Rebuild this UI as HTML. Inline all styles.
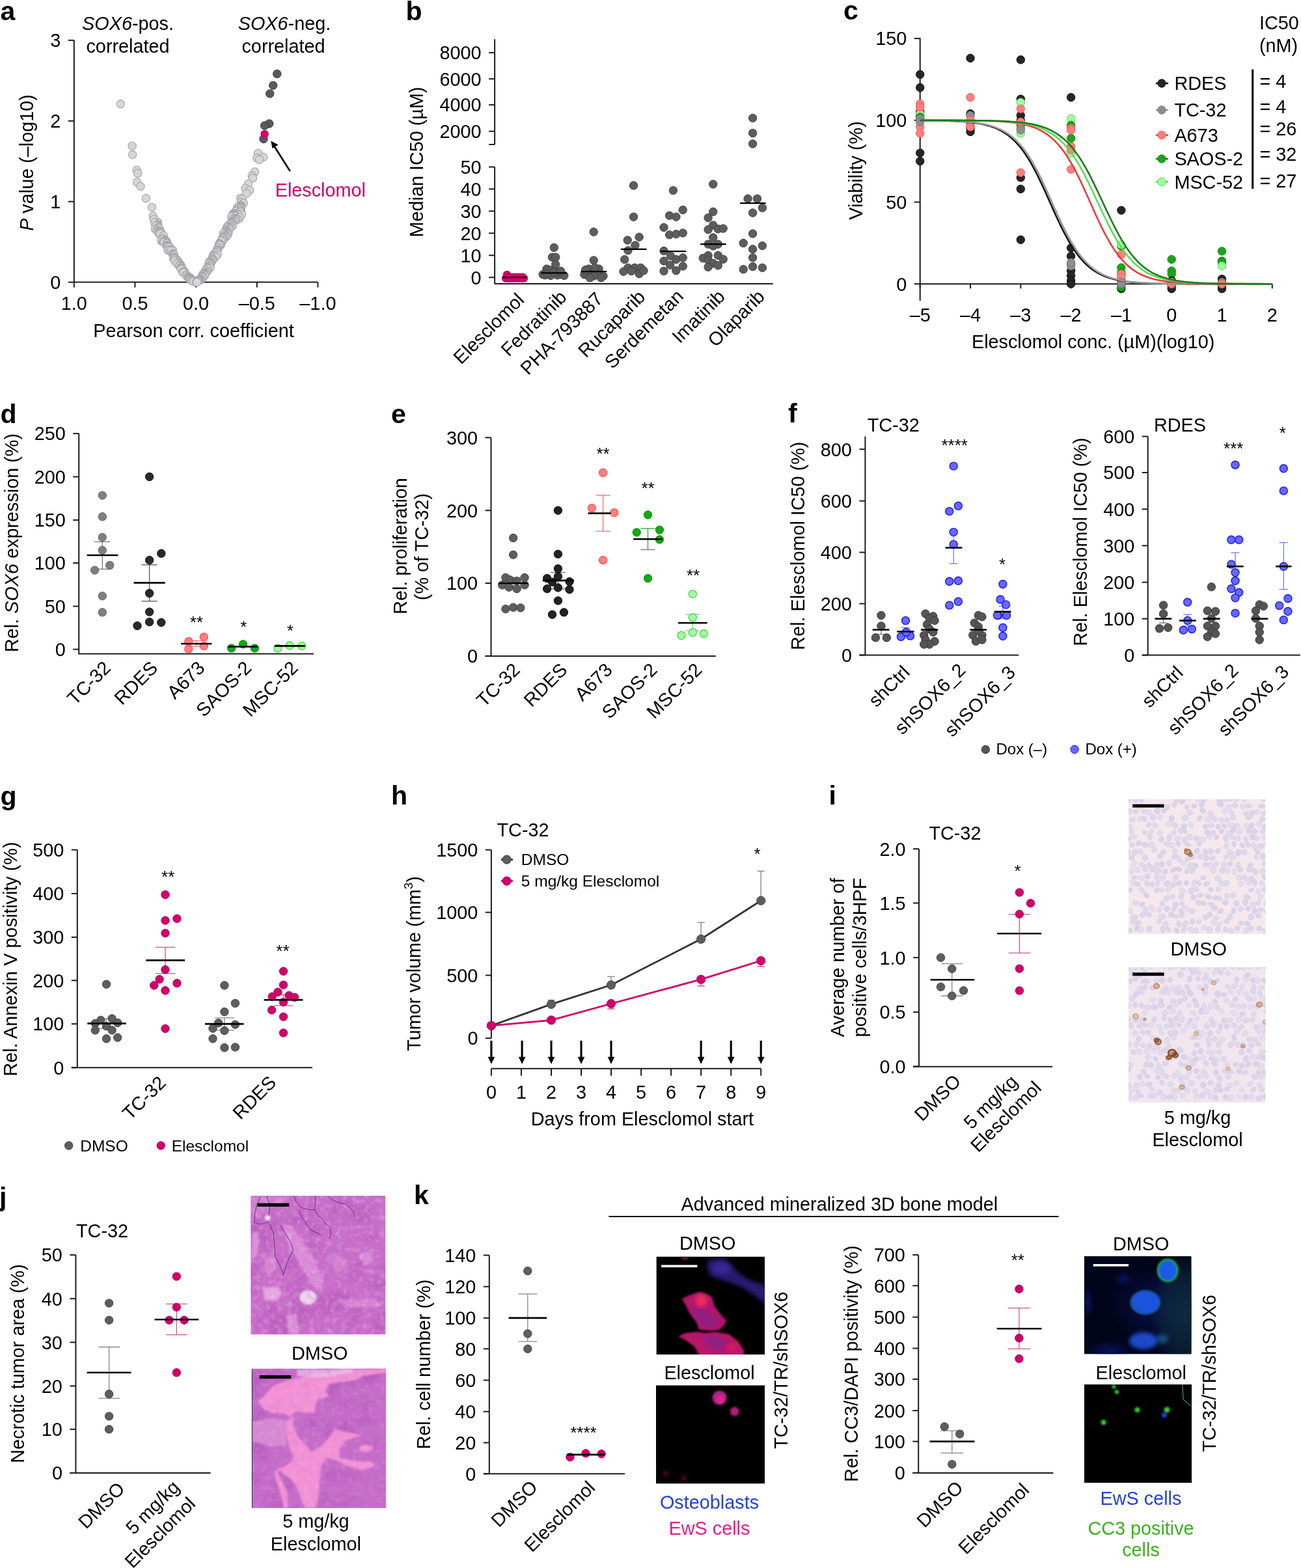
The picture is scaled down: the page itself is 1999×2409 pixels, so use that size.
<!DOCTYPE html>
<html><head><meta charset="utf-8"><title>Figure</title>
<style>
html,body{margin:0;padding:0;background:#fff;}
svg{display:block;}
text{font-family:"Liberation Sans",Arial,Helvetica,sans-serif;font-size:28.8px;}
</style></head><body>
<svg width="1999" height="2409" viewBox="0 0 1999 2409">
<defs><filter id="bl3" x="-30%" y="-30%" width="160%" height="160%"><feGaussianBlur stdDeviation="3"/></filter>
<filter id="bl2" x="-30%" y="-30%" width="160%" height="160%"><feGaussianBlur stdDeviation="1.6"/></filter>
<radialGradient id="hzG"><stop offset="0" stop-color="#0e2c40" stop-opacity="0.95"/><stop offset="0.6" stop-color="#0e2c40" stop-opacity="0.6"/><stop offset="1" stop-color="#0e2c40" stop-opacity="0"/></radialGradient>
<radialGradient id="hzB"><stop offset="0" stop-color="#0a1460" stop-opacity="0.9"/><stop offset="1" stop-color="#0a1460" stop-opacity="0"/></radialGradient>
<filter id="heD" x="0" y="0" width="100%" height="100%"><feTurbulence type="fractalNoise" baseFrequency="0.09" numOctaves="3" seed="4"/><feColorMatrix type="matrix" values="0 0 0 0 0.55 0 0 0 0 0.22 0 0 0 0 0.62 1.5 0 0 0 -0.62"/></filter>
<filter id="heL" x="0" y="0" width="100%" height="100%"><feTurbulence type="fractalNoise" baseFrequency="0.12" numOctaves="3" seed="11"/><feColorMatrix type="matrix" values="0 0 0 0 0.97 0 0 0 0 0.7 0 0 0 0 0.93 1.6 0 0 0 -0.75"/></filter>
<filter id="bl6" x="-30%" y="-30%" width="160%" height="160%"><feGaussianBlur stdDeviation="6"/></filter></defs>
<rect width="1999" height="2409" fill="#fff"/>
<text x="0.5" y="30.6" style="font-size:41px" font-weight="bold">a</text>
<line x1="113.8" y1="62" x2="113.8" y2="433.6" stroke="#1c1c1c" stroke-width="2"/>
<line x1="104.8" y1="61.9" x2="113.8" y2="61.9" stroke="#1c1c1c" stroke-width="2"/>
<text x="93.3" y="72.2" text-anchor="end">3</text>
<line x1="104.8" y1="185.8" x2="113.8" y2="185.8" stroke="#1c1c1c" stroke-width="2"/>
<text x="93.3" y="196.1" text-anchor="end">2</text>
<line x1="104.8" y1="309.7" x2="113.8" y2="309.7" stroke="#1c1c1c" stroke-width="2"/>
<text x="93.3" y="320" text-anchor="end">1</text>
<line x1="104.8" y1="433.6" x2="113.8" y2="433.6" stroke="#1c1c1c" stroke-width="2"/>
<text x="93.3" y="443.9" text-anchor="end">0</text>
<line x1="113.8" y1="433.6" x2="488.4" y2="433.6" stroke="#1c1c1c" stroke-width="2"/>
<line x1="113.8" y1="433.6" x2="113.8" y2="441.6" stroke="#1c1c1c" stroke-width="2"/>
<text x="113.8" y="476" text-anchor="middle">1.0</text>
<line x1="207.4" y1="433.6" x2="207.4" y2="441.6" stroke="#1c1c1c" stroke-width="2"/>
<text x="207.4" y="476" text-anchor="middle">0.5</text>
<line x1="301.1" y1="433.6" x2="301.1" y2="441.6" stroke="#1c1c1c" stroke-width="2"/>
<text x="301.1" y="476" text-anchor="middle">0.0</text>
<line x1="394.8" y1="433.6" x2="394.8" y2="441.6" stroke="#1c1c1c" stroke-width="2"/>
<text x="394.8" y="476" text-anchor="middle">–0.5</text>
<line x1="488.4" y1="433.6" x2="488.4" y2="441.6" stroke="#1c1c1c" stroke-width="2"/>
<text x="488.4" y="476" text-anchor="middle">–1.0</text>
<text x="297.5" y="518" text-anchor="middle">Pearson corr. coefficient</text>
<text x="51" y="250" text-anchor="middle" transform="rotate(-90 51 250)"><tspan font-style="italic">P</tspan> value (–log10)</text>
<text x="196.5" y="46" text-anchor="middle"><tspan font-style="italic">SOX6</tspan>-pos.</text>
<text x="196.5" y="80.5" text-anchor="middle">correlated</text>
<text x="437" y="46" text-anchor="middle"><tspan font-style="italic">SOX6</tspan>-neg.</text>
<text x="435.5" y="80.5" text-anchor="middle">correlated</text>
<circle cx="185.2" cy="159.8" r="6.2" fill="#d6d6d6" stroke="#a4a4ab" stroke-width="1.1"/>
<circle cx="203.1" cy="224.2" r="6.2" fill="#d6d6d6" stroke="#a4a4ab" stroke-width="1.1"/>
<circle cx="396.6" cy="235.4" r="6.2" fill="#d6d6d6" stroke="#a4a4ab" stroke-width="1.1"/>
<circle cx="203.7" cy="237.8" r="6.2" fill="#d6d6d6" stroke="#a4a4ab" stroke-width="1.1"/>
<circle cx="404.7" cy="241.6" r="6.2" fill="#d6d6d6" stroke="#a4a4ab" stroke-width="1.1"/>
<circle cx="394.8" cy="242.8" r="6.2" fill="#d6d6d6" stroke="#a4a4ab" stroke-width="1.1"/>
<circle cx="398.5" cy="245.3" r="6.2" fill="#d6d6d6" stroke="#a4a4ab" stroke-width="1.1"/>
<circle cx="210.1" cy="261.4" r="6.2" fill="#d6d6d6" stroke="#a4a4ab" stroke-width="1.1"/>
<circle cx="391.6" cy="263.9" r="6.2" fill="#d6d6d6" stroke="#a4a4ab" stroke-width="1.1"/>
<circle cx="211.8" cy="266.3" r="6.2" fill="#d6d6d6" stroke="#a4a4ab" stroke-width="1.1"/>
<circle cx="387.3" cy="270.1" r="6.2" fill="#d6d6d6" stroke="#a4a4ab" stroke-width="1.1"/>
<circle cx="388.6" cy="273.8" r="6.2" fill="#d6d6d6" stroke="#a4a4ab" stroke-width="1.1"/>
<circle cx="210.6" cy="280" r="6.2" fill="#d6d6d6" stroke="#a4a4ab" stroke-width="1.1"/>
<circle cx="381.6" cy="282.4" r="6.2" fill="#d6d6d6" stroke="#a4a4ab" stroke-width="1.1"/>
<circle cx="215.9" cy="286.2" r="6.2" fill="#d6d6d6" stroke="#a4a4ab" stroke-width="1.1"/>
<circle cx="377" cy="289.3" r="6.2" fill="#d6d6d6" stroke="#a4a4ab" stroke-width="1.1"/>
<circle cx="383.5" cy="292.4" r="6.2" fill="#d6d6d6" stroke="#a4a4ab" stroke-width="1.1"/>
<circle cx="378.8" cy="297.3" r="6.2" fill="#d6d6d6" stroke="#a4a4ab" stroke-width="1.1"/>
<circle cx="369.4" cy="304.5" r="6.2" fill="#d6d6d6" stroke="#a4a4ab" stroke-width="1.1"/>
<circle cx="224.3" cy="304.7" r="6.2" fill="#d6d6d6" stroke="#a4a4ab" stroke-width="1.1"/>
<circle cx="372.3" cy="306" r="6.2" fill="#d6d6d6" stroke="#a4a4ab" stroke-width="1.1"/>
<circle cx="370.5" cy="310.6" r="6.2" fill="#d6d6d6" stroke="#a4a4ab" stroke-width="1.1"/>
<circle cx="374.1" cy="312.2" r="6.2" fill="#d6d6d6" stroke="#a4a4ab" stroke-width="1.1"/>
<circle cx="369.4" cy="315.3" r="6.2" fill="#d6d6d6" stroke="#a4a4ab" stroke-width="1.1"/>
<circle cx="370.7" cy="316.6" r="6.2" fill="#d6d6d6" stroke="#a4a4ab" stroke-width="1.1"/>
<circle cx="369.5" cy="317.1" r="6.2" fill="#d6d6d6" stroke="#a4a4ab" stroke-width="1.1"/>
<circle cx="366.7" cy="317.9" r="6.2" fill="#d6d6d6" stroke="#a4a4ab" stroke-width="1.1"/>
<circle cx="369" cy="317.9" r="6.2" fill="#d6d6d6" stroke="#a4a4ab" stroke-width="1.1"/>
<circle cx="233.5" cy="318.4" r="6.2" fill="#d6d6d6" stroke="#a4a4ab" stroke-width="1.1"/>
<circle cx="368.9" cy="319.1" r="6.2" fill="#d6d6d6" stroke="#a4a4ab" stroke-width="1.1"/>
<circle cx="370.4" cy="319.3" r="6.2" fill="#d6d6d6" stroke="#a4a4ab" stroke-width="1.1"/>
<circle cx="369.2" cy="319.5" r="6.2" fill="#d6d6d6" stroke="#a4a4ab" stroke-width="1.1"/>
<circle cx="364.5" cy="319.6" r="6.2" fill="#d6d6d6" stroke="#a4a4ab" stroke-width="1.1"/>
<circle cx="364.8" cy="320" r="6.2" fill="#d6d6d6" stroke="#a4a4ab" stroke-width="1.1"/>
<circle cx="368.3" cy="321" r="6.2" fill="#d6d6d6" stroke="#a4a4ab" stroke-width="1.1"/>
<circle cx="367.8" cy="321.4" r="6.2" fill="#d6d6d6" stroke="#a4a4ab" stroke-width="1.1"/>
<circle cx="363.3" cy="323" r="6.2" fill="#d6d6d6" stroke="#a4a4ab" stroke-width="1.1"/>
<circle cx="364.8" cy="323.3" r="6.2" fill="#d6d6d6" stroke="#a4a4ab" stroke-width="1.1"/>
<circle cx="362.5" cy="324.4" r="6.2" fill="#d6d6d6" stroke="#a4a4ab" stroke-width="1.1"/>
<circle cx="370.4" cy="324.6" r="6.2" fill="#d6d6d6" stroke="#a4a4ab" stroke-width="1.1"/>
<circle cx="369.7" cy="325.8" r="6.2" fill="#d6d6d6" stroke="#a4a4ab" stroke-width="1.1"/>
<circle cx="363.1" cy="327.7" r="6.2" fill="#d6d6d6" stroke="#a4a4ab" stroke-width="1.1"/>
<circle cx="362.4" cy="328" r="6.2" fill="#d6d6d6" stroke="#a4a4ab" stroke-width="1.1"/>
<circle cx="358.3" cy="328.2" r="6.2" fill="#d6d6d6" stroke="#a4a4ab" stroke-width="1.1"/>
<circle cx="364.6" cy="328.2" r="6.2" fill="#d6d6d6" stroke="#a4a4ab" stroke-width="1.1"/>
<circle cx="359.6" cy="328.3" r="6.2" fill="#d6d6d6" stroke="#a4a4ab" stroke-width="1.1"/>
<circle cx="364.2" cy="328.4" r="6.2" fill="#d6d6d6" stroke="#a4a4ab" stroke-width="1.1"/>
<circle cx="360.6" cy="329.1" r="6.2" fill="#d6d6d6" stroke="#a4a4ab" stroke-width="1.1"/>
<circle cx="371.3" cy="329.5" r="6.2" fill="#d6d6d6" stroke="#a4a4ab" stroke-width="1.1"/>
<circle cx="359.1" cy="330" r="6.2" fill="#d6d6d6" stroke="#a4a4ab" stroke-width="1.1"/>
<circle cx="359.5" cy="330.2" r="6.2" fill="#d6d6d6" stroke="#a4a4ab" stroke-width="1.1"/>
<circle cx="366.1" cy="330.2" r="6.2" fill="#d6d6d6" stroke="#a4a4ab" stroke-width="1.1"/>
<circle cx="357.4" cy="331.1" r="6.2" fill="#d6d6d6" stroke="#a4a4ab" stroke-width="1.1"/>
<circle cx="361.6" cy="331.1" r="6.2" fill="#d6d6d6" stroke="#a4a4ab" stroke-width="1.1"/>
<circle cx="360.9" cy="331.3" r="6.2" fill="#d6d6d6" stroke="#a4a4ab" stroke-width="1.1"/>
<circle cx="235.2" cy="332" r="6.2" fill="#d6d6d6" stroke="#a4a4ab" stroke-width="1.1"/>
<circle cx="360.5" cy="332.5" r="6.2" fill="#d6d6d6" stroke="#a4a4ab" stroke-width="1.1"/>
<circle cx="355.6" cy="333.2" r="6.2" fill="#d6d6d6" stroke="#a4a4ab" stroke-width="1.1"/>
<circle cx="368.5" cy="334.5" r="6.2" fill="#d6d6d6" stroke="#a4a4ab" stroke-width="1.1"/>
<circle cx="360.6" cy="335.6" r="6.2" fill="#d6d6d6" stroke="#a4a4ab" stroke-width="1.1"/>
<circle cx="358" cy="336" r="6.2" fill="#d6d6d6" stroke="#a4a4ab" stroke-width="1.1"/>
<circle cx="360.4" cy="336.6" r="6.2" fill="#d6d6d6" stroke="#a4a4ab" stroke-width="1.1"/>
<circle cx="236.5" cy="337" r="6.2" fill="#d6d6d6" stroke="#a4a4ab" stroke-width="1.1"/>
<circle cx="365.7" cy="337" r="6.2" fill="#d6d6d6" stroke="#a4a4ab" stroke-width="1.1"/>
<circle cx="362.9" cy="337.3" r="6.2" fill="#d6d6d6" stroke="#a4a4ab" stroke-width="1.1"/>
<circle cx="361.6" cy="338" r="6.2" fill="#d6d6d6" stroke="#a4a4ab" stroke-width="1.1"/>
<circle cx="358.9" cy="339.3" r="6.2" fill="#d6d6d6" stroke="#a4a4ab" stroke-width="1.1"/>
<circle cx="359.1" cy="339.4" r="6.2" fill="#d6d6d6" stroke="#a4a4ab" stroke-width="1.1"/>
<circle cx="359.4" cy="340.6" r="6.2" fill="#d6d6d6" stroke="#a4a4ab" stroke-width="1.1"/>
<circle cx="356.8" cy="341.3" r="6.2" fill="#d6d6d6" stroke="#a4a4ab" stroke-width="1.1"/>
<circle cx="242.4" cy="341.5" r="6.2" fill="#d6d6d6" stroke="#a4a4ab" stroke-width="1.1"/>
<circle cx="241.5" cy="341.6" r="6.2" fill="#d6d6d6" stroke="#a4a4ab" stroke-width="1.1"/>
<circle cx="237.8" cy="341.9" r="6.2" fill="#d6d6d6" stroke="#a4a4ab" stroke-width="1.1"/>
<circle cx="357.4" cy="342" r="6.2" fill="#d6d6d6" stroke="#a4a4ab" stroke-width="1.1"/>
<circle cx="355.7" cy="342.9" r="6.2" fill="#d6d6d6" stroke="#a4a4ab" stroke-width="1.1"/>
<circle cx="356.5" cy="343.5" r="6.2" fill="#d6d6d6" stroke="#a4a4ab" stroke-width="1.1"/>
<circle cx="352.9" cy="344.4" r="6.2" fill="#d6d6d6" stroke="#a4a4ab" stroke-width="1.1"/>
<circle cx="355.7" cy="344.6" r="6.2" fill="#d6d6d6" stroke="#a4a4ab" stroke-width="1.1"/>
<circle cx="241.8" cy="345" r="6.2" fill="#d6d6d6" stroke="#a4a4ab" stroke-width="1.1"/>
<circle cx="241" cy="345.8" r="6.2" fill="#d6d6d6" stroke="#a4a4ab" stroke-width="1.1"/>
<circle cx="242.8" cy="346" r="6.2" fill="#d6d6d6" stroke="#a4a4ab" stroke-width="1.1"/>
<circle cx="242.4" cy="346.6" r="6.2" fill="#d6d6d6" stroke="#a4a4ab" stroke-width="1.1"/>
<circle cx="241.2" cy="346.7" r="6.2" fill="#d6d6d6" stroke="#a4a4ab" stroke-width="1.1"/>
<circle cx="239.3" cy="346.9" r="6.2" fill="#d6d6d6" stroke="#a4a4ab" stroke-width="1.1"/>
<circle cx="357.1" cy="347.1" r="6.2" fill="#d6d6d6" stroke="#a4a4ab" stroke-width="1.1"/>
<circle cx="353.8" cy="347.2" r="6.2" fill="#d6d6d6" stroke="#a4a4ab" stroke-width="1.1"/>
<circle cx="349.2" cy="347.9" r="6.2" fill="#d6d6d6" stroke="#a4a4ab" stroke-width="1.1"/>
<circle cx="352.6" cy="348.7" r="6.2" fill="#d6d6d6" stroke="#a4a4ab" stroke-width="1.1"/>
<circle cx="243.6" cy="348.9" r="6.2" fill="#d6d6d6" stroke="#a4a4ab" stroke-width="1.1"/>
<circle cx="353.9" cy="349.4" r="6.2" fill="#d6d6d6" stroke="#a4a4ab" stroke-width="1.1"/>
<circle cx="351.2" cy="349.6" r="6.2" fill="#d6d6d6" stroke="#a4a4ab" stroke-width="1.1"/>
<circle cx="351.3" cy="349.8" r="6.2" fill="#d6d6d6" stroke="#a4a4ab" stroke-width="1.1"/>
<circle cx="243.3" cy="349.9" r="6.2" fill="#d6d6d6" stroke="#a4a4ab" stroke-width="1.1"/>
<circle cx="349.1" cy="350" r="6.2" fill="#d6d6d6" stroke="#a4a4ab" stroke-width="1.1"/>
<circle cx="242.5" cy="350.2" r="6.2" fill="#d6d6d6" stroke="#a4a4ab" stroke-width="1.1"/>
<circle cx="244.1" cy="350.5" r="6.2" fill="#d6d6d6" stroke="#a4a4ab" stroke-width="1.1"/>
<circle cx="238.4" cy="351.8" r="6.2" fill="#d6d6d6" stroke="#a4a4ab" stroke-width="1.1"/>
<circle cx="350.1" cy="352" r="6.2" fill="#d6d6d6" stroke="#a4a4ab" stroke-width="1.1"/>
<circle cx="352.2" cy="352.4" r="6.2" fill="#d6d6d6" stroke="#a4a4ab" stroke-width="1.1"/>
<circle cx="347.3" cy="352.8" r="6.2" fill="#d6d6d6" stroke="#a4a4ab" stroke-width="1.1"/>
<circle cx="241.2" cy="353.1" r="6.2" fill="#d6d6d6" stroke="#a4a4ab" stroke-width="1.1"/>
<circle cx="347.5" cy="354.4" r="6.2" fill="#d6d6d6" stroke="#a4a4ab" stroke-width="1.1"/>
<circle cx="241.5" cy="354.9" r="6.2" fill="#d6d6d6" stroke="#a4a4ab" stroke-width="1.1"/>
<circle cx="349.8" cy="354.9" r="6.2" fill="#d6d6d6" stroke="#a4a4ab" stroke-width="1.1"/>
<circle cx="245.8" cy="354.9" r="6.2" fill="#d6d6d6" stroke="#a4a4ab" stroke-width="1.1"/>
<circle cx="244.1" cy="355" r="6.2" fill="#d6d6d6" stroke="#a4a4ab" stroke-width="1.1"/>
<circle cx="348.4" cy="355.2" r="6.2" fill="#d6d6d6" stroke="#a4a4ab" stroke-width="1.1"/>
<circle cx="244.7" cy="355.4" r="6.2" fill="#d6d6d6" stroke="#a4a4ab" stroke-width="1.1"/>
<circle cx="246.9" cy="355.5" r="6.2" fill="#d6d6d6" stroke="#a4a4ab" stroke-width="1.1"/>
<circle cx="245.8" cy="355.9" r="6.2" fill="#d6d6d6" stroke="#a4a4ab" stroke-width="1.1"/>
<circle cx="348.8" cy="355.9" r="6.2" fill="#d6d6d6" stroke="#a4a4ab" stroke-width="1.1"/>
<circle cx="350.8" cy="356.4" r="6.2" fill="#d6d6d6" stroke="#a4a4ab" stroke-width="1.1"/>
<circle cx="348.5" cy="357.1" r="6.2" fill="#d6d6d6" stroke="#a4a4ab" stroke-width="1.1"/>
<circle cx="247" cy="357.3" r="6.2" fill="#d6d6d6" stroke="#a4a4ab" stroke-width="1.1"/>
<circle cx="347.6" cy="357.5" r="6.2" fill="#d6d6d6" stroke="#a4a4ab" stroke-width="1.1"/>
<circle cx="245.6" cy="357.8" r="6.2" fill="#d6d6d6" stroke="#a4a4ab" stroke-width="1.1"/>
<circle cx="247.2" cy="357.8" r="6.2" fill="#d6d6d6" stroke="#a4a4ab" stroke-width="1.1"/>
<circle cx="348.8" cy="358.5" r="6.2" fill="#d6d6d6" stroke="#a4a4ab" stroke-width="1.1"/>
<circle cx="343.1" cy="358.7" r="6.2" fill="#d6d6d6" stroke="#a4a4ab" stroke-width="1.1"/>
<circle cx="350.5" cy="359.1" r="6.2" fill="#d6d6d6" stroke="#a4a4ab" stroke-width="1.1"/>
<circle cx="244.5" cy="359.3" r="6.2" fill="#d6d6d6" stroke="#a4a4ab" stroke-width="1.1"/>
<circle cx="246.3" cy="359.4" r="6.2" fill="#d6d6d6" stroke="#a4a4ab" stroke-width="1.1"/>
<circle cx="349.6" cy="360.3" r="6.2" fill="#d6d6d6" stroke="#a4a4ab" stroke-width="1.1"/>
<circle cx="346.6" cy="360.9" r="6.2" fill="#d6d6d6" stroke="#a4a4ab" stroke-width="1.1"/>
<circle cx="344.4" cy="362.1" r="6.2" fill="#d6d6d6" stroke="#a4a4ab" stroke-width="1.1"/>
<circle cx="251.5" cy="362.1" r="6.2" fill="#d6d6d6" stroke="#a4a4ab" stroke-width="1.1"/>
<circle cx="347.3" cy="362.4" r="6.2" fill="#d6d6d6" stroke="#a4a4ab" stroke-width="1.1"/>
<circle cx="344" cy="362.4" r="6.2" fill="#d6d6d6" stroke="#a4a4ab" stroke-width="1.1"/>
<circle cx="344.6" cy="363.9" r="6.2" fill="#d6d6d6" stroke="#a4a4ab" stroke-width="1.1"/>
<circle cx="347.2" cy="364.1" r="6.2" fill="#d6d6d6" stroke="#a4a4ab" stroke-width="1.1"/>
<circle cx="344.8" cy="364.9" r="6.2" fill="#d6d6d6" stroke="#a4a4ab" stroke-width="1.1"/>
<circle cx="343.1" cy="366" r="6.2" fill="#d6d6d6" stroke="#a4a4ab" stroke-width="1.1"/>
<circle cx="250.1" cy="366.2" r="6.2" fill="#d6d6d6" stroke="#a4a4ab" stroke-width="1.1"/>
<circle cx="341.6" cy="366.4" r="6.2" fill="#d6d6d6" stroke="#a4a4ab" stroke-width="1.1"/>
<circle cx="343.6" cy="366.9" r="6.2" fill="#d6d6d6" stroke="#a4a4ab" stroke-width="1.1"/>
<circle cx="342" cy="367" r="6.2" fill="#d6d6d6" stroke="#a4a4ab" stroke-width="1.1"/>
<circle cx="249.2" cy="367.2" r="6.2" fill="#d6d6d6" stroke="#a4a4ab" stroke-width="1.1"/>
<circle cx="254.1" cy="368.9" r="6.2" fill="#d6d6d6" stroke="#a4a4ab" stroke-width="1.1"/>
<circle cx="340.4" cy="369.1" r="6.2" fill="#d6d6d6" stroke="#a4a4ab" stroke-width="1.1"/>
<circle cx="254.3" cy="369.6" r="6.2" fill="#d6d6d6" stroke="#a4a4ab" stroke-width="1.1"/>
<circle cx="341.4" cy="369.7" r="6.2" fill="#d6d6d6" stroke="#a4a4ab" stroke-width="1.1"/>
<circle cx="341.8" cy="370" r="6.2" fill="#d6d6d6" stroke="#a4a4ab" stroke-width="1.1"/>
<circle cx="247.8" cy="370" r="6.2" fill="#d6d6d6" stroke="#a4a4ab" stroke-width="1.1"/>
<circle cx="339.6" cy="370.2" r="6.2" fill="#d6d6d6" stroke="#a4a4ab" stroke-width="1.1"/>
<circle cx="252.9" cy="370.3" r="6.2" fill="#d6d6d6" stroke="#a4a4ab" stroke-width="1.1"/>
<circle cx="252.3" cy="370.5" r="6.2" fill="#d6d6d6" stroke="#a4a4ab" stroke-width="1.1"/>
<circle cx="250.7" cy="371.2" r="6.2" fill="#d6d6d6" stroke="#a4a4ab" stroke-width="1.1"/>
<circle cx="255.9" cy="371.2" r="6.2" fill="#d6d6d6" stroke="#a4a4ab" stroke-width="1.1"/>
<circle cx="253.1" cy="371.9" r="6.2" fill="#d6d6d6" stroke="#a4a4ab" stroke-width="1.1"/>
<circle cx="254.7" cy="371.9" r="6.2" fill="#d6d6d6" stroke="#a4a4ab" stroke-width="1.1"/>
<circle cx="252" cy="372.2" r="6.2" fill="#d6d6d6" stroke="#a4a4ab" stroke-width="1.1"/>
<circle cx="252.2" cy="372.5" r="6.2" fill="#d6d6d6" stroke="#a4a4ab" stroke-width="1.1"/>
<circle cx="256.6" cy="373.1" r="6.2" fill="#d6d6d6" stroke="#a4a4ab" stroke-width="1.1"/>
<circle cx="337.3" cy="373.7" r="6.2" fill="#d6d6d6" stroke="#a4a4ab" stroke-width="1.1"/>
<circle cx="256.3" cy="373.9" r="6.2" fill="#d6d6d6" stroke="#a4a4ab" stroke-width="1.1"/>
<circle cx="337.1" cy="374.4" r="6.2" fill="#d6d6d6" stroke="#a4a4ab" stroke-width="1.1"/>
<circle cx="336.7" cy="375.4" r="6.2" fill="#d6d6d6" stroke="#a4a4ab" stroke-width="1.1"/>
<circle cx="337.9" cy="376.2" r="6.2" fill="#d6d6d6" stroke="#a4a4ab" stroke-width="1.1"/>
<circle cx="339.3" cy="376.2" r="6.2" fill="#d6d6d6" stroke="#a4a4ab" stroke-width="1.1"/>
<circle cx="255.9" cy="376.7" r="6.2" fill="#d6d6d6" stroke="#a4a4ab" stroke-width="1.1"/>
<circle cx="338.3" cy="376.7" r="6.2" fill="#d6d6d6" stroke="#a4a4ab" stroke-width="1.1"/>
<circle cx="337" cy="376.7" r="6.2" fill="#d6d6d6" stroke="#a4a4ab" stroke-width="1.1"/>
<circle cx="258.2" cy="376.8" r="6.2" fill="#d6d6d6" stroke="#a4a4ab" stroke-width="1.1"/>
<circle cx="257" cy="377.6" r="6.2" fill="#d6d6d6" stroke="#a4a4ab" stroke-width="1.1"/>
<circle cx="256.9" cy="377.8" r="6.2" fill="#d6d6d6" stroke="#a4a4ab" stroke-width="1.1"/>
<circle cx="257.5" cy="378.9" r="6.2" fill="#d6d6d6" stroke="#a4a4ab" stroke-width="1.1"/>
<circle cx="257.3" cy="379" r="6.2" fill="#d6d6d6" stroke="#a4a4ab" stroke-width="1.1"/>
<circle cx="259.3" cy="379.3" r="6.2" fill="#d6d6d6" stroke="#a4a4ab" stroke-width="1.1"/>
<circle cx="260.8" cy="379.7" r="6.2" fill="#d6d6d6" stroke="#a4a4ab" stroke-width="1.1"/>
<circle cx="259.3" cy="379.8" r="6.2" fill="#d6d6d6" stroke="#a4a4ab" stroke-width="1.1"/>
<circle cx="335.1" cy="379.9" r="6.2" fill="#d6d6d6" stroke="#a4a4ab" stroke-width="1.1"/>
<circle cx="335.2" cy="380.6" r="6.2" fill="#d6d6d6" stroke="#a4a4ab" stroke-width="1.1"/>
<circle cx="334.7" cy="383.2" r="6.2" fill="#d6d6d6" stroke="#a4a4ab" stroke-width="1.1"/>
<circle cx="261" cy="383.6" r="6.2" fill="#d6d6d6" stroke="#a4a4ab" stroke-width="1.1"/>
<circle cx="333.9" cy="384.2" r="6.2" fill="#d6d6d6" stroke="#a4a4ab" stroke-width="1.1"/>
<circle cx="258" cy="384.2" r="6.2" fill="#d6d6d6" stroke="#a4a4ab" stroke-width="1.1"/>
<circle cx="260.8" cy="384.3" r="6.2" fill="#d6d6d6" stroke="#a4a4ab" stroke-width="1.1"/>
<circle cx="265.5" cy="384.4" r="6.2" fill="#d6d6d6" stroke="#a4a4ab" stroke-width="1.1"/>
<circle cx="333.1" cy="384.7" r="6.2" fill="#d6d6d6" stroke="#a4a4ab" stroke-width="1.1"/>
<circle cx="263.1" cy="385.2" r="6.2" fill="#d6d6d6" stroke="#a4a4ab" stroke-width="1.1"/>
<circle cx="333.2" cy="385.8" r="6.2" fill="#d6d6d6" stroke="#a4a4ab" stroke-width="1.1"/>
<circle cx="333.4" cy="387.4" r="6.2" fill="#d6d6d6" stroke="#a4a4ab" stroke-width="1.1"/>
<circle cx="330.7" cy="388.7" r="6.2" fill="#d6d6d6" stroke="#a4a4ab" stroke-width="1.1"/>
<circle cx="264.6" cy="389.7" r="6.2" fill="#d6d6d6" stroke="#a4a4ab" stroke-width="1.1"/>
<circle cx="266.6" cy="390.4" r="6.2" fill="#d6d6d6" stroke="#a4a4ab" stroke-width="1.1"/>
<circle cx="266.4" cy="391.2" r="6.2" fill="#d6d6d6" stroke="#a4a4ab" stroke-width="1.1"/>
<circle cx="333.8" cy="391.4" r="6.2" fill="#d6d6d6" stroke="#a4a4ab" stroke-width="1.1"/>
<circle cx="328.1" cy="391.6" r="6.2" fill="#d6d6d6" stroke="#a4a4ab" stroke-width="1.1"/>
<circle cx="267.4" cy="391.8" r="6.2" fill="#d6d6d6" stroke="#a4a4ab" stroke-width="1.1"/>
<circle cx="328.8" cy="392" r="6.2" fill="#d6d6d6" stroke="#a4a4ab" stroke-width="1.1"/>
<circle cx="327.1" cy="393.5" r="6.2" fill="#d6d6d6" stroke="#a4a4ab" stroke-width="1.1"/>
<circle cx="328.4" cy="394.1" r="6.2" fill="#d6d6d6" stroke="#a4a4ab" stroke-width="1.1"/>
<circle cx="267.2" cy="394.8" r="6.2" fill="#d6d6d6" stroke="#a4a4ab" stroke-width="1.1"/>
<circle cx="331.5" cy="394.8" r="6.2" fill="#d6d6d6" stroke="#a4a4ab" stroke-width="1.1"/>
<circle cx="267" cy="395.3" r="6.2" fill="#d6d6d6" stroke="#a4a4ab" stroke-width="1.1"/>
<circle cx="266.5" cy="397" r="6.2" fill="#d6d6d6" stroke="#a4a4ab" stroke-width="1.1"/>
<circle cx="327.1" cy="397.4" r="6.2" fill="#d6d6d6" stroke="#a4a4ab" stroke-width="1.1"/>
<circle cx="270.3" cy="397.5" r="6.2" fill="#d6d6d6" stroke="#a4a4ab" stroke-width="1.1"/>
<circle cx="325.7" cy="397.8" r="6.2" fill="#d6d6d6" stroke="#a4a4ab" stroke-width="1.1"/>
<circle cx="270" cy="397.8" r="6.2" fill="#d6d6d6" stroke="#a4a4ab" stroke-width="1.1"/>
<circle cx="268.3" cy="397.9" r="6.2" fill="#d6d6d6" stroke="#a4a4ab" stroke-width="1.1"/>
<circle cx="269.2" cy="398" r="6.2" fill="#d6d6d6" stroke="#a4a4ab" stroke-width="1.1"/>
<circle cx="326.6" cy="399.4" r="6.2" fill="#d6d6d6" stroke="#a4a4ab" stroke-width="1.1"/>
<circle cx="326.5" cy="399.5" r="6.2" fill="#d6d6d6" stroke="#a4a4ab" stroke-width="1.1"/>
<circle cx="271.6" cy="400" r="6.2" fill="#d6d6d6" stroke="#a4a4ab" stroke-width="1.1"/>
<circle cx="325" cy="400.1" r="6.2" fill="#d6d6d6" stroke="#a4a4ab" stroke-width="1.1"/>
<circle cx="273" cy="400.6" r="6.2" fill="#d6d6d6" stroke="#a4a4ab" stroke-width="1.1"/>
<circle cx="268.7" cy="401" r="6.2" fill="#d6d6d6" stroke="#a4a4ab" stroke-width="1.1"/>
<circle cx="323.1" cy="402" r="6.2" fill="#d6d6d6" stroke="#a4a4ab" stroke-width="1.1"/>
<circle cx="321.9" cy="402.2" r="6.2" fill="#d6d6d6" stroke="#a4a4ab" stroke-width="1.1"/>
<circle cx="322.8" cy="403" r="6.2" fill="#d6d6d6" stroke="#a4a4ab" stroke-width="1.1"/>
<circle cx="274" cy="403.2" r="6.2" fill="#d6d6d6" stroke="#a4a4ab" stroke-width="1.1"/>
<circle cx="324" cy="403.6" r="6.2" fill="#d6d6d6" stroke="#a4a4ab" stroke-width="1.1"/>
<circle cx="322.5" cy="403.9" r="6.2" fill="#d6d6d6" stroke="#a4a4ab" stroke-width="1.1"/>
<circle cx="323.9" cy="404.1" r="6.2" fill="#d6d6d6" stroke="#a4a4ab" stroke-width="1.1"/>
<circle cx="323.5" cy="404.5" r="6.2" fill="#d6d6d6" stroke="#a4a4ab" stroke-width="1.1"/>
<circle cx="275" cy="404.5" r="6.2" fill="#d6d6d6" stroke="#a4a4ab" stroke-width="1.1"/>
<circle cx="322.9" cy="404.5" r="6.2" fill="#d6d6d6" stroke="#a4a4ab" stroke-width="1.1"/>
<circle cx="320.8" cy="404.8" r="6.2" fill="#d6d6d6" stroke="#a4a4ab" stroke-width="1.1"/>
<circle cx="272" cy="405.2" r="6.2" fill="#d6d6d6" stroke="#a4a4ab" stroke-width="1.1"/>
<circle cx="277.2" cy="406.6" r="6.2" fill="#d6d6d6" stroke="#a4a4ab" stroke-width="1.1"/>
<circle cx="321.3" cy="406.9" r="6.2" fill="#d6d6d6" stroke="#a4a4ab" stroke-width="1.1"/>
<circle cx="277" cy="407" r="6.2" fill="#d6d6d6" stroke="#a4a4ab" stroke-width="1.1"/>
<circle cx="275.6" cy="408" r="6.2" fill="#d6d6d6" stroke="#a4a4ab" stroke-width="1.1"/>
<circle cx="276.6" cy="408" r="6.2" fill="#d6d6d6" stroke="#a4a4ab" stroke-width="1.1"/>
<circle cx="323" cy="408" r="6.2" fill="#d6d6d6" stroke="#a4a4ab" stroke-width="1.1"/>
<circle cx="276.1" cy="408.4" r="6.2" fill="#d6d6d6" stroke="#a4a4ab" stroke-width="1.1"/>
<circle cx="322.6" cy="408.9" r="6.2" fill="#d6d6d6" stroke="#a4a4ab" stroke-width="1.1"/>
<circle cx="279.1" cy="409.8" r="6.2" fill="#d6d6d6" stroke="#a4a4ab" stroke-width="1.1"/>
<circle cx="319.4" cy="410.4" r="6.2" fill="#d6d6d6" stroke="#a4a4ab" stroke-width="1.1"/>
<circle cx="319.1" cy="410.8" r="6.2" fill="#d6d6d6" stroke="#a4a4ab" stroke-width="1.1"/>
<circle cx="278.2" cy="411.2" r="6.2" fill="#d6d6d6" stroke="#a4a4ab" stroke-width="1.1"/>
<circle cx="278.2" cy="411.4" r="6.2" fill="#d6d6d6" stroke="#a4a4ab" stroke-width="1.1"/>
<circle cx="322.6" cy="411.4" r="6.2" fill="#d6d6d6" stroke="#a4a4ab" stroke-width="1.1"/>
<circle cx="318.3" cy="412" r="6.2" fill="#d6d6d6" stroke="#a4a4ab" stroke-width="1.1"/>
<circle cx="277.7" cy="412" r="6.2" fill="#d6d6d6" stroke="#a4a4ab" stroke-width="1.1"/>
<circle cx="278.6" cy="412.1" r="6.2" fill="#d6d6d6" stroke="#a4a4ab" stroke-width="1.1"/>
<circle cx="279.1" cy="412.5" r="6.2" fill="#d6d6d6" stroke="#a4a4ab" stroke-width="1.1"/>
<circle cx="319.2" cy="412.6" r="6.2" fill="#d6d6d6" stroke="#a4a4ab" stroke-width="1.1"/>
<circle cx="280" cy="413.1" r="6.2" fill="#d6d6d6" stroke="#a4a4ab" stroke-width="1.1"/>
<circle cx="280.5" cy="413.4" r="6.2" fill="#d6d6d6" stroke="#a4a4ab" stroke-width="1.1"/>
<circle cx="278.5" cy="413.7" r="6.2" fill="#d6d6d6" stroke="#a4a4ab" stroke-width="1.1"/>
<circle cx="315.7" cy="414.9" r="6.2" fill="#d6d6d6" stroke="#a4a4ab" stroke-width="1.1"/>
<circle cx="318.6" cy="416.2" r="6.2" fill="#d6d6d6" stroke="#a4a4ab" stroke-width="1.1"/>
<circle cx="317.2" cy="417.5" r="6.2" fill="#d6d6d6" stroke="#a4a4ab" stroke-width="1.1"/>
<circle cx="281.6" cy="417.5" r="6.2" fill="#d6d6d6" stroke="#a4a4ab" stroke-width="1.1"/>
<circle cx="283.3" cy="417.7" r="6.2" fill="#d6d6d6" stroke="#a4a4ab" stroke-width="1.1"/>
<circle cx="283.6" cy="417.7" r="6.2" fill="#d6d6d6" stroke="#a4a4ab" stroke-width="1.1"/>
<circle cx="282" cy="417.9" r="6.2" fill="#d6d6d6" stroke="#a4a4ab" stroke-width="1.1"/>
<circle cx="282.3" cy="418.1" r="6.2" fill="#d6d6d6" stroke="#a4a4ab" stroke-width="1.1"/>
<circle cx="281.1" cy="418.4" r="6.2" fill="#d6d6d6" stroke="#a4a4ab" stroke-width="1.1"/>
<circle cx="283.3" cy="418.4" r="6.2" fill="#d6d6d6" stroke="#a4a4ab" stroke-width="1.1"/>
<circle cx="283.2" cy="418.5" r="6.2" fill="#d6d6d6" stroke="#a4a4ab" stroke-width="1.1"/>
<circle cx="282" cy="418.7" r="6.2" fill="#d6d6d6" stroke="#a4a4ab" stroke-width="1.1"/>
<circle cx="314.8" cy="418.9" r="6.2" fill="#d6d6d6" stroke="#a4a4ab" stroke-width="1.1"/>
<circle cx="315.6" cy="419.1" r="6.2" fill="#d6d6d6" stroke="#a4a4ab" stroke-width="1.1"/>
<circle cx="315.8" cy="419.8" r="6.2" fill="#d6d6d6" stroke="#a4a4ab" stroke-width="1.1"/>
<circle cx="313.9" cy="419.9" r="6.2" fill="#d6d6d6" stroke="#a4a4ab" stroke-width="1.1"/>
<circle cx="313.2" cy="420.8" r="6.2" fill="#d6d6d6" stroke="#a4a4ab" stroke-width="1.1"/>
<circle cx="312.4" cy="421.4" r="6.2" fill="#d6d6d6" stroke="#a4a4ab" stroke-width="1.1"/>
<circle cx="311.8" cy="421.7" r="6.2" fill="#d6d6d6" stroke="#a4a4ab" stroke-width="1.1"/>
<circle cx="313.4" cy="421.8" r="6.2" fill="#d6d6d6" stroke="#a4a4ab" stroke-width="1.1"/>
<circle cx="311.8" cy="421.8" r="6.2" fill="#d6d6d6" stroke="#a4a4ab" stroke-width="1.1"/>
<circle cx="286.3" cy="422.2" r="6.2" fill="#d6d6d6" stroke="#a4a4ab" stroke-width="1.1"/>
<circle cx="314.2" cy="423.5" r="6.2" fill="#d6d6d6" stroke="#a4a4ab" stroke-width="1.1"/>
<circle cx="310.7" cy="423.7" r="6.2" fill="#d6d6d6" stroke="#a4a4ab" stroke-width="1.1"/>
<circle cx="287.4" cy="423.9" r="6.2" fill="#d6d6d6" stroke="#a4a4ab" stroke-width="1.1"/>
<circle cx="286.9" cy="424" r="6.2" fill="#d6d6d6" stroke="#a4a4ab" stroke-width="1.1"/>
<circle cx="310.9" cy="424.4" r="6.2" fill="#d6d6d6" stroke="#a4a4ab" stroke-width="1.1"/>
<circle cx="289.2" cy="425.2" r="6.2" fill="#d6d6d6" stroke="#a4a4ab" stroke-width="1.1"/>
<circle cx="311.5" cy="425.7" r="6.2" fill="#d6d6d6" stroke="#a4a4ab" stroke-width="1.1"/>
<circle cx="311.7" cy="425.9" r="6.2" fill="#d6d6d6" stroke="#a4a4ab" stroke-width="1.1"/>
<circle cx="289.2" cy="426.1" r="6.2" fill="#d6d6d6" stroke="#a4a4ab" stroke-width="1.1"/>
<circle cx="310.7" cy="426.1" r="6.2" fill="#d6d6d6" stroke="#a4a4ab" stroke-width="1.1"/>
<circle cx="311.3" cy="426.2" r="6.2" fill="#d6d6d6" stroke="#a4a4ab" stroke-width="1.1"/>
<circle cx="289.5" cy="426.2" r="6.2" fill="#d6d6d6" stroke="#a4a4ab" stroke-width="1.1"/>
<circle cx="291.8" cy="426.3" r="6.2" fill="#d6d6d6" stroke="#a4a4ab" stroke-width="1.1"/>
<circle cx="289.7" cy="427.2" r="6.2" fill="#d6d6d6" stroke="#a4a4ab" stroke-width="1.1"/>
<circle cx="292" cy="427.4" r="6.2" fill="#d6d6d6" stroke="#a4a4ab" stroke-width="1.1"/>
<circle cx="290.7" cy="428.1" r="6.2" fill="#d6d6d6" stroke="#a4a4ab" stroke-width="1.1"/>
<circle cx="290.6" cy="428.4" r="6.2" fill="#d6d6d6" stroke="#a4a4ab" stroke-width="1.1"/>
<circle cx="308.6" cy="428.5" r="6.2" fill="#d6d6d6" stroke="#a4a4ab" stroke-width="1.1"/>
<circle cx="309.7" cy="428.7" r="6.2" fill="#d6d6d6" stroke="#a4a4ab" stroke-width="1.1"/>
<circle cx="307.2" cy="428.7" r="6.2" fill="#d6d6d6" stroke="#a4a4ab" stroke-width="1.1"/>
<circle cx="292" cy="429.1" r="6.2" fill="#d6d6d6" stroke="#a4a4ab" stroke-width="1.1"/>
<circle cx="307.3" cy="429.1" r="6.2" fill="#d6d6d6" stroke="#a4a4ab" stroke-width="1.1"/>
<circle cx="307.1" cy="429.1" r="6.2" fill="#d6d6d6" stroke="#a4a4ab" stroke-width="1.1"/>
<circle cx="307.7" cy="429.5" r="6.2" fill="#d6d6d6" stroke="#a4a4ab" stroke-width="1.1"/>
<circle cx="292.8" cy="429.6" r="6.2" fill="#d6d6d6" stroke="#a4a4ab" stroke-width="1.1"/>
<circle cx="293.6" cy="429.6" r="6.2" fill="#d6d6d6" stroke="#a4a4ab" stroke-width="1.1"/>
<circle cx="307.7" cy="429.7" r="6.2" fill="#d6d6d6" stroke="#a4a4ab" stroke-width="1.1"/>
<circle cx="306.3" cy="429.8" r="6.2" fill="#d6d6d6" stroke="#a4a4ab" stroke-width="1.1"/>
<circle cx="306.2" cy="429.8" r="6.2" fill="#d6d6d6" stroke="#a4a4ab" stroke-width="1.1"/>
<circle cx="295.8" cy="430.3" r="6.2" fill="#d6d6d6" stroke="#a4a4ab" stroke-width="1.1"/>
<circle cx="305.7" cy="430.3" r="6.2" fill="#d6d6d6" stroke="#a4a4ab" stroke-width="1.1"/>
<circle cx="295.6" cy="430.4" r="6.2" fill="#d6d6d6" stroke="#a4a4ab" stroke-width="1.1"/>
<circle cx="304.9" cy="430.5" r="6.2" fill="#d6d6d6" stroke="#a4a4ab" stroke-width="1.1"/>
<circle cx="304.1" cy="431.1" r="6.2" fill="#d6d6d6" stroke="#a4a4ab" stroke-width="1.1"/>
<circle cx="297.3" cy="431.1" r="6.2" fill="#d6d6d6" stroke="#a4a4ab" stroke-width="1.1"/>
<circle cx="304.6" cy="431.3" r="6.2" fill="#d6d6d6" stroke="#a4a4ab" stroke-width="1.1"/>
<circle cx="295.6" cy="431.7" r="6.2" fill="#d6d6d6" stroke="#a4a4ab" stroke-width="1.1"/>
<circle cx="298.2" cy="431.7" r="6.2" fill="#d6d6d6" stroke="#a4a4ab" stroke-width="1.1"/>
<circle cx="304.6" cy="431.7" r="6.2" fill="#d6d6d6" stroke="#a4a4ab" stroke-width="1.1"/>
<circle cx="303.4" cy="432" r="6.2" fill="#d6d6d6" stroke="#a4a4ab" stroke-width="1.1"/>
<circle cx="297.3" cy="432.3" r="6.2" fill="#d6d6d6" stroke="#a4a4ab" stroke-width="1.1"/>
<circle cx="301.6" cy="433.3" r="6.2" fill="#d6d6d6" stroke="#a4a4ab" stroke-width="1.1"/>
<circle cx="302.7" cy="433.6" r="6.2" fill="#d6d6d6" stroke="#a4a4ab" stroke-width="1.1"/>
<circle cx="405" cy="213.5" r="6.2" fill="#5a5a5a" stroke="#3a3a3a" stroke-width="1"/>
<circle cx="425.7" cy="113.5" r="6.2" fill="#5a5a5a" stroke="#3a3a3a" stroke-width="1"/>
<circle cx="419.7" cy="131.2" r="6.2" fill="#5a5a5a" stroke="#3a3a3a" stroke-width="1"/>
<circle cx="414.7" cy="143.9" r="6.2" fill="#5a5a5a" stroke="#3a3a3a" stroke-width="1"/>
<circle cx="413.7" cy="190" r="6.2" fill="#5a5a5a" stroke="#3a3a3a" stroke-width="1"/>
<circle cx="406.6" cy="193" r="6.2" fill="#5a5a5a" stroke="#3a3a3a" stroke-width="1"/>
<circle cx="406.6" cy="205.9" r="6.2" fill="#d1006a"/>
<line x1="445.8" y1="263.1" x2="421" y2="224" stroke="#000" stroke-width="2.6"/>
<polygon points="416.3,216.5 427.5,222.5 418.5,228" fill="#000"/>
<text x="422.7" y="302.3" fill="#d1006a">Elesclomol</text>
<text x="623.5" y="31" style="font-size:41px" font-weight="bold">b</text>
<line x1="760.1" y1="60.2" x2="760.1" y2="222" stroke="#1c1c1c" stroke-width="2"/>
<line x1="760.1" y1="256.5" x2="760.1" y2="436.1" stroke="#1c1c1c" stroke-width="2"/>
<line x1="751.1" y1="80.9" x2="760.1" y2="80.9" stroke="#1c1c1c" stroke-width="2"/>
<text x="739.6" y="91.2" text-anchor="end">8000</text>
<line x1="751.1" y1="121.2" x2="760.1" y2="121.2" stroke="#1c1c1c" stroke-width="2"/>
<text x="739.6" y="131.5" text-anchor="end">6000</text>
<line x1="751.1" y1="161.1" x2="760.1" y2="161.1" stroke="#1c1c1c" stroke-width="2"/>
<text x="739.6" y="171.4" text-anchor="end">4000</text>
<line x1="751.1" y1="201.7" x2="760.1" y2="201.7" stroke="#1c1c1c" stroke-width="2"/>
<text x="739.6" y="212" text-anchor="end">2000</text>
<line x1="751.1" y1="222" x2="760.1" y2="222" stroke="#1c1c1c" stroke-width="2"/>
<line x1="751.1" y1="426.2" x2="760.1" y2="426.2" stroke="#1c1c1c" stroke-width="2"/>
<text x="739.6" y="436.5" text-anchor="end">0</text>
<line x1="751.1" y1="392.3" x2="760.1" y2="392.3" stroke="#1c1c1c" stroke-width="2"/>
<text x="739.6" y="402.6" text-anchor="end">10</text>
<line x1="751.1" y1="358.3" x2="760.1" y2="358.3" stroke="#1c1c1c" stroke-width="2"/>
<text x="739.6" y="368.6" text-anchor="end">20</text>
<line x1="751.1" y1="324.4" x2="760.1" y2="324.4" stroke="#1c1c1c" stroke-width="2"/>
<text x="739.6" y="334.7" text-anchor="end">30</text>
<line x1="751.1" y1="290.4" x2="760.1" y2="290.4" stroke="#1c1c1c" stroke-width="2"/>
<text x="739.6" y="300.7" text-anchor="end">40</text>
<line x1="751.1" y1="256.5" x2="760.1" y2="256.5" stroke="#1c1c1c" stroke-width="2"/>
<text x="739.6" y="266.8" text-anchor="end">50</text>
<line x1="760.1" y1="436.1" x2="1187.6" y2="436.1" stroke="#1c1c1c" stroke-width="2"/>
<text x="650" y="249" text-anchor="middle" transform="rotate(-90 650 249)">Median IC50 (µM)</text>
<text x="807" y="462.5" text-anchor="end" transform="rotate(-45 807 462.5)">Elesclomol</text>
<text x="872.3" y="458.5" text-anchor="end" transform="rotate(-45 872.3 458.5)">Fedratinib</text>
<text x="928.2" y="461" text-anchor="end" transform="rotate(-45 928.2 461)">PHA-793887</text>
<text x="993" y="458" text-anchor="end" transform="rotate(-45 993 458)">Rucaparib</text>
<text x="1051.9" y="457" text-anchor="end" transform="rotate(-45 1051.9 457)">Serdemetan</text>
<text x="1115.7" y="457.5" text-anchor="end" transform="rotate(-45 1115.7 457.5)">Imatinib</text>
<text x="1176.6" y="457.5" text-anchor="end" transform="rotate(-45 1176.6 457.5)">Olaparib</text>
<circle cx="777" cy="427.7" r="6.2" fill="#d1006a"/>
<circle cx="781" cy="427.7" r="6.2" fill="#d1006a"/>
<circle cx="785" cy="427.7" r="6.2" fill="#d1006a"/>
<circle cx="789" cy="427.7" r="6.2" fill="#d1006a"/>
<circle cx="793" cy="427.7" r="6.2" fill="#d1006a"/>
<circle cx="797" cy="427.7" r="6.2" fill="#d1006a"/>
<circle cx="801" cy="427.7" r="6.2" fill="#d1006a"/>
<circle cx="805" cy="427.7" r="6.2" fill="#d1006a"/>
<circle cx="779" cy="425.7" r="6.2" fill="#d1006a"/>
<circle cx="787" cy="425.7" r="6.2" fill="#d1006a"/>
<circle cx="795" cy="425.7" r="6.2" fill="#d1006a"/>
<circle cx="803" cy="425.7" r="6.2" fill="#d1006a"/>
<circle cx="783" cy="425.7" r="6.2" fill="#d1006a"/>
<circle cx="791" cy="425.7" r="6.2" fill="#d1006a"/>
<circle cx="799" cy="425.7" r="6.2" fill="#d1006a"/>
<circle cx="779" cy="422" r="6.2" fill="#d1006a"/>
<circle cx="851.3" cy="380.4" r="6.2" fill="#5d5d5d" stroke="#444" stroke-width="1"/>
<circle cx="848.5" cy="395.2" r="6.2" fill="#5d5d5d" stroke="#444" stroke-width="1"/>
<circle cx="853.7" cy="395.2" r="6.2" fill="#5d5d5d" stroke="#444" stroke-width="1"/>
<circle cx="853.7" cy="406.2" r="6.2" fill="#5d5d5d" stroke="#444" stroke-width="1"/>
<circle cx="839.9" cy="413.1" r="6.2" fill="#5d5d5d" stroke="#444" stroke-width="1"/>
<circle cx="834.1" cy="421.7" r="6.2" fill="#5d5d5d" stroke="#444" stroke-width="1"/>
<circle cx="844.4" cy="414.8" r="6.2" fill="#5d5d5d" stroke="#444" stroke-width="1"/>
<circle cx="861.6" cy="421.7" r="6.2" fill="#5d5d5d" stroke="#444" stroke-width="1"/>
<circle cx="866.8" cy="423.4" r="6.2" fill="#5d5d5d" stroke="#444" stroke-width="1"/>
<circle cx="856.5" cy="422.7" r="6.2" fill="#5d5d5d" stroke="#444" stroke-width="1"/>
<circle cx="846.1" cy="423.4" r="6.2" fill="#5d5d5d" stroke="#444" stroke-width="1"/>
<circle cx="837.5" cy="422.7" r="6.2" fill="#5d5d5d" stroke="#444" stroke-width="1"/>
<circle cx="841" cy="420.7" r="6.2" fill="#5d5d5d" stroke="#444" stroke-width="1"/>
<circle cx="856.5" cy="418.2" r="6.2" fill="#5d5d5d" stroke="#444" stroke-width="1"/>
<circle cx="851.3" cy="418.2" r="6.2" fill="#5d5d5d" stroke="#444" stroke-width="1"/>
<circle cx="861.6" cy="416.5" r="6.2" fill="#5d5d5d" stroke="#444" stroke-width="1"/>
<circle cx="912.2" cy="356.3" r="6.2" fill="#5d5d5d" stroke="#444" stroke-width="1"/>
<circle cx="912.2" cy="400" r="6.2" fill="#5d5d5d" stroke="#444" stroke-width="1"/>
<circle cx="904.6" cy="413.1" r="6.2" fill="#5d5d5d" stroke="#444" stroke-width="1"/>
<circle cx="920.1" cy="413.1" r="6.2" fill="#5d5d5d" stroke="#444" stroke-width="1"/>
<circle cx="897.8" cy="421.7" r="6.2" fill="#5d5d5d" stroke="#444" stroke-width="1"/>
<circle cx="902.9" cy="422.7" r="6.2" fill="#5d5d5d" stroke="#444" stroke-width="1"/>
<circle cx="912.2" cy="420" r="6.2" fill="#5d5d5d" stroke="#444" stroke-width="1"/>
<circle cx="920.1" cy="422.7" r="6.2" fill="#5d5d5d" stroke="#444" stroke-width="1"/>
<circle cx="927" cy="424.1" r="6.2" fill="#5d5d5d" stroke="#444" stroke-width="1"/>
<circle cx="912.2" cy="424.1" r="6.2" fill="#5d5d5d" stroke="#444" stroke-width="1"/>
<circle cx="906.4" cy="426.9" r="6.2" fill="#5d5d5d" stroke="#444" stroke-width="1"/>
<circle cx="923.6" cy="426.9" r="6.2" fill="#5d5d5d" stroke="#444" stroke-width="1"/>
<circle cx="899.5" cy="414.8" r="6.2" fill="#5d5d5d" stroke="#444" stroke-width="1"/>
<circle cx="913.9" cy="411.4" r="6.2" fill="#5d5d5d" stroke="#444" stroke-width="1"/>
<circle cx="973.5" cy="285" r="6.2" fill="#5d5d5d" stroke="#444" stroke-width="1"/>
<circle cx="973.5" cy="333.2" r="6.2" fill="#5d5d5d" stroke="#444" stroke-width="1"/>
<circle cx="964.2" cy="369" r="6.2" fill="#5d5d5d" stroke="#444" stroke-width="1"/>
<circle cx="982.1" cy="364.2" r="6.2" fill="#5d5d5d" stroke="#444" stroke-width="1"/>
<circle cx="975.9" cy="376.9" r="6.2" fill="#5d5d5d" stroke="#444" stroke-width="1"/>
<circle cx="964.9" cy="384.9" r="6.2" fill="#5d5d5d" stroke="#444" stroke-width="1"/>
<circle cx="959.7" cy="398.6" r="6.2" fill="#5d5d5d" stroke="#444" stroke-width="1"/>
<circle cx="964.9" cy="411.4" r="6.2" fill="#5d5d5d" stroke="#444" stroke-width="1"/>
<circle cx="975.2" cy="411.4" r="6.2" fill="#5d5d5d" stroke="#444" stroke-width="1"/>
<circle cx="984.5" cy="411.4" r="6.2" fill="#5d5d5d" stroke="#444" stroke-width="1"/>
<circle cx="958" cy="417.2" r="6.2" fill="#5d5d5d" stroke="#444" stroke-width="1"/>
<circle cx="970.1" cy="416.5" r="6.2" fill="#5d5d5d" stroke="#444" stroke-width="1"/>
<circle cx="982.1" cy="420.7" r="6.2" fill="#5d5d5d" stroke="#444" stroke-width="1"/>
<circle cx="989" cy="415.8" r="6.2" fill="#5d5d5d" stroke="#444" stroke-width="1"/>
<circle cx="1034.4" cy="292.6" r="6.2" fill="#5d5d5d" stroke="#444" stroke-width="1"/>
<circle cx="1049.2" cy="322.5" r="6.2" fill="#5d5d5d" stroke="#444" stroke-width="1"/>
<circle cx="1028.6" cy="331.2" r="6.2" fill="#5d5d5d" stroke="#444" stroke-width="1"/>
<circle cx="1038.9" cy="333.2" r="6.2" fill="#5d5d5d" stroke="#444" stroke-width="1"/>
<circle cx="1020" cy="349.4" r="6.2" fill="#5d5d5d" stroke="#444" stroke-width="1"/>
<circle cx="1028.6" cy="360.8" r="6.2" fill="#5d5d5d" stroke="#444" stroke-width="1"/>
<circle cx="1038.9" cy="359.7" r="6.2" fill="#5d5d5d" stroke="#444" stroke-width="1"/>
<circle cx="1049.2" cy="358" r="6.2" fill="#5d5d5d" stroke="#444" stroke-width="1"/>
<circle cx="1020" cy="385.5" r="6.2" fill="#5d5d5d" stroke="#444" stroke-width="1"/>
<circle cx="1030.3" cy="393.1" r="6.2" fill="#5d5d5d" stroke="#444" stroke-width="1"/>
<circle cx="1038.9" cy="398.6" r="6.2" fill="#5d5d5d" stroke="#444" stroke-width="1"/>
<circle cx="1049.2" cy="395.9" r="6.2" fill="#5d5d5d" stroke="#444" stroke-width="1"/>
<circle cx="1020" cy="401" r="6.2" fill="#5d5d5d" stroke="#444" stroke-width="1"/>
<circle cx="1029.6" cy="407.2" r="6.2" fill="#5d5d5d" stroke="#444" stroke-width="1"/>
<circle cx="1049.2" cy="409" r="6.2" fill="#5d5d5d" stroke="#444" stroke-width="1"/>
<circle cx="1020" cy="416.5" r="6.2" fill="#5d5d5d" stroke="#444" stroke-width="1"/>
<circle cx="1038.9" cy="415.8" r="6.2" fill="#5d5d5d" stroke="#444" stroke-width="1"/>
<circle cx="1095.7" cy="283" r="6.2" fill="#5d5d5d" stroke="#444" stroke-width="1"/>
<circle cx="1095.7" cy="325.3" r="6.2" fill="#5d5d5d" stroke="#444" stroke-width="1"/>
<circle cx="1088.1" cy="334.6" r="6.2" fill="#5d5d5d" stroke="#444" stroke-width="1"/>
<circle cx="1095.7" cy="346" r="6.2" fill="#5d5d5d" stroke="#444" stroke-width="1"/>
<circle cx="1088.1" cy="352.8" r="6.2" fill="#5d5d5d" stroke="#444" stroke-width="1"/>
<circle cx="1103.3" cy="351.8" r="6.2" fill="#5d5d5d" stroke="#444" stroke-width="1"/>
<circle cx="1111.2" cy="351.1" r="6.2" fill="#5d5d5d" stroke="#444" stroke-width="1"/>
<circle cx="1095.7" cy="364.9" r="6.2" fill="#5d5d5d" stroke="#444" stroke-width="1"/>
<circle cx="1088.1" cy="375.2" r="6.2" fill="#5d5d5d" stroke="#444" stroke-width="1"/>
<circle cx="1103.3" cy="375.2" r="6.2" fill="#5d5d5d" stroke="#444" stroke-width="1"/>
<circle cx="1095.7" cy="378" r="6.2" fill="#5d5d5d" stroke="#444" stroke-width="1"/>
<circle cx="1088.1" cy="392.4" r="6.2" fill="#5d5d5d" stroke="#444" stroke-width="1"/>
<circle cx="1103.3" cy="392.4" r="6.2" fill="#5d5d5d" stroke="#444" stroke-width="1"/>
<circle cx="1080.2" cy="396.6" r="6.2" fill="#5d5d5d" stroke="#444" stroke-width="1"/>
<circle cx="1088.1" cy="399.3" r="6.2" fill="#5d5d5d" stroke="#444" stroke-width="1"/>
<circle cx="1095.7" cy="404.5" r="6.2" fill="#5d5d5d" stroke="#444" stroke-width="1"/>
<circle cx="1111.2" cy="398.3" r="6.2" fill="#5d5d5d" stroke="#444" stroke-width="1"/>
<circle cx="1088.1" cy="410.3" r="6.2" fill="#5d5d5d" stroke="#444" stroke-width="1"/>
<circle cx="1103.3" cy="407.9" r="6.2" fill="#5d5d5d" stroke="#444" stroke-width="1"/>
<circle cx="1156.6" cy="181.4" r="6.2" fill="#5d5d5d" stroke="#444" stroke-width="1"/>
<circle cx="1156.6" cy="204.5" r="6.2" fill="#5d5d5d" stroke="#444" stroke-width="1"/>
<circle cx="1156.6" cy="221" r="6.2" fill="#5d5d5d" stroke="#444" stroke-width="1"/>
<circle cx="1149.1" cy="305.3" r="6.2" fill="#5d5d5d" stroke="#444" stroke-width="1"/>
<circle cx="1163.5" cy="305.3" r="6.2" fill="#5d5d5d" stroke="#444" stroke-width="1"/>
<circle cx="1156.6" cy="327" r="6.2" fill="#5d5d5d" stroke="#444" stroke-width="1"/>
<circle cx="1171.4" cy="319.4" r="6.2" fill="#5d5d5d" stroke="#444" stroke-width="1"/>
<circle cx="1156.6" cy="359" r="6.2" fill="#5d5d5d" stroke="#444" stroke-width="1"/>
<circle cx="1142.2" cy="373.5" r="6.2" fill="#5d5d5d" stroke="#444" stroke-width="1"/>
<circle cx="1171.4" cy="377.6" r="6.2" fill="#5d5d5d" stroke="#444" stroke-width="1"/>
<circle cx="1156.6" cy="382.8" r="6.2" fill="#5d5d5d" stroke="#444" stroke-width="1"/>
<circle cx="1156.6" cy="395.9" r="6.2" fill="#5d5d5d" stroke="#444" stroke-width="1"/>
<circle cx="1142.2" cy="413.8" r="6.2" fill="#5d5d5d" stroke="#444" stroke-width="1"/>
<circle cx="1156.6" cy="409.6" r="6.2" fill="#5d5d5d" stroke="#444" stroke-width="1"/>
<circle cx="1171.4" cy="411.4" r="6.2" fill="#5d5d5d" stroke="#444" stroke-width="1"/>
<line x1="772.1" y1="426.2" x2="810" y2="426.2" stroke="#000" stroke-width="2.2"/>
<line x1="831.3" y1="419.3" x2="870.9" y2="419.3" stroke="#000" stroke-width="2.2"/>
<line x1="892.6" y1="417.2" x2="932.2" y2="417.2" stroke="#000" stroke-width="2.2"/>
<line x1="953.9" y1="382.8" x2="993.5" y2="382.8" stroke="#000" stroke-width="2.2"/>
<line x1="1014.8" y1="386.2" x2="1054.4" y2="386.2" stroke="#000" stroke-width="2.2"/>
<line x1="1076.1" y1="375.2" x2="1115.7" y2="375.2" stroke="#000" stroke-width="2.2"/>
<line x1="1137" y1="312.2" x2="1176.6" y2="312.2" stroke="#000" stroke-width="2.2"/>
<text x="1296" y="30" style="font-size:41px" font-weight="bold">c</text>
<line x1="1413.7" y1="58" x2="1413.7" y2="462" stroke="#1c1c1c" stroke-width="2"/>
<line x1="1404.7" y1="59.1" x2="1413.7" y2="59.1" stroke="#1c1c1c" stroke-width="2"/>
<text x="1393.2" y="69.4" text-anchor="end">150</text>
<line x1="1404.7" y1="184.8" x2="1413.7" y2="184.8" stroke="#1c1c1c" stroke-width="2"/>
<text x="1393.2" y="195.1" text-anchor="end">100</text>
<line x1="1404.7" y1="310.5" x2="1413.7" y2="310.5" stroke="#1c1c1c" stroke-width="2"/>
<text x="1393.2" y="320.8" text-anchor="end">50</text>
<line x1="1404.7" y1="436.2" x2="1413.7" y2="436.2" stroke="#1c1c1c" stroke-width="2"/>
<text x="1393.2" y="446.5" text-anchor="end">0</text>
<line x1="1413.7" y1="436.2" x2="1954.8" y2="436.2" stroke="#1c1c1c" stroke-width="2"/>
<line x1="1413.7" y1="436.2" x2="1413.7" y2="443.2" stroke="#1c1c1c" stroke-width="2"/>
<text x="1413.7" y="494.2" text-anchor="middle">–5</text>
<line x1="1491" y1="436.2" x2="1491" y2="443.2" stroke="#1c1c1c" stroke-width="2"/>
<text x="1491" y="494.2" text-anchor="middle">–4</text>
<line x1="1568.3" y1="436.2" x2="1568.3" y2="443.2" stroke="#1c1c1c" stroke-width="2"/>
<text x="1568.3" y="494.2" text-anchor="middle">–3</text>
<line x1="1645.6" y1="436.2" x2="1645.6" y2="443.2" stroke="#1c1c1c" stroke-width="2"/>
<text x="1645.6" y="494.2" text-anchor="middle">–2</text>
<line x1="1722.9" y1="436.2" x2="1722.9" y2="443.2" stroke="#1c1c1c" stroke-width="2"/>
<text x="1722.9" y="494.2" text-anchor="middle">–1</text>
<line x1="1800.2" y1="436.2" x2="1800.2" y2="443.2" stroke="#1c1c1c" stroke-width="2"/>
<text x="1800.2" y="494.2" text-anchor="middle">0</text>
<line x1="1877.5" y1="436.2" x2="1877.5" y2="443.2" stroke="#1c1c1c" stroke-width="2"/>
<text x="1877.5" y="494.2" text-anchor="middle">1</text>
<line x1="1954.8" y1="436.2" x2="1954.8" y2="443.2" stroke="#1c1c1c" stroke-width="2"/>
<text x="1954.8" y="494.2" text-anchor="middle">2</text>
<text x="1679.7" y="535" text-anchor="middle">Elesclomol conc. (µM)(log10)</text>
<text x="1324.5" y="262" text-anchor="middle" transform="rotate(-90 1324.5 262)">Viability (%)</text>
<circle cx="1413.7" cy="114.4" r="6.2" fill="#262626" stroke="#111" stroke-width="1"/>
<circle cx="1413.7" cy="134.5" r="6.2" fill="#262626" stroke="#111" stroke-width="1"/>
<circle cx="1413.7" cy="235.1" r="6.2" fill="#262626" stroke="#111" stroke-width="1"/>
<circle cx="1413.7" cy="247.6" r="6.2" fill="#262626" stroke="#111" stroke-width="1"/>
<circle cx="1413.7" cy="172.2" r="6.2" fill="#262626" stroke="#111" stroke-width="1"/>
<circle cx="1413.7" cy="177.3" r="6.2" fill="#262626" stroke="#111" stroke-width="1"/>
<circle cx="1413.7" cy="174.7" r="6.2" fill="#a2fea0" stroke="#4fd64f" stroke-width="1"/>
<circle cx="1413.7" cy="179.8" r="6.2" fill="#19a519" stroke="#128a12" stroke-width="1"/>
<circle cx="1413.7" cy="159.7" r="6.2" fill="#ff8080" stroke="#ff5555" stroke-width="1"/>
<circle cx="1413.7" cy="164.7" r="6.2" fill="#ff8080" stroke="#ff5555" stroke-width="1"/>
<circle cx="1413.7" cy="194.9" r="6.2" fill="#ff8080" stroke="#ff5555" stroke-width="1"/>
<circle cx="1413.7" cy="204.9" r="6.2" fill="#ff8080" stroke="#ff5555" stroke-width="1"/>
<circle cx="1413.7" cy="182.3" r="6.2" fill="#8d8d8d" stroke="#777" stroke-width="1"/>
<circle cx="1413.7" cy="187.3" r="6.2" fill="#8d8d8d" stroke="#777" stroke-width="1"/>
<circle cx="1491" cy="89.3" r="6.2" fill="#262626" stroke="#111" stroke-width="1"/>
<circle cx="1491" cy="174.7" r="6.2" fill="#262626" stroke="#111" stroke-width="1"/>
<circle cx="1491" cy="197.4" r="6.2" fill="#262626" stroke="#111" stroke-width="1"/>
<circle cx="1491" cy="202.4" r="6.2" fill="#262626" stroke="#111" stroke-width="1"/>
<circle cx="1491" cy="177.3" r="6.2" fill="#8d8d8d" stroke="#777" stroke-width="1"/>
<circle cx="1491" cy="192.3" r="6.2" fill="#8d8d8d" stroke="#777" stroke-width="1"/>
<circle cx="1491" cy="149.6" r="6.2" fill="#ff8080" stroke="#ff5555" stroke-width="1"/>
<circle cx="1491" cy="184.8" r="6.2" fill="#ff8080" stroke="#ff5555" stroke-width="1"/>
<circle cx="1491" cy="194.9" r="6.2" fill="#ff8080" stroke="#ff5555" stroke-width="1"/>
<circle cx="1568.3" cy="91.8" r="6.2" fill="#262626" stroke="#111" stroke-width="1"/>
<circle cx="1568.3" cy="152.1" r="6.2" fill="#262626" stroke="#111" stroke-width="1"/>
<circle cx="1568.3" cy="177.3" r="6.2" fill="#262626" stroke="#111" stroke-width="1"/>
<circle cx="1568.3" cy="184.8" r="6.2" fill="#262626" stroke="#111" stroke-width="1"/>
<circle cx="1568.3" cy="272.8" r="6.2" fill="#262626" stroke="#111" stroke-width="1"/>
<circle cx="1568.3" cy="290.4" r="6.2" fill="#262626" stroke="#111" stroke-width="1"/>
<circle cx="1568.3" cy="368.3" r="6.2" fill="#262626" stroke="#111" stroke-width="1"/>
<circle cx="1568.3" cy="157.1" r="6.2" fill="#a2fea0" stroke="#4fd64f" stroke-width="1"/>
<circle cx="1568.3" cy="204.9" r="6.2" fill="#a2fea0" stroke="#4fd64f" stroke-width="1"/>
<circle cx="1568.3" cy="192.3" r="6.2" fill="#19a519" stroke="#128a12" stroke-width="1"/>
<circle cx="1568.3" cy="197.4" r="6.2" fill="#8d8d8d" stroke="#777" stroke-width="1"/>
<circle cx="1568.3" cy="199.9" r="6.2" fill="#8d8d8d" stroke="#777" stroke-width="1"/>
<circle cx="1568.3" cy="167.2" r="6.2" fill="#ff8080" stroke="#ff5555" stroke-width="1"/>
<circle cx="1568.3" cy="187.3" r="6.2" fill="#ff8080" stroke="#ff5555" stroke-width="1"/>
<circle cx="1568.3" cy="265.2" r="6.2" fill="#ff8080" stroke="#ff5555" stroke-width="1"/>
<circle cx="1645.6" cy="149.6" r="6.2" fill="#262626" stroke="#111" stroke-width="1"/>
<circle cx="1645.6" cy="380.9" r="6.2" fill="#262626" stroke="#111" stroke-width="1"/>
<circle cx="1645.6" cy="393.5" r="6.2" fill="#262626" stroke="#111" stroke-width="1"/>
<circle cx="1645.6" cy="406" r="6.2" fill="#262626" stroke="#111" stroke-width="1"/>
<circle cx="1645.6" cy="416.1" r="6.2" fill="#262626" stroke="#111" stroke-width="1"/>
<circle cx="1645.6" cy="423.6" r="6.2" fill="#262626" stroke="#111" stroke-width="1"/>
<circle cx="1645.6" cy="431.2" r="6.2" fill="#262626" stroke="#111" stroke-width="1"/>
<circle cx="1645.6" cy="436.2" r="6.2" fill="#262626" stroke="#111" stroke-width="1"/>
<circle cx="1645.6" cy="408.5" r="6.2" fill="#8d8d8d" stroke="#777" stroke-width="1"/>
<circle cx="1645.6" cy="403.5" r="6.2" fill="#8d8d8d" stroke="#777" stroke-width="1"/>
<circle cx="1645.6" cy="182.3" r="6.2" fill="#a2fea0" stroke="#4fd64f" stroke-width="1"/>
<circle cx="1645.6" cy="235.1" r="6.2" fill="#a2fea0" stroke="#4fd64f" stroke-width="1"/>
<circle cx="1645.6" cy="192.3" r="6.2" fill="#19a519" stroke="#128a12" stroke-width="1"/>
<circle cx="1645.6" cy="212.5" r="6.2" fill="#19a519" stroke="#128a12" stroke-width="1"/>
<circle cx="1645.6" cy="197.4" r="6.2" fill="#ff8080" stroke="#ff5555" stroke-width="1"/>
<circle cx="1645.6" cy="199.9" r="6.2" fill="#ff8080" stroke="#ff5555" stroke-width="1"/>
<circle cx="1645.6" cy="225" r="6.2" fill="#ff8080" stroke="#ff5555" stroke-width="1"/>
<circle cx="1645.6" cy="230.1" r="6.2" fill="#ff8080" stroke="#ff5555" stroke-width="1"/>
<circle cx="1645.6" cy="260.2" r="6.2" fill="#ff8080" stroke="#ff5555" stroke-width="1"/>
<circle cx="1722.9" cy="323.1" r="6.2" fill="#262626" stroke="#111" stroke-width="1"/>
<circle cx="1722.9" cy="431.2" r="6.2" fill="#262626" stroke="#111" stroke-width="1"/>
<circle cx="1722.9" cy="436.2" r="6.2" fill="#262626" stroke="#111" stroke-width="1"/>
<circle cx="1722.9" cy="443.7" r="6.2" fill="#262626" stroke="#111" stroke-width="1"/>
<circle cx="1722.9" cy="378.4" r="6.2" fill="#19a519" stroke="#128a12" stroke-width="1"/>
<circle cx="1722.9" cy="411.1" r="6.2" fill="#19a519" stroke="#128a12" stroke-width="1"/>
<circle cx="1722.9" cy="418.6" r="6.2" fill="#19a519" stroke="#128a12" stroke-width="1"/>
<circle cx="1722.9" cy="441.2" r="6.2" fill="#19a519" stroke="#128a12" stroke-width="1"/>
<circle cx="1722.9" cy="375.9" r="6.2" fill="#a2fea0" stroke="#4fd64f" stroke-width="1"/>
<circle cx="1722.9" cy="423.6" r="6.2" fill="#a2fea0" stroke="#4fd64f" stroke-width="1"/>
<circle cx="1722.9" cy="390.9" r="6.2" fill="#ff8080" stroke="#ff5555" stroke-width="1"/>
<circle cx="1722.9" cy="421.1" r="6.2" fill="#ff8080" stroke="#ff5555" stroke-width="1"/>
<circle cx="1722.9" cy="426.1" r="6.2" fill="#ff8080" stroke="#ff5555" stroke-width="1"/>
<circle cx="1722.9" cy="433.7" r="6.2" fill="#8d8d8d" stroke="#777" stroke-width="1"/>
<circle cx="1722.9" cy="436.2" r="6.2" fill="#8d8d8d" stroke="#777" stroke-width="1"/>
<circle cx="1800.2" cy="398.5" r="6.2" fill="#19a519" stroke="#128a12" stroke-width="1"/>
<circle cx="1800.2" cy="416.1" r="6.2" fill="#19a519" stroke="#128a12" stroke-width="1"/>
<circle cx="1800.2" cy="421.1" r="6.2" fill="#19a519" stroke="#128a12" stroke-width="1"/>
<circle cx="1800.2" cy="431.2" r="6.2" fill="#262626" stroke="#111" stroke-width="1"/>
<circle cx="1800.2" cy="438.7" r="6.2" fill="#262626" stroke="#111" stroke-width="1"/>
<circle cx="1800.2" cy="443.7" r="6.2" fill="#262626" stroke="#111" stroke-width="1"/>
<circle cx="1800.2" cy="436.2" r="6.2" fill="#8d8d8d" stroke="#777" stroke-width="1"/>
<circle cx="1800.2" cy="433.7" r="6.2" fill="#8d8d8d" stroke="#777" stroke-width="1"/>
<circle cx="1800.2" cy="433.7" r="6.2" fill="#ff8080" stroke="#ff5555" stroke-width="1"/>
<circle cx="1800.2" cy="436.2" r="6.2" fill="#ff8080" stroke="#ff5555" stroke-width="1"/>
<circle cx="1877.5" cy="385.9" r="6.2" fill="#19a519" stroke="#128a12" stroke-width="1"/>
<circle cx="1877.5" cy="401" r="6.2" fill="#19a519" stroke="#128a12" stroke-width="1"/>
<circle cx="1877.5" cy="403.5" r="6.2" fill="#19a519" stroke="#128a12" stroke-width="1"/>
<circle cx="1877.5" cy="408.5" r="6.2" fill="#a2fea0" stroke="#4fd64f" stroke-width="1"/>
<circle cx="1877.5" cy="428.7" r="6.2" fill="#262626" stroke="#111" stroke-width="1"/>
<circle cx="1877.5" cy="433.7" r="6.2" fill="#262626" stroke="#111" stroke-width="1"/>
<circle cx="1877.5" cy="438.7" r="6.2" fill="#262626" stroke="#111" stroke-width="1"/>
<circle cx="1877.5" cy="443.7" r="6.2" fill="#262626" stroke="#111" stroke-width="1"/>
<circle cx="1877.5" cy="436.2" r="6.2" fill="#8d8d8d" stroke="#777" stroke-width="1"/>
<circle cx="1877.5" cy="433.7" r="6.2" fill="#8d8d8d" stroke="#777" stroke-width="1"/>
<circle cx="1877.5" cy="436.2" r="6.2" fill="#ff8080" stroke="#ff5555" stroke-width="1"/>
<polyline points="1413.7,185 1417.6,185 1421.4,185.1 1425.3,185.1 1429.2,185.1 1433,185.2 1436.9,185.3 1440.8,185.3 1444.6,185.4 1448.5,185.5 1452.4,185.6 1456.2,185.7 1460.1,185.9 1463.9,186 1467.8,186.2 1471.7,186.4 1475.5,186.6 1479.4,186.9 1483.3,187.2 1487.1,187.6 1491,188 1494.9,188.4 1498.7,188.9 1502.6,189.5 1506.5,190.2 1510.3,191 1514.2,191.9 1518.1,192.9 1521.9,194.1 1525.8,195.4 1529.7,196.9 1533.5,198.6 1537.4,200.5 1541.2,202.7 1545.1,205.1 1549,207.8 1552.8,210.9 1556.7,214.3 1560.6,218.1 1564.4,222.3 1568.3,226.9 1572.2,232 1576,237.5 1579.9,243.5 1583.8,250 1587.6,256.9 1591.5,264.2 1595.4,271.9 1599.2,279.9 1603.1,288.2 1607,296.7 1610.8,305.3 1614.7,314 1618.5,322.6 1622.4,331.2 1626.3,339.5 1630.1,347.6 1634,355.3 1637.9,362.7 1641.7,369.7 1645.6,376.2 1649.5,382.3 1653.3,387.9 1657.2,393.1 1661.1,397.8 1664.9,402.1 1668.8,406 1672.7,409.4 1676.5,412.6 1680.4,415.4 1684.2,417.9 1688.1,420.1 1692,422 1695.8,423.8 1699.7,425.3 1703.6,426.7 1707.4,427.8 1711.3,428.9 1715.2,429.8 1719,430.6 1722.9,431.3 1726.8,431.9 1730.6,432.5 1734.5,433 1738.4,433.4 1742.2,433.7 1746.1,434 1750,434.3 1753.8,434.6 1757.7,434.8 1761.5,435 1765.4,435.1 1769.3,435.3 1773.1,435.4 1777,435.5 1780.9,435.6 1784.7,435.7 1788.6,435.7 1792.5,435.8 1796.3,435.8 1800.2,435.9 1804.1,435.9 1807.9,436 1811.8,436 1815.7,436 1819.5,436 1823.4,436.1 1827.3,436.1 1831.1,436.1 1835,436.1 1838.8,436.1 1842.7,436.1 1846.6,436.1 1850.4,436.1 1854.3,436.2 1858.2,436.2 1862,436.2 1865.9,436.2 1869.8,436.2 1873.6,436.2 1877.5,436.2 1881.4,436.2 1885.2,436.2 1889.1,436.2 1893,436.2 1896.8,436.2 1900.7,436.2 1904.6,436.2 1908.4,436.2 1912.3,436.2 1916.2,436.2 1920,436.2 1923.9,436.2 1927.7,436.2 1931.6,436.2 1935.5,436.2 1939.3,436.2 1943.2,436.2 1947.1,436.2 1950.9,436.2 1954.8,436.2" fill="none" stroke="#111" stroke-width="2.6"/>
<polyline points="1413.7,185 1417.6,185 1421.4,185 1425.3,185.1 1429.2,185.1 1433,185.2 1436.9,185.2 1440.8,185.3 1444.6,185.3 1448.5,185.4 1452.4,185.5 1456.2,185.6 1460.1,185.7 1463.9,185.9 1467.8,186 1471.7,186.2 1475.5,186.4 1479.4,186.7 1483.3,187 1487.1,187.3 1491,187.6 1494.9,188 1498.7,188.5 1502.6,189.1 1506.5,189.7 1510.3,190.4 1514.2,191.2 1518.1,192.1 1521.9,193.2 1525.8,194.3 1529.7,195.7 1533.5,197.2 1537.4,199 1541.2,200.9 1545.1,203.1 1549,205.6 1552.8,208.4 1556.7,211.6 1560.6,215 1564.4,218.9 1568.3,223.2 1572.2,227.9 1576,233.1 1579.9,238.7 1583.8,244.8 1587.6,251.3 1591.5,258.3 1595.4,265.7 1599.2,273.4 1603.1,281.5 1607,289.8 1610.8,298.4 1614.7,307 1618.5,315.7 1622.4,324.3 1626.3,332.8 1630.1,341.1 1634,349.1 1637.9,356.8 1641.7,364.1 1645.6,371 1649.5,377.5 1653.3,383.5 1657.2,389 1661.1,394.1 1664.9,398.7 1668.8,402.9 1672.7,406.7 1676.5,410.1 1680.4,413.2 1684.2,415.9 1688.1,418.3 1692,420.5 1695.8,422.4 1699.7,424.1 1703.6,425.6 1707.4,426.9 1711.3,428.1 1715.2,429.1 1719,430 1722.9,430.8 1726.8,431.5 1730.6,432.1 1734.5,432.6 1738.4,433 1742.2,433.4 1746.1,433.8 1750,434.1 1753.8,434.4 1757.7,434.6 1761.5,434.8 1765.4,435 1769.3,435.1 1773.1,435.3 1777,435.4 1780.9,435.5 1784.7,435.6 1788.6,435.7 1792.5,435.7 1796.3,435.8 1800.2,435.9 1804.1,435.9 1807.9,435.9 1811.8,436 1815.7,436 1819.5,436 1823.4,436 1827.3,436.1 1831.1,436.1 1835,436.1 1838.8,436.1 1842.7,436.1 1846.6,436.1 1850.4,436.1 1854.3,436.1 1858.2,436.2 1862,436.2 1865.9,436.2 1869.8,436.2 1873.6,436.2 1877.5,436.2 1881.4,436.2 1885.2,436.2 1889.1,436.2 1893,436.2 1896.8,436.2 1900.7,436.2 1904.6,436.2 1908.4,436.2 1912.3,436.2 1916.2,436.2 1920,436.2 1923.9,436.2 1927.7,436.2 1931.6,436.2 1935.5,436.2 1939.3,436.2 1943.2,436.2 1947.1,436.2 1950.9,436.2 1954.8,436.2" fill="none" stroke="#9a9a9a" stroke-width="2.6"/>
<polyline points="1413.7,184.8 1417.6,184.8 1421.4,184.8 1425.3,184.8 1429.2,184.8 1433,184.8 1436.9,184.9 1440.8,184.9 1444.6,184.9 1448.5,184.9 1452.4,184.9 1456.2,184.9 1460.1,184.9 1463.9,184.9 1467.8,185 1471.7,185 1475.5,185 1479.4,185 1483.3,185.1 1487.1,185.1 1491,185.1 1494.9,185.2 1498.7,185.3 1502.6,185.3 1506.5,185.4 1510.3,185.5 1514.2,185.6 1518.1,185.7 1521.9,185.9 1525.8,186 1529.7,186.2 1533.5,186.4 1537.4,186.6 1541.2,186.9 1545.1,187.2 1549,187.6 1552.8,188 1556.7,188.4 1560.6,188.9 1564.4,189.5 1568.3,190.2 1572.2,191 1576,191.9 1579.9,192.9 1583.8,194.1 1587.6,195.4 1591.5,196.9 1595.4,198.6 1599.2,200.5 1603.1,202.7 1607,205.1 1610.8,207.8 1614.7,210.9 1618.5,214.3 1622.4,218.1 1626.3,222.3 1630.1,226.9 1634,232 1637.9,237.5 1641.7,243.5 1645.6,250 1649.5,256.9 1653.3,264.2 1657.2,271.9 1661.1,279.9 1664.9,288.2 1668.8,296.7 1672.7,305.3 1676.5,314 1680.4,322.6 1684.2,331.2 1688.1,339.5 1692,347.6 1695.8,355.3 1699.7,362.7 1703.6,369.7 1707.4,376.2 1711.3,382.3 1715.2,387.9 1719,393.1 1722.9,397.8 1726.8,402.1 1730.6,406 1734.5,409.4 1738.4,412.6 1742.2,415.4 1746.1,417.9 1750,420.1 1753.8,422 1757.7,423.8 1761.5,425.3 1765.4,426.7 1769.3,427.8 1773.1,428.9 1777,429.8 1780.9,430.6 1784.7,431.3 1788.6,431.9 1792.5,432.5 1796.3,433 1800.2,433.4 1804.1,433.7 1807.9,434 1811.8,434.3 1815.7,434.6 1819.5,434.8 1823.4,435 1827.3,435.1 1831.1,435.3 1835,435.4 1838.8,435.5 1842.7,435.6 1846.6,435.7 1850.4,435.7 1854.3,435.8 1858.2,435.8 1862,435.9 1865.9,435.9 1869.8,436 1873.6,436 1877.5,436 1881.4,436 1885.2,436.1 1889.1,436.1 1893,436.1 1896.8,436.1 1900.7,436.1 1904.6,436.1 1908.4,436.1 1912.3,436.1 1916.2,436.2 1920,436.2 1923.9,436.2 1927.7,436.2 1931.6,436.2 1935.5,436.2 1939.3,436.2 1943.2,436.2 1947.1,436.2 1950.9,436.2 1954.8,436.2" fill="none" stroke="#ee3a3a" stroke-width="2.6"/>
<polyline points="1413.7,184.8 1417.6,184.8 1421.4,184.8 1425.3,184.8 1429.2,184.8 1433,184.8 1436.9,184.8 1440.8,184.9 1444.6,184.9 1448.5,184.9 1452.4,184.9 1456.2,184.9 1460.1,184.9 1463.9,184.9 1467.8,184.9 1471.7,185 1475.5,185 1479.4,185 1483.3,185 1487.1,185.1 1491,185.1 1494.9,185.2 1498.7,185.2 1502.6,185.3 1506.5,185.3 1510.3,185.4 1514.2,185.5 1518.1,185.6 1521.9,185.7 1525.8,185.8 1529.7,186 1533.5,186.1 1537.4,186.3 1541.2,186.5 1545.1,186.8 1549,187 1552.8,187.3 1556.7,187.7 1560.6,188.1 1564.4,188.6 1568.3,189.1 1572.2,189.7 1576,190.4 1579.9,191.1 1583.8,192 1587.6,193 1591.5,194.1 1595.4,195.4 1599.2,196.8 1603.1,198.4 1607,200.2 1610.8,202.3 1614.7,204.5 1618.5,207.1 1622.4,209.9 1626.3,213.1 1630.1,216.6 1634,220.4 1637.9,224.7 1641.7,229.3 1645.6,234.4 1649.5,239.9 1653.3,245.8 1657.2,252.1 1661.1,258.8 1664.9,265.9 1668.8,273.4 1672.7,281.1 1676.5,289.1 1680.4,297.2 1684.2,305.5 1688.1,313.8 1692,322.1 1695.8,330.3 1699.7,338.3 1703.6,346.1 1707.4,353.6 1711.3,360.8 1715.2,367.6 1719,374 1722.9,380 1726.8,385.5 1730.6,390.7 1734.5,395.4 1738.4,399.7 1742.2,403.7 1746.1,407.2 1750,410.5 1753.8,413.4 1757.7,416 1761.5,418.3 1765.4,420.4 1769.3,422.2 1773.1,423.9 1777,425.3 1780.9,426.6 1784.7,427.8 1788.6,428.8 1792.5,429.7 1796.3,430.5 1800.2,431.2 1804.1,431.8 1807.9,432.3 1811.8,432.8 1815.7,433.2 1819.5,433.6 1823.4,433.9 1827.3,434.2 1831.1,434.4 1835,434.7 1838.8,434.8 1842.7,435 1846.6,435.2 1850.4,435.3 1854.3,435.4 1858.2,435.5 1862,435.6 1865.9,435.7 1869.8,435.7 1873.6,435.8 1877.5,435.8 1881.4,435.9 1885.2,435.9 1889.1,436 1893,436 1896.8,436 1900.7,436 1904.6,436.1 1908.4,436.1 1912.3,436.1 1916.2,436.1 1920,436.1 1923.9,436.1 1927.7,436.1 1931.6,436.1 1935.5,436.2 1939.3,436.2 1943.2,436.2 1947.1,436.2 1950.9,436.2 1954.8,436.2" fill="none" stroke="#55e055" stroke-width="2.6"/>
<polyline points="1413.7,184.8 1417.6,184.8 1421.4,184.8 1425.3,184.8 1429.2,184.8 1433,184.8 1436.9,184.8 1440.8,184.8 1444.6,184.8 1448.5,184.9 1452.4,184.9 1456.2,184.9 1460.1,184.9 1463.9,184.9 1467.8,184.9 1471.7,184.9 1475.5,184.9 1479.4,185 1483.3,185 1487.1,185 1491,185 1494.9,185.1 1498.7,185.1 1502.6,185.2 1506.5,185.2 1510.3,185.3 1514.2,185.3 1518.1,185.4 1521.9,185.5 1525.8,185.6 1529.7,185.7 1533.5,185.8 1537.4,186 1541.2,186.1 1545.1,186.3 1549,186.5 1552.8,186.8 1556.7,187 1560.6,187.3 1564.4,187.7 1568.3,188.1 1572.2,188.6 1576,189.1 1579.9,189.7 1583.8,190.4 1587.6,191.1 1591.5,192 1595.4,193 1599.2,194.1 1603.1,195.4 1607,196.8 1610.8,198.4 1614.7,200.2 1618.5,202.3 1622.4,204.5 1626.3,207.1 1630.1,209.9 1634,213.1 1637.9,216.6 1641.7,220.4 1645.6,224.7 1649.5,229.3 1653.3,234.4 1657.2,239.9 1661.1,245.8 1664.9,252.1 1668.8,258.8 1672.7,265.9 1676.5,273.4 1680.4,281.1 1684.2,289.1 1688.1,297.2 1692,305.5 1695.8,313.8 1699.7,322.1 1703.6,330.3 1707.4,338.3 1711.3,346.1 1715.2,353.6 1719,360.8 1722.9,367.6 1726.8,374 1730.6,380 1734.5,385.5 1738.4,390.7 1742.2,395.4 1746.1,399.7 1750,403.7 1753.8,407.2 1757.7,410.5 1761.5,413.4 1765.4,416 1769.3,418.3 1773.1,420.4 1777,422.2 1780.9,423.9 1784.7,425.3 1788.6,426.6 1792.5,427.8 1796.3,428.8 1800.2,429.7 1804.1,430.5 1807.9,431.2 1811.8,431.8 1815.7,432.3 1819.5,432.8 1823.4,433.2 1827.3,433.6 1831.1,433.9 1835,434.2 1838.8,434.4 1842.7,434.7 1846.6,434.8 1850.4,435 1854.3,435.2 1858.2,435.3 1862,435.4 1865.9,435.5 1869.8,435.6 1873.6,435.7 1877.5,435.7 1881.4,435.8 1885.2,435.8 1889.1,435.9 1893,435.9 1896.8,436 1900.7,436 1904.6,436 1908.4,436 1912.3,436.1 1916.2,436.1 1920,436.1 1923.9,436.1 1927.7,436.1 1931.6,436.1 1935.5,436.1 1939.3,436.1 1943.2,436.2 1947.1,436.2 1950.9,436.2 1954.8,436.2" fill="none" stroke="#1c7a1c" stroke-width="2.6"/>
<line x1="1776" y1="128" x2="1795" y2="128" stroke="#111" stroke-width="2.6"/>
<circle cx="1785" cy="128" r="6.2" fill="#262626" stroke="#111" stroke-width="1"/>
<text x="1804.4" y="138.3">RDES</text>
<line x1="1776" y1="169" x2="1795" y2="169" stroke="#9a9a9a" stroke-width="2.6"/>
<circle cx="1785" cy="169" r="6.2" fill="#8d8d8d" stroke="#777" stroke-width="1"/>
<text x="1804.4" y="179.3">TC-32</text>
<line x1="1776" y1="207.6" x2="1795" y2="207.6" stroke="#ee3a3a" stroke-width="2.6"/>
<circle cx="1785" cy="207.6" r="6.2" fill="#ff8080" stroke="#ff5555" stroke-width="1"/>
<text x="1804.4" y="217.9">A673</text>
<line x1="1776" y1="244" x2="1795" y2="244" stroke="#1c7a1c" stroke-width="2.6"/>
<circle cx="1785" cy="244" r="6.2" fill="#19a519" stroke="#128a12" stroke-width="1"/>
<text x="1804.4" y="254.3">SAOS-2</text>
<line x1="1776" y1="279.3" x2="1795" y2="279.3" stroke="#55e055" stroke-width="2.6"/>
<circle cx="1785" cy="279.3" r="6.2" fill="#a2fea0" stroke="#4fd64f" stroke-width="1"/>
<text x="1804.4" y="289.6">MSC-52</text>
<line x1="1924.7" y1="106.6" x2="1924.7" y2="290" stroke="#000" stroke-width="3"/>
<text x="1935.4" y="134.9">= 4</text>
<text x="1935.4" y="173.6">= 4</text>
<text x="1935.4" y="208">= 26</text>
<text x="1935.4" y="246.7">= 32</text>
<text x="1935.4" y="287.5">= 27</text>
<text x="1935" y="45">IC50</text>
<text x="1935" y="79.5">(nM)</text>
<text x="0.5" y="650" style="font-size:41px" font-weight="bold">d</text>
<line x1="121.2" y1="666.1" x2="121.2" y2="1004.5" stroke="#1c1c1c" stroke-width="2"/>
<line x1="112.2" y1="666.1" x2="121.2" y2="666.1" stroke="#1c1c1c" stroke-width="2"/>
<text x="100.7" y="676.4" text-anchor="end">250</text>
<line x1="112.2" y1="732.5" x2="121.2" y2="732.5" stroke="#1c1c1c" stroke-width="2"/>
<text x="100.7" y="742.8" text-anchor="end">200</text>
<line x1="112.2" y1="799" x2="121.2" y2="799" stroke="#1c1c1c" stroke-width="2"/>
<text x="100.7" y="809.3" text-anchor="end">150</text>
<line x1="112.2" y1="865" x2="121.2" y2="865" stroke="#1c1c1c" stroke-width="2"/>
<text x="100.7" y="875.3" text-anchor="end">100</text>
<line x1="112.2" y1="931.5" x2="121.2" y2="931.5" stroke="#1c1c1c" stroke-width="2"/>
<text x="100.7" y="941.8" text-anchor="end">50</text>
<line x1="112.2" y1="997.6" x2="121.2" y2="997.6" stroke="#1c1c1c" stroke-width="2"/>
<text x="100.7" y="1007.9" text-anchor="end">0</text>
<line x1="120.2" y1="1004.5" x2="482" y2="1004.5" stroke="#1c1c1c" stroke-width="2"/>
<text x="27.5" y="834" text-anchor="middle" transform="rotate(-90 27.5 834)">Rel. <tspan font-style="italic">SOX6</tspan> expression (%)</text>
<line x1="157.3" y1="832.4" x2="157.3" y2="874.4" stroke="#777" stroke-width="1.3"/>
<line x1="145.3" y1="832.4" x2="169.4" y2="832.4" stroke="#777" stroke-width="1.3"/>
<line x1="145.3" y1="874.4" x2="169.4" y2="874.4" stroke="#777" stroke-width="1.3"/>
<circle cx="157.3" cy="761.1" r="6.2" fill="#7f7f7f" stroke="#666" stroke-width="1"/>
<circle cx="157.3" cy="793.8" r="6.2" fill="#7f7f7f" stroke="#666" stroke-width="1"/>
<circle cx="157.3" cy="825.5" r="6.2" fill="#7f7f7f" stroke="#666" stroke-width="1"/>
<circle cx="157.3" cy="845.4" r="6.2" fill="#7f7f7f" stroke="#666" stroke-width="1"/>
<circle cx="168.7" cy="868.5" r="6.2" fill="#7f7f7f" stroke="#666" stroke-width="1"/>
<circle cx="145.6" cy="876.1" r="6.2" fill="#7f7f7f" stroke="#666" stroke-width="1"/>
<circle cx="157.3" cy="915.7" r="6.2" fill="#7f7f7f" stroke="#666" stroke-width="1"/>
<circle cx="157.3" cy="940.8" r="6.2" fill="#7f7f7f" stroke="#666" stroke-width="1"/>
<line x1="133.6" y1="853" x2="181.4" y2="853" stroke="#000" stroke-width="2.6"/>
<line x1="229.6" y1="867.8" x2="229.6" y2="923.6" stroke="#555" stroke-width="1.3"/>
<line x1="217.6" y1="867.8" x2="241.7" y2="867.8" stroke="#555" stroke-width="1.3"/>
<line x1="217.6" y1="923.6" x2="241.7" y2="923.6" stroke="#555" stroke-width="1.3"/>
<circle cx="229.6" cy="732.5" r="6.2" fill="#2a2a2a" stroke="#111" stroke-width="1"/>
<circle cx="229.6" cy="860.6" r="6.2" fill="#2a2a2a" stroke="#111" stroke-width="1"/>
<circle cx="247.8" cy="850.3" r="6.2" fill="#2a2a2a" stroke="#111" stroke-width="1"/>
<circle cx="229.6" cy="911.5" r="6.2" fill="#2a2a2a" stroke="#111" stroke-width="1"/>
<circle cx="229.6" cy="940.1" r="6.2" fill="#2a2a2a" stroke="#111" stroke-width="1"/>
<circle cx="211" cy="961.4" r="6.2" fill="#2a2a2a" stroke="#111" stroke-width="1"/>
<circle cx="229.6" cy="955.6" r="6.2" fill="#2a2a2a" stroke="#111" stroke-width="1"/>
<circle cx="247.8" cy="956.3" r="6.2" fill="#2a2a2a" stroke="#111" stroke-width="1"/>
<line x1="205.5" y1="895.4" x2="253.7" y2="895.4" stroke="#000" stroke-width="2.6"/>
<line x1="301.9" y1="984.5" x2="301.9" y2="993.1" stroke="#f07070" stroke-width="1.3"/>
<line x1="291.6" y1="984.5" x2="312.2" y2="984.5" stroke="#f07070" stroke-width="1.3"/>
<line x1="291.6" y1="993.1" x2="312.2" y2="993.1" stroke="#f07070" stroke-width="1.3"/>
<circle cx="289.8" cy="985.5" r="6" fill="#ff8080" stroke="#ff5555" stroke-width="1.4"/>
<circle cx="313.3" cy="978.7" r="6" fill="#ff8080" stroke="#ff5555" stroke-width="1.4"/>
<circle cx="289.8" cy="996.9" r="6" fill="#ff8080" stroke="#ff5555" stroke-width="1.4"/>
<circle cx="313.3" cy="992.4" r="6" fill="#ff8080" stroke="#ff5555" stroke-width="1.4"/>
<line x1="278.1" y1="989" x2="325.3" y2="989" stroke="#000" stroke-width="2.6"/>
<circle cx="355.6" cy="995.9" r="6.2" fill="#14a814" stroke="#109010" stroke-width="1"/>
<circle cx="373.5" cy="989.7" r="6.2" fill="#14a814" stroke="#109010" stroke-width="1"/>
<circle cx="391.4" cy="995.9" r="6.2" fill="#14a814" stroke="#109010" stroke-width="1"/>
<line x1="350.4" y1="993.5" x2="396.6" y2="993.5" stroke="#000" stroke-width="2.6"/>
<circle cx="426.9" cy="995.9" r="6" fill="#a2fea0" stroke="#4fd64f" stroke-width="1.4"/>
<circle cx="445.1" cy="991.7" r="6" fill="#a2fea0" stroke="#4fd64f" stroke-width="1.4"/>
<circle cx="463.7" cy="992.4" r="6" fill="#a2fea0" stroke="#4fd64f" stroke-width="1.4"/>
<line x1="421.7" y1="992.4" x2="468.8" y2="992.4" stroke="#000" stroke-width="2.6"/>
<text x="301.9" y="965.4" style="font-size:26px" text-anchor="middle">**</text>
<text x="374.2" y="971.6" style="font-size:26px" text-anchor="middle">*</text>
<text x="445.8" y="977.7" style="font-size:26px" text-anchor="middle">*</text>
<text x="171.8" y="1028" text-anchor="end" transform="rotate(-45 171.8 1028)">TC-32</text>
<text x="244.1" y="1028" text-anchor="end" transform="rotate(-45 244.1 1028)">RDES</text>
<text x="316.4" y="1028" text-anchor="end" transform="rotate(-45 316.4 1028)">A673</text>
<text x="388" y="1028" text-anchor="end" transform="rotate(-45 388 1028)">SAOS-2</text>
<text x="459.6" y="1028" text-anchor="end" transform="rotate(-45 459.6 1028)">MSC-52</text>
<text x="601" y="650" style="font-size:41px" font-weight="bold">e</text>
<line x1="754.5" y1="672.3" x2="754.5" y2="1008" stroke="#1c1c1c" stroke-width="2"/>
<line x1="745.5" y1="672.3" x2="754.5" y2="672.3" stroke="#1c1c1c" stroke-width="2"/>
<text x="734" y="682.6" text-anchor="end">300</text>
<line x1="745.5" y1="784.2" x2="754.5" y2="784.2" stroke="#1c1c1c" stroke-width="2"/>
<text x="734" y="794.5" text-anchor="end">200</text>
<line x1="745.5" y1="896" x2="754.5" y2="896" stroke="#1c1c1c" stroke-width="2"/>
<text x="734" y="906.3" text-anchor="end">100</text>
<line x1="745.5" y1="1007.9" x2="754.5" y2="1007.9" stroke="#1c1c1c" stroke-width="2"/>
<text x="734" y="1018.2" text-anchor="end">0</text>
<line x1="745.5" y1="1008" x2="1099.7" y2="1008" stroke="#1c1c1c" stroke-width="2"/>
<text x="625.4" y="839" text-anchor="middle" transform="rotate(-90 625.4 839)">Rel. proliferation</text>
<text x="658" y="840" text-anchor="middle" transform="rotate(-90 658 840)">(% of TC-32)</text>
<line x1="788.6" y1="887.4" x2="788.6" y2="904.6" stroke="#888" stroke-width="1.3"/>
<line x1="777.2" y1="887.4" x2="799.9" y2="887.4" stroke="#888" stroke-width="1.3"/>
<line x1="777.2" y1="904.6" x2="799.9" y2="904.6" stroke="#888" stroke-width="1.3"/>
<circle cx="788.6" cy="826.5" r="6.2" fill="#5e5e5e" stroke="#444" stroke-width="1"/>
<circle cx="788.6" cy="852.3" r="6.2" fill="#5e5e5e" stroke="#444" stroke-width="1"/>
<circle cx="776.9" cy="887.4" r="6.2" fill="#5e5e5e" stroke="#444" stroke-width="1"/>
<circle cx="806.1" cy="887.4" r="6.2" fill="#5e5e5e" stroke="#444" stroke-width="1"/>
<circle cx="783.8" cy="890.9" r="6.2" fill="#5e5e5e" stroke="#444" stroke-width="1"/>
<circle cx="794.1" cy="892.6" r="6.2" fill="#5e5e5e" stroke="#444" stroke-width="1"/>
<circle cx="771.7" cy="898.8" r="6.2" fill="#5e5e5e" stroke="#444" stroke-width="1"/>
<circle cx="782" cy="902.2" r="6.2" fill="#5e5e5e" stroke="#444" stroke-width="1"/>
<circle cx="794.1" cy="904.6" r="6.2" fill="#5e5e5e" stroke="#444" stroke-width="1"/>
<circle cx="806.1" cy="898.8" r="6.2" fill="#5e5e5e" stroke="#444" stroke-width="1"/>
<circle cx="776.9" cy="935.6" r="6.2" fill="#5e5e5e" stroke="#444" stroke-width="1"/>
<circle cx="788.6" cy="933.2" r="6.2" fill="#5e5e5e" stroke="#444" stroke-width="1"/>
<circle cx="799.9" cy="933.9" r="6.2" fill="#5e5e5e" stroke="#444" stroke-width="1"/>
<line x1="765.9" y1="896" x2="811.3" y2="896" stroke="#000" stroke-width="2.6"/>
<line x1="857.4" y1="879.5" x2="857.4" y2="904.6" stroke="#666" stroke-width="1.3"/>
<line x1="846.1" y1="879.5" x2="868.8" y2="879.5" stroke="#666" stroke-width="1.3"/>
<line x1="846.1" y1="904.6" x2="868.8" y2="904.6" stroke="#666" stroke-width="1.3"/>
<circle cx="857.4" cy="784.2" r="6.2" fill="#222" stroke="#111" stroke-width="1"/>
<circle cx="857.4" cy="851.3" r="6.2" fill="#222" stroke="#111" stroke-width="1"/>
<circle cx="857.4" cy="873.7" r="6.2" fill="#222" stroke="#111" stroke-width="1"/>
<circle cx="840.6" cy="888.5" r="6.2" fill="#222" stroke="#111" stroke-width="1"/>
<circle cx="857.4" cy="885.7" r="6.2" fill="#222" stroke="#111" stroke-width="1"/>
<circle cx="875" cy="893.6" r="6.2" fill="#222" stroke="#111" stroke-width="1"/>
<circle cx="840.6" cy="904.6" r="6.2" fill="#222" stroke="#111" stroke-width="1"/>
<circle cx="857.4" cy="902.9" r="6.2" fill="#222" stroke="#111" stroke-width="1"/>
<circle cx="875" cy="905.7" r="6.2" fill="#222" stroke="#111" stroke-width="1"/>
<circle cx="857.4" cy="922.9" r="6.2" fill="#222" stroke="#111" stroke-width="1"/>
<circle cx="848.5" cy="944.2" r="6.2" fill="#222" stroke="#111" stroke-width="1"/>
<circle cx="866.4" cy="940.8" r="6.2" fill="#222" stroke="#111" stroke-width="1"/>
<circle cx="848.5" cy="894.3" r="6.2" fill="#222" stroke="#111" stroke-width="1"/>
<line x1="833.7" y1="891.9" x2="881.9" y2="891.9" stroke="#000" stroke-width="2.6"/>
<line x1="926.6" y1="760.8" x2="926.6" y2="816.2" stroke="#f07070" stroke-width="1.3"/>
<line x1="915.6" y1="760.8" x2="937.6" y2="760.8" stroke="#f07070" stroke-width="1.3"/>
<line x1="915.6" y1="816.2" x2="937.6" y2="816.2" stroke="#f07070" stroke-width="1.3"/>
<circle cx="926.6" cy="726.3" r="6" fill="#ff8080" stroke="#ff5555" stroke-width="1.4"/>
<circle cx="909.4" cy="780.7" r="6" fill="#ff8080" stroke="#ff5555" stroke-width="1.4"/>
<circle cx="943.8" cy="787.6" r="6" fill="#ff8080" stroke="#ff5555" stroke-width="1.4"/>
<circle cx="926.6" cy="860.6" r="6" fill="#ff8080" stroke="#ff5555" stroke-width="1.4"/>
<line x1="903.5" y1="788.6" x2="938.7" y2="788.6" stroke="#000" stroke-width="2.6"/>
<line x1="995.5" y1="812" x2="995.5" y2="844.4" stroke="#30a030" stroke-width="1.3"/>
<line x1="984.4" y1="812" x2="1006.5" y2="812" stroke="#30a030" stroke-width="1.3"/>
<line x1="984.4" y1="844.4" x2="1006.5" y2="844.4" stroke="#30a030" stroke-width="1.3"/>
<circle cx="995.5" cy="791" r="6.2" fill="#14a814" stroke="#109010" stroke-width="1"/>
<circle cx="978.2" cy="817.9" r="6.2" fill="#14a814" stroke="#109010" stroke-width="1"/>
<circle cx="1013.4" cy="814.1" r="6.2" fill="#14a814" stroke="#109010" stroke-width="1"/>
<circle cx="1013.4" cy="828.9" r="6.2" fill="#14a814" stroke="#109010" stroke-width="1"/>
<circle cx="995.5" cy="888.5" r="6.2" fill="#14a814" stroke="#109010" stroke-width="1"/>
<line x1="973.1" y1="828.2" x2="1017.8" y2="828.2" stroke="#000" stroke-width="2.6"/>
<line x1="1064.3" y1="944.2" x2="1064.3" y2="969" stroke="#70d870" stroke-width="1.3"/>
<line x1="1053.3" y1="944.2" x2="1075.3" y2="944.2" stroke="#70d870" stroke-width="1.3"/>
<line x1="1053.3" y1="969" x2="1075.3" y2="969" stroke="#70d870" stroke-width="1.3"/>
<circle cx="1064.3" cy="912.6" r="6" fill="#a2fea0" stroke="#4fd64f" stroke-width="1.4"/>
<circle cx="1064.3" cy="948.7" r="6" fill="#a2fea0" stroke="#4fd64f" stroke-width="1.4"/>
<circle cx="1047.1" cy="976.2" r="6" fill="#a2fea0" stroke="#4fd64f" stroke-width="1.4"/>
<circle cx="1064.3" cy="971.8" r="6" fill="#a2fea0" stroke="#4fd64f" stroke-width="1.4"/>
<circle cx="1081.5" cy="973.5" r="6" fill="#a2fea0" stroke="#4fd64f" stroke-width="1.4"/>
<line x1="1041.9" y1="957" x2="1086.7" y2="957" stroke="#000" stroke-width="2.6"/>
<text x="926.6" y="705.5" style="font-size:26px" text-anchor="middle">**</text>
<text x="995.5" y="758.8" style="font-size:26px" text-anchor="middle">**</text>
<text x="1065" y="893.1" style="font-size:26px" text-anchor="middle">**</text>
<text x="800.6" y="1031" text-anchor="end" transform="rotate(-45 800.6 1031)">TC-32</text>
<text x="873.4" y="1031" text-anchor="end" transform="rotate(-45 873.4 1031)">RDES</text>
<text x="942.6" y="1031" text-anchor="end" transform="rotate(-45 942.6 1031)">A673</text>
<text x="1011.5" y="1031" text-anchor="end" transform="rotate(-45 1011.5 1031)">SAOS-2</text>
<text x="1080.3" y="1031" text-anchor="end" transform="rotate(-45 1080.3 1031)">MSC-52</text>
<text x="1211" y="649.3" style="font-size:41px" font-weight="bold">f</text>
<line x1="1329.4" y1="670.5" x2="1329.4" y2="1006.5" stroke="#1c1c1c" stroke-width="2"/>
<line x1="1320.4" y1="690.2" x2="1329.4" y2="690.2" stroke="#1c1c1c" stroke-width="2"/>
<text x="1308.9" y="700.5" text-anchor="end">800</text>
<line x1="1320.4" y1="769.6" x2="1329.4" y2="769.6" stroke="#1c1c1c" stroke-width="2"/>
<text x="1308.9" y="779.9" text-anchor="end">600</text>
<line x1="1320.4" y1="848.6" x2="1329.4" y2="848.6" stroke="#1c1c1c" stroke-width="2"/>
<text x="1308.9" y="858.9" text-anchor="end">400</text>
<line x1="1320.4" y1="927.5" x2="1329.4" y2="927.5" stroke="#1c1c1c" stroke-width="2"/>
<text x="1308.9" y="937.8" text-anchor="end">200</text>
<line x1="1320.4" y1="1006.5" x2="1329.4" y2="1006.5" stroke="#1c1c1c" stroke-width="2"/>
<text x="1308.9" y="1016.8" text-anchor="end">0</text>
<line x1="1320.4" y1="1006.5" x2="1565.3" y2="1006.5" stroke="#1c1c1c" stroke-width="2"/>
<text x="1332.7" y="663.4">TC-32</text>
<text x="1236.4" y="838.6" text-anchor="middle" transform="rotate(-90 1236.4 838.6)">Rel. Elesclomol IC50 (%)</text>
<line x1="1353.9" y1="960.4" x2="1353.9" y2="974.5" stroke="#777" stroke-width="1.3"/>
<line x1="1347.3" y1="960.4" x2="1360.5" y2="960.4" stroke="#777" stroke-width="1.3"/>
<line x1="1347.3" y1="974.5" x2="1360.5" y2="974.5" stroke="#777" stroke-width="1.3"/>
<circle cx="1353.9" cy="945.4" r="6.2" fill="#555" stroke="#3a3a3a" stroke-width="1"/>
<circle cx="1353.9" cy="961.8" r="6.2" fill="#555" stroke="#3a3a3a" stroke-width="1"/>
<circle cx="1345.4" cy="979.7" r="6.2" fill="#555" stroke="#3a3a3a" stroke-width="1"/>
<circle cx="1362.3" cy="979.7" r="6.2" fill="#555" stroke="#3a3a3a" stroke-width="1"/>
<line x1="1340.7" y1="967.5" x2="1366.6" y2="967.5" stroke="#000" stroke-width="2.6"/>
<line x1="1391.5" y1="964.2" x2="1391.5" y2="975.9" stroke="#7777f0" stroke-width="1.3"/>
<line x1="1384.9" y1="964.2" x2="1398" y2="964.2" stroke="#7777f0" stroke-width="1.3"/>
<line x1="1384.9" y1="975.9" x2="1398" y2="975.9" stroke="#7777f0" stroke-width="1.3"/>
<circle cx="1391.5" cy="953.4" r="6" fill="#6868fe" stroke="#1818f5" stroke-width="1.4"/>
<circle cx="1384.4" cy="978.3" r="6" fill="#6868fe" stroke="#1818f5" stroke-width="1.4"/>
<circle cx="1398.5" cy="976.9" r="6" fill="#6868fe" stroke="#1818f5" stroke-width="1.4"/>
<circle cx="1392.4" cy="971.2" r="6" fill="#6868fe" stroke="#1818f5" stroke-width="1.4"/>
<line x1="1378.3" y1="970.3" x2="1404.6" y2="970.3" stroke="#000" stroke-width="2.6"/>
<circle cx="1422" cy="943" r="6.2" fill="#555" stroke="#3a3a3a" stroke-width="1"/>
<circle cx="1433.8" cy="946.8" r="6.2" fill="#555" stroke="#3a3a3a" stroke-width="1"/>
<circle cx="1428.1" cy="950.1" r="6.2" fill="#555" stroke="#3a3a3a" stroke-width="1"/>
<circle cx="1436.1" cy="953.4" r="6.2" fill="#555" stroke="#3a3a3a" stroke-width="1"/>
<circle cx="1424.4" cy="959.5" r="6.2" fill="#555" stroke="#3a3a3a" stroke-width="1"/>
<circle cx="1428.1" cy="966.5" r="6.2" fill="#555" stroke="#3a3a3a" stroke-width="1"/>
<circle cx="1419.7" cy="975.9" r="6.2" fill="#555" stroke="#3a3a3a" stroke-width="1"/>
<circle cx="1433.8" cy="971.2" r="6.2" fill="#555" stroke="#3a3a3a" stroke-width="1"/>
<circle cx="1422" cy="983" r="6.2" fill="#555" stroke="#3a3a3a" stroke-width="1"/>
<circle cx="1436.1" cy="985.3" r="6.2" fill="#555" stroke="#3a3a3a" stroke-width="1"/>
<circle cx="1428.1" cy="990" r="6.2" fill="#555" stroke="#3a3a3a" stroke-width="1"/>
<circle cx="1419.7" cy="990" r="6.2" fill="#555" stroke="#3a3a3a" stroke-width="1"/>
<line x1="1415" y1="967.5" x2="1441.3" y2="967.5" stroke="#000" stroke-width="2.6"/>
<line x1="1465.2" y1="817.6" x2="1465.2" y2="866" stroke="#7777f0" stroke-width="1.3"/>
<line x1="1458.7" y1="817.6" x2="1471.8" y2="817.6" stroke="#7777f0" stroke-width="1.3"/>
<line x1="1458.7" y1="866" x2="1471.8" y2="866" stroke="#7777f0" stroke-width="1.3"/>
<circle cx="1465.2" cy="716.1" r="6" fill="#6868fe" stroke="#1818f5" stroke-width="1.4"/>
<circle cx="1458.7" cy="785.6" r="6" fill="#6868fe" stroke="#1818f5" stroke-width="1.4"/>
<circle cx="1472.3" cy="777.2" r="6" fill="#6868fe" stroke="#1818f5" stroke-width="1.4"/>
<circle cx="1465.2" cy="817.6" r="6" fill="#6868fe" stroke="#1818f5" stroke-width="1.4"/>
<circle cx="1465.2" cy="836.4" r="6" fill="#6868fe" stroke="#1818f5" stroke-width="1.4"/>
<circle cx="1458.7" cy="893.2" r="6" fill="#6868fe" stroke="#1818f5" stroke-width="1.4"/>
<circle cx="1472.3" cy="892.3" r="6" fill="#6868fe" stroke="#1818f5" stroke-width="1.4"/>
<circle cx="1458.7" cy="929.9" r="6" fill="#6868fe" stroke="#1818f5" stroke-width="1.4"/>
<circle cx="1472.3" cy="924.2" r="6" fill="#6868fe" stroke="#1818f5" stroke-width="1.4"/>
<line x1="1452.6" y1="841.5" x2="1478.4" y2="841.5" stroke="#000" stroke-width="2.6"/>
<circle cx="1503.3" cy="945.4" r="6.2" fill="#555" stroke="#3a3a3a" stroke-width="1"/>
<circle cx="1497.2" cy="957.1" r="6.2" fill="#555" stroke="#3a3a3a" stroke-width="1"/>
<circle cx="1508.9" cy="947.7" r="6.2" fill="#555" stroke="#3a3a3a" stroke-width="1"/>
<circle cx="1503.3" cy="962.8" r="6.2" fill="#555" stroke="#3a3a3a" stroke-width="1"/>
<circle cx="1494.8" cy="975.9" r="6.2" fill="#555" stroke="#3a3a3a" stroke-width="1"/>
<circle cx="1508.9" cy="975.9" r="6.2" fill="#555" stroke="#3a3a3a" stroke-width="1"/>
<circle cx="1499.5" cy="985.3" r="6.2" fill="#555" stroke="#3a3a3a" stroke-width="1"/>
<circle cx="1508.9" cy="983" r="6.2" fill="#555" stroke="#3a3a3a" stroke-width="1"/>
<circle cx="1503.3" cy="968.9" r="6.2" fill="#555" stroke="#3a3a3a" stroke-width="1"/>
<line x1="1490.2" y1="967.5" x2="1516" y2="967.5" stroke="#000" stroke-width="2.6"/>
<line x1="1540.9" y1="931.3" x2="1540.9" y2="950.1" stroke="#7777f0" stroke-width="1.3"/>
<line x1="1534.3" y1="931.3" x2="1547.5" y2="931.3" stroke="#7777f0" stroke-width="1.3"/>
<line x1="1534.3" y1="950.1" x2="1547.5" y2="950.1" stroke="#7777f0" stroke-width="1.3"/>
<circle cx="1540.9" cy="897.5" r="6" fill="#6868fe" stroke="#1818f5" stroke-width="1.4"/>
<circle cx="1537.1" cy="921" r="6" fill="#6868fe" stroke="#1818f5" stroke-width="1.4"/>
<circle cx="1545.6" cy="928.9" r="6" fill="#6868fe" stroke="#1818f5" stroke-width="1.4"/>
<circle cx="1533.4" cy="945.4" r="6" fill="#6868fe" stroke="#1818f5" stroke-width="1.4"/>
<circle cx="1546.5" cy="945.4" r="6" fill="#6868fe" stroke="#1818f5" stroke-width="1.4"/>
<circle cx="1540.9" cy="964.2" r="6" fill="#6868fe" stroke="#1818f5" stroke-width="1.4"/>
<circle cx="1540.9" cy="977.3" r="6" fill="#6868fe" stroke="#1818f5" stroke-width="1.4"/>
<circle cx="1532.4" cy="945.4" r="6" fill="#6868fe" stroke="#1818f5" stroke-width="1.4"/>
<line x1="1527.7" y1="939.8" x2="1553.6" y2="939.8" stroke="#000" stroke-width="2.6"/>
<text x="1466.7" y="693" style="font-size:26px" text-anchor="middle">****</text>
<text x="1540" y="876.3" style="font-size:26px" text-anchor="middle">*</text>
<text x="1399.6" y="1034.6" text-anchor="end" transform="rotate(-45 1399.6 1034.6)">shCtrl</text>
<text x="1485" y="1031.5" text-anchor="end" transform="rotate(-45 1485 1031.5)">shSOX6_2</text>
<text x="1561.8" y="1035" text-anchor="end" transform="rotate(-45 1561.8 1035)">shSOX6_3</text>
<line x1="1763.7" y1="670.5" x2="1763.7" y2="1006.5" stroke="#1c1c1c" stroke-width="2"/>
<line x1="1754.7" y1="670.5" x2="1763.7" y2="670.5" stroke="#1c1c1c" stroke-width="2"/>
<text x="1743.2" y="680.8" text-anchor="end">600</text>
<line x1="1754.7" y1="726" x2="1763.7" y2="726" stroke="#1c1c1c" stroke-width="2"/>
<text x="1743.2" y="736.3" text-anchor="end">500</text>
<line x1="1754.7" y1="782.3" x2="1763.7" y2="782.3" stroke="#1c1c1c" stroke-width="2"/>
<text x="1743.2" y="792.6" text-anchor="end">400</text>
<line x1="1754.7" y1="838.3" x2="1763.7" y2="838.3" stroke="#1c1c1c" stroke-width="2"/>
<text x="1743.2" y="848.6" text-anchor="end">300</text>
<line x1="1754.7" y1="894.6" x2="1763.7" y2="894.6" stroke="#1c1c1c" stroke-width="2"/>
<text x="1743.2" y="904.9" text-anchor="end">200</text>
<line x1="1754.7" y1="950.6" x2="1763.7" y2="950.6" stroke="#1c1c1c" stroke-width="2"/>
<text x="1743.2" y="960.9" text-anchor="end">100</text>
<line x1="1754.7" y1="1006.5" x2="1763.7" y2="1006.5" stroke="#1c1c1c" stroke-width="2"/>
<text x="1743.2" y="1016.8" text-anchor="end">0</text>
<line x1="1754.7" y1="1006.5" x2="1997.7" y2="1006.5" stroke="#1c1c1c" stroke-width="2"/>
<text x="1773" y="663.4">RDES</text>
<text x="1669.7" y="832.5" text-anchor="middle" transform="rotate(-90 1669.7 832.5)">Rel. Elesclomol IC50 (%)</text>
<line x1="1787.6" y1="945.4" x2="1787.6" y2="957.1" stroke="#777" stroke-width="1.3"/>
<line x1="1781" y1="945.4" x2="1794.2" y2="945.4" stroke="#777" stroke-width="1.3"/>
<line x1="1781" y1="957.1" x2="1794.2" y2="957.1" stroke="#777" stroke-width="1.3"/>
<circle cx="1787.6" cy="929.9" r="6.2" fill="#555" stroke="#3a3a3a" stroke-width="1"/>
<circle cx="1787.6" cy="943" r="6.2" fill="#555" stroke="#3a3a3a" stroke-width="1"/>
<circle cx="1781.5" cy="965.6" r="6.2" fill="#555" stroke="#3a3a3a" stroke-width="1"/>
<circle cx="1794.7" cy="964.2" r="6.2" fill="#555" stroke="#3a3a3a" stroke-width="1"/>
<line x1="1774.5" y1="950.6" x2="1800.3" y2="950.6" stroke="#000" stroke-width="2.6"/>
<line x1="1824.7" y1="944" x2="1824.7" y2="961.8" stroke="#7777f0" stroke-width="1.3"/>
<line x1="1818.2" y1="944" x2="1831.3" y2="944" stroke="#7777f0" stroke-width="1.3"/>
<line x1="1818.2" y1="961.8" x2="1831.3" y2="961.8" stroke="#7777f0" stroke-width="1.3"/>
<circle cx="1824.7" cy="925.2" r="6" fill="#6868fe" stroke="#1818f5" stroke-width="1.4"/>
<circle cx="1818.2" cy="968" r="6" fill="#6868fe" stroke="#1818f5" stroke-width="1.4"/>
<circle cx="1831.3" cy="966.5" r="6" fill="#6868fe" stroke="#1818f5" stroke-width="1.4"/>
<circle cx="1824.7" cy="953.4" r="6" fill="#6868fe" stroke="#1818f5" stroke-width="1.4"/>
<line x1="1812" y1="953.4" x2="1837.9" y2="953.4" stroke="#000" stroke-width="2.6"/>
<circle cx="1861.4" cy="901.7" r="6.2" fill="#555" stroke="#3a3a3a" stroke-width="1"/>
<circle cx="1855.3" cy="938.3" r="6.2" fill="#555" stroke="#3a3a3a" stroke-width="1"/>
<circle cx="1867.5" cy="939.3" r="6.2" fill="#555" stroke="#3a3a3a" stroke-width="1"/>
<circle cx="1861.4" cy="950.1" r="6.2" fill="#555" stroke="#3a3a3a" stroke-width="1"/>
<circle cx="1855.3" cy="961.8" r="6.2" fill="#555" stroke="#3a3a3a" stroke-width="1"/>
<circle cx="1867.5" cy="961.8" r="6.2" fill="#555" stroke="#3a3a3a" stroke-width="1"/>
<circle cx="1861.4" cy="971.2" r="6.2" fill="#555" stroke="#3a3a3a" stroke-width="1"/>
<circle cx="1855.3" cy="978.3" r="6.2" fill="#555" stroke="#3a3a3a" stroke-width="1"/>
<circle cx="1867.5" cy="973.6" r="6.2" fill="#555" stroke="#3a3a3a" stroke-width="1"/>
<line x1="1848.7" y1="950.6" x2="1874.5" y2="950.6" stroke="#000" stroke-width="2.6"/>
<line x1="1898" y1="849.1" x2="1898" y2="891.4" stroke="#7777f0" stroke-width="1.3"/>
<line x1="1891.5" y1="849.1" x2="1904.6" y2="849.1" stroke="#7777f0" stroke-width="1.3"/>
<line x1="1891.5" y1="891.4" x2="1904.6" y2="891.4" stroke="#7777f0" stroke-width="1.3"/>
<circle cx="1898" cy="714.2" r="6" fill="#6868fe" stroke="#1818f5" stroke-width="1.4"/>
<circle cx="1891.9" cy="829.3" r="6" fill="#6868fe" stroke="#1818f5" stroke-width="1.4"/>
<circle cx="1903.7" cy="829.3" r="6" fill="#6868fe" stroke="#1818f5" stroke-width="1.4"/>
<circle cx="1891.9" cy="866.9" r="6" fill="#6868fe" stroke="#1818f5" stroke-width="1.4"/>
<circle cx="1898" cy="879.6" r="6" fill="#6868fe" stroke="#1818f5" stroke-width="1.4"/>
<circle cx="1898" cy="892.3" r="6" fill="#6868fe" stroke="#1818f5" stroke-width="1.4"/>
<circle cx="1891.9" cy="904.5" r="6" fill="#6868fe" stroke="#1818f5" stroke-width="1.4"/>
<circle cx="1903.7" cy="910.2" r="6" fill="#6868fe" stroke="#1818f5" stroke-width="1.4"/>
<circle cx="1898" cy="918.6" r="6" fill="#6868fe" stroke="#1818f5" stroke-width="1.4"/>
<circle cx="1898" cy="942.1" r="6" fill="#6868fe" stroke="#1818f5" stroke-width="1.4"/>
<line x1="1884.9" y1="870.2" x2="1910.7" y2="870.2" stroke="#000" stroke-width="2.6"/>
<circle cx="1935.2" cy="928.9" r="6.2" fill="#555" stroke="#3a3a3a" stroke-width="1"/>
<circle cx="1929.5" cy="938.3" r="6.2" fill="#555" stroke="#3a3a3a" stroke-width="1"/>
<circle cx="1941.3" cy="931.3" r="6.2" fill="#555" stroke="#3a3a3a" stroke-width="1"/>
<circle cx="1929.5" cy="950.1" r="6.2" fill="#555" stroke="#3a3a3a" stroke-width="1"/>
<circle cx="1935.2" cy="961.8" r="6.2" fill="#555" stroke="#3a3a3a" stroke-width="1"/>
<circle cx="1935.2" cy="971.2" r="6.2" fill="#555" stroke="#3a3a3a" stroke-width="1"/>
<circle cx="1935.2" cy="983" r="6.2" fill="#555" stroke="#3a3a3a" stroke-width="1"/>
<line x1="1922.5" y1="950.6" x2="1948.3" y2="950.6" stroke="#000" stroke-width="2.6"/>
<line x1="1972.3" y1="833.6" x2="1972.3" y2="905.5" stroke="#7777f0" stroke-width="1.3"/>
<line x1="1965.7" y1="833.6" x2="1978.9" y2="833.6" stroke="#7777f0" stroke-width="1.3"/>
<line x1="1965.7" y1="905.5" x2="1978.9" y2="905.5" stroke="#7777f0" stroke-width="1.3"/>
<circle cx="1972.3" cy="719.8" r="6" fill="#6868fe" stroke="#1818f5" stroke-width="1.4"/>
<circle cx="1972.3" cy="754.1" r="6" fill="#6868fe" stroke="#1818f5" stroke-width="1.4"/>
<circle cx="1972.3" cy="870.2" r="6" fill="#6868fe" stroke="#1818f5" stroke-width="1.4"/>
<circle cx="1965.7" cy="930.4" r="6" fill="#6868fe" stroke="#1818f5" stroke-width="1.4"/>
<circle cx="1978.9" cy="919.5" r="6" fill="#6868fe" stroke="#1818f5" stroke-width="1.4"/>
<circle cx="1978.9" cy="939.3" r="6" fill="#6868fe" stroke="#1818f5" stroke-width="1.4"/>
<circle cx="1972.3" cy="952.4" r="6" fill="#6868fe" stroke="#1818f5" stroke-width="1.4"/>
<line x1="1960.1" y1="870.2" x2="1984.5" y2="870.2" stroke="#000" stroke-width="2.6"/>
<text x="1895.2" y="697.7" style="font-size:26px" text-anchor="middle">***</text>
<text x="1970.9" y="674.2" style="font-size:26px" text-anchor="middle">*</text>
<text x="1819.5" y="1035.5" text-anchor="end" transform="rotate(-45 1819.5 1035.5)">shCtrl</text>
<text x="1904.5" y="1032" text-anchor="end" transform="rotate(-45 1904.5 1032)">shSOX6_2</text>
<text x="1982" y="1034" text-anchor="end" transform="rotate(-45 1982 1034)">shSOX6_3</text>
<circle cx="1514.4" cy="1151.5" r="6.2" fill="#555" stroke="#3a3a3a" stroke-width="1"/>
<text x="1530.5" y="1159.1" style="font-size:24px">Dox (–)</text>
<circle cx="1651.1" cy="1151.3" r="6.2" fill="#6868fe" stroke="#1818f5" stroke-width="1"/>
<text x="1667.5" y="1159.1" style="font-size:24px">Dox (+)</text>
<text x="0.5" y="1236.8" style="font-size:41px" font-weight="bold">g</text>
<line x1="118.8" y1="1305.6" x2="118.8" y2="1640.2" stroke="#1c1c1c" stroke-width="2"/>
<line x1="109.8" y1="1305.6" x2="118.8" y2="1305.6" stroke="#1c1c1c" stroke-width="2"/>
<text x="98.3" y="1315.9" text-anchor="end">500</text>
<line x1="109.8" y1="1372.8" x2="118.8" y2="1372.8" stroke="#1c1c1c" stroke-width="2"/>
<text x="98.3" y="1383.1" text-anchor="end">400</text>
<line x1="109.8" y1="1439.9" x2="118.8" y2="1439.9" stroke="#1c1c1c" stroke-width="2"/>
<text x="98.3" y="1450.2" text-anchor="end">300</text>
<line x1="109.8" y1="1506.3" x2="118.8" y2="1506.3" stroke="#1c1c1c" stroke-width="2"/>
<text x="98.3" y="1516.6" text-anchor="end">200</text>
<line x1="109.8" y1="1573.1" x2="118.8" y2="1573.1" stroke="#1c1c1c" stroke-width="2"/>
<text x="98.3" y="1583.4" text-anchor="end">100</text>
<line x1="109.8" y1="1640.2" x2="118.8" y2="1640.2" stroke="#1c1c1c" stroke-width="2"/>
<text x="98.3" y="1650.5" text-anchor="end">0</text>
<line x1="109.8" y1="1640.2" x2="480" y2="1640.2" stroke="#1c1c1c" stroke-width="2"/>
<text x="25.8" y="1473.5" text-anchor="middle" transform="rotate(-90 25.8 1473.5)">Rel. Annexin V positivity (%)</text>
<line x1="163.5" y1="1564.9" x2="163.5" y2="1580" stroke="#888" stroke-width="1.3"/>
<line x1="151.5" y1="1564.9" x2="175.6" y2="1564.9" stroke="#888" stroke-width="1.3"/>
<line x1="151.5" y1="1580" x2="175.6" y2="1580" stroke="#888" stroke-width="1.3"/>
<circle cx="163.5" cy="1512.2" r="6.2" fill="#5e5e5e" stroke="#444" stroke-width="1"/>
<circle cx="154.9" cy="1567.3" r="6.2" fill="#5e5e5e" stroke="#444" stroke-width="1"/>
<circle cx="172.1" cy="1564.9" r="6.2" fill="#5e5e5e" stroke="#444" stroke-width="1"/>
<circle cx="146.3" cy="1572.4" r="6.2" fill="#5e5e5e" stroke="#444" stroke-width="1"/>
<circle cx="180.7" cy="1571.4" r="6.2" fill="#5e5e5e" stroke="#444" stroke-width="1"/>
<circle cx="163.5" cy="1576.6" r="6.2" fill="#5e5e5e" stroke="#444" stroke-width="1"/>
<circle cx="146.3" cy="1582.8" r="6.2" fill="#5e5e5e" stroke="#444" stroke-width="1"/>
<circle cx="172.1" cy="1582.8" r="6.2" fill="#5e5e5e" stroke="#444" stroke-width="1"/>
<circle cx="163.5" cy="1595.8" r="6.2" fill="#5e5e5e" stroke="#444" stroke-width="1"/>
<circle cx="180.7" cy="1594.1" r="6.2" fill="#5e5e5e" stroke="#444" stroke-width="1"/>
<line x1="134.3" y1="1572.4" x2="193.8" y2="1572.4" stroke="#000" stroke-width="2.6"/>
<line x1="254" y1="1455.4" x2="254" y2="1495.7" stroke="#d0508a" stroke-width="1.3"/>
<line x1="238.9" y1="1455.4" x2="269.2" y2="1455.4" stroke="#d0508a" stroke-width="1.3"/>
<line x1="238.9" y1="1495.7" x2="269.2" y2="1495.7" stroke="#d0508a" stroke-width="1.3"/>
<circle cx="254" cy="1374.5" r="6.2" fill="#d1006a" stroke="#b0005d" stroke-width="1"/>
<circle cx="254" cy="1414.1" r="6.2" fill="#d1006a" stroke="#b0005d" stroke-width="1"/>
<circle cx="271.9" cy="1411.3" r="6.2" fill="#d1006a" stroke="#b0005d" stroke-width="1"/>
<circle cx="254" cy="1433.7" r="6.2" fill="#d1006a" stroke="#b0005d" stroke-width="1"/>
<circle cx="254" cy="1489.8" r="6.2" fill="#d1006a" stroke="#b0005d" stroke-width="1"/>
<circle cx="245.1" cy="1504.6" r="6.2" fill="#d1006a" stroke="#b0005d" stroke-width="1"/>
<circle cx="236.8" cy="1513.9" r="6.2" fill="#d1006a" stroke="#b0005d" stroke-width="1"/>
<circle cx="271.9" cy="1510.5" r="6.2" fill="#d1006a" stroke="#b0005d" stroke-width="1"/>
<circle cx="254" cy="1521.8" r="6.2" fill="#d1006a" stroke="#b0005d" stroke-width="1"/>
<circle cx="254" cy="1580.3" r="6.2" fill="#d1006a" stroke="#b0005d" stroke-width="1"/>
<line x1="224.4" y1="1475.4" x2="284" y2="1475.4" stroke="#000" stroke-width="2.6"/>
<line x1="344.9" y1="1563.8" x2="344.9" y2="1582.8" stroke="#888" stroke-width="1.3"/>
<line x1="330.1" y1="1563.8" x2="359.7" y2="1563.8" stroke="#888" stroke-width="1.3"/>
<line x1="330.1" y1="1582.8" x2="359.7" y2="1582.8" stroke="#888" stroke-width="1.3"/>
<circle cx="344.9" cy="1513.9" r="6.2" fill="#5e5e5e" stroke="#444" stroke-width="1"/>
<circle cx="361.4" cy="1541.4" r="6.2" fill="#5e5e5e" stroke="#444" stroke-width="1"/>
<circle cx="344.9" cy="1554.5" r="6.2" fill="#5e5e5e" stroke="#444" stroke-width="1"/>
<circle cx="335.6" cy="1571.7" r="6.2" fill="#5e5e5e" stroke="#444" stroke-width="1"/>
<circle cx="361.4" cy="1574.1" r="6.2" fill="#5e5e5e" stroke="#444" stroke-width="1"/>
<circle cx="327" cy="1580" r="6.2" fill="#5e5e5e" stroke="#444" stroke-width="1"/>
<circle cx="344.9" cy="1583.4" r="6.2" fill="#5e5e5e" stroke="#444" stroke-width="1"/>
<circle cx="327" cy="1595.8" r="6.2" fill="#5e5e5e" stroke="#444" stroke-width="1"/>
<circle cx="344.9" cy="1609.6" r="6.2" fill="#5e5e5e" stroke="#444" stroke-width="1"/>
<circle cx="361.4" cy="1608.9" r="6.2" fill="#5e5e5e" stroke="#444" stroke-width="1"/>
<line x1="315" y1="1573.1" x2="374.5" y2="1573.1" stroke="#000" stroke-width="2.6"/>
<line x1="435.5" y1="1528.4" x2="435.5" y2="1544.9" stroke="#d0508a" stroke-width="1.3"/>
<line x1="420.7" y1="1528.4" x2="450.3" y2="1528.4" stroke="#d0508a" stroke-width="1.3"/>
<line x1="420.7" y1="1544.9" x2="450.3" y2="1544.9" stroke="#d0508a" stroke-width="1.3"/>
<circle cx="435.5" cy="1492.2" r="6.2" fill="#d1006a" stroke="#b0005d" stroke-width="1"/>
<circle cx="435.5" cy="1513.2" r="6.2" fill="#d1006a" stroke="#b0005d" stroke-width="1"/>
<circle cx="426.9" cy="1524.2" r="6.2" fill="#d1006a" stroke="#b0005d" stroke-width="1"/>
<circle cx="418.2" cy="1531.1" r="6.2" fill="#d1006a" stroke="#b0005d" stroke-width="1"/>
<circle cx="444.1" cy="1529.4" r="6.2" fill="#d1006a" stroke="#b0005d" stroke-width="1"/>
<circle cx="452.7" cy="1532.2" r="6.2" fill="#d1006a" stroke="#b0005d" stroke-width="1"/>
<circle cx="435.5" cy="1539.7" r="6.2" fill="#d1006a" stroke="#b0005d" stroke-width="1"/>
<circle cx="417.6" cy="1551.8" r="6.2" fill="#d1006a" stroke="#b0005d" stroke-width="1"/>
<circle cx="435.5" cy="1562.1" r="6.2" fill="#d1006a" stroke="#b0005d" stroke-width="1"/>
<circle cx="435.5" cy="1586.9" r="6.2" fill="#d1006a" stroke="#b0005d" stroke-width="1"/>
<line x1="405.5" y1="1536.3" x2="465.4" y2="1536.3" stroke="#000" stroke-width="2.6"/>
<text x="258.2" y="1356" style="font-size:26px" text-anchor="middle">**</text>
<text x="434.4" y="1470.3" style="font-size:26px" text-anchor="middle">**</text>
<text x="256.5" y="1665.5" text-anchor="end" transform="rotate(-45 256.5 1665.5)">TC-32</text>
<text x="426" y="1665" text-anchor="end" transform="rotate(-45 426 1665)">RDES</text>
<circle cx="105.7" cy="1760" r="6.2" fill="#5e5e5e" stroke="#444" stroke-width="1"/>
<text x="123.2" y="1769.3" style="font-size:24.5px">DMSO</text>
<circle cx="247.2" cy="1760" r="6.2" fill="#d1006a" stroke="#b0005d" stroke-width="1"/>
<text x="263.7" y="1769.3" style="font-size:24.5px">Elesclomol</text>
<text x="601" y="1236" style="font-size:41px" font-weight="bold">h</text>
<line x1="754.9" y1="1305.6" x2="754.9" y2="1595.1" stroke="#1c1c1c" stroke-width="2"/>
<line x1="745.9" y1="1305.6" x2="754.9" y2="1305.6" stroke="#1c1c1c" stroke-width="2"/>
<text x="734.4" y="1315.9" text-anchor="end">1500</text>
<line x1="745.9" y1="1401.7" x2="754.9" y2="1401.7" stroke="#1c1c1c" stroke-width="2"/>
<text x="734.4" y="1412" text-anchor="end">1000</text>
<line x1="745.9" y1="1498.4" x2="754.9" y2="1498.4" stroke="#1c1c1c" stroke-width="2"/>
<text x="734.4" y="1508.7" text-anchor="end">500</text>
<line x1="745.9" y1="1595.1" x2="754.9" y2="1595.1" stroke="#1c1c1c" stroke-width="2"/>
<text x="734.4" y="1605.4" text-anchor="end">0</text>
<text x="763.5" y="1284.7">TC-32</text>
<text x="645.9" y="1480.5" text-anchor="middle" transform="rotate(-90 645.9 1480.5)">Tumor volume (mm<tspan dy="-12" style="font-size:19px">3</tspan><tspan dy="12">)</tspan></text>
<line x1="754.9" y1="1598.8" x2="754.9" y2="1626.7" stroke="#000" stroke-width="3.1"/>
<polygon points="749.6,1623.7 760.2,1623.7 754.9,1634.7" fill="#000"/>
<line x1="802.1" y1="1598.8" x2="802.1" y2="1626.7" stroke="#000" stroke-width="3.1"/>
<polygon points="796.8,1623.7 807.4,1623.7 802.1,1634.7" fill="#000"/>
<line x1="847" y1="1598.8" x2="847" y2="1626.7" stroke="#000" stroke-width="3.1"/>
<polygon points="841.7,1623.7 852.3,1623.7 847,1634.7" fill="#000"/>
<line x1="893" y1="1598.8" x2="893" y2="1626.7" stroke="#000" stroke-width="3.1"/>
<polygon points="887.7,1623.7 898.3,1623.7 893,1634.7" fill="#000"/>
<line x1="939" y1="1598.8" x2="939" y2="1626.7" stroke="#000" stroke-width="3.1"/>
<polygon points="933.7,1623.7 944.3,1623.7 939,1634.7" fill="#000"/>
<line x1="1077.1" y1="1598.8" x2="1077.1" y2="1626.7" stroke="#000" stroke-width="3.1"/>
<polygon points="1071.8,1623.7 1082.4,1623.7 1077.1,1634.7" fill="#000"/>
<line x1="1123.2" y1="1598.8" x2="1123.2" y2="1626.7" stroke="#000" stroke-width="3.1"/>
<polygon points="1117.9,1623.7 1128.5,1623.7 1123.2,1634.7" fill="#000"/>
<line x1="1169.2" y1="1598.8" x2="1169.2" y2="1626.7" stroke="#000" stroke-width="3.1"/>
<polygon points="1163.9,1623.7 1174.5,1623.7 1169.2,1634.7" fill="#000"/>
<line x1="754.9" y1="1641.8" x2="1169.2" y2="1641.8" stroke="#1c1c1c" stroke-width="2"/>
<line x1="754.9" y1="1641.8" x2="754.9" y2="1652.7" stroke="#1c1c1c" stroke-width="2"/>
<text x="754.9" y="1687.5" text-anchor="middle">0</text>
<line x1="800.9" y1="1641.8" x2="800.9" y2="1652.7" stroke="#1c1c1c" stroke-width="2"/>
<text x="800.9" y="1687.5" text-anchor="middle">1</text>
<line x1="847" y1="1641.8" x2="847" y2="1652.7" stroke="#1c1c1c" stroke-width="2"/>
<text x="847" y="1687.5" text-anchor="middle">2</text>
<line x1="893" y1="1641.8" x2="893" y2="1652.7" stroke="#1c1c1c" stroke-width="2"/>
<text x="893" y="1687.5" text-anchor="middle">3</text>
<line x1="939" y1="1641.8" x2="939" y2="1652.7" stroke="#1c1c1c" stroke-width="2"/>
<text x="939" y="1687.5" text-anchor="middle">4</text>
<line x1="985.1" y1="1641.8" x2="985.1" y2="1652.7" stroke="#1c1c1c" stroke-width="2"/>
<text x="985.1" y="1687.5" text-anchor="middle">5</text>
<line x1="1031.1" y1="1641.8" x2="1031.1" y2="1652.7" stroke="#1c1c1c" stroke-width="2"/>
<text x="1031.1" y="1687.5" text-anchor="middle">6</text>
<line x1="1077.1" y1="1641.8" x2="1077.1" y2="1652.7" stroke="#1c1c1c" stroke-width="2"/>
<text x="1077.1" y="1687.5" text-anchor="middle">7</text>
<line x1="1123.2" y1="1641.8" x2="1123.2" y2="1652.7" stroke="#1c1c1c" stroke-width="2"/>
<text x="1123.2" y="1687.5" text-anchor="middle">8</text>
<line x1="1169.2" y1="1641.8" x2="1169.2" y2="1652.7" stroke="#1c1c1c" stroke-width="2"/>
<text x="1169.2" y="1687.5" text-anchor="middle">9</text>
<text x="986.9" y="1729.2" text-anchor="middle">Days from Elesclomol start</text>
<line x1="847" y1="1536.6" x2="847" y2="1542.9" stroke="#888" stroke-width="1.4"/>
<line x1="841.3" y1="1536.6" x2="852.7" y2="1536.6" stroke="#888" stroke-width="1.4"/>
<line x1="939" y1="1500.4" x2="939" y2="1513.3" stroke="#888" stroke-width="1.4"/>
<line x1="933.3" y1="1500.4" x2="944.7" y2="1500.4" stroke="#888" stroke-width="1.4"/>
<line x1="1077.1" y1="1417.2" x2="1077.1" y2="1442.8" stroke="#888" stroke-width="1.4"/>
<line x1="1071.4" y1="1417.2" x2="1082.8" y2="1417.2" stroke="#888" stroke-width="1.4"/>
<line x1="1169.2" y1="1338.3" x2="1169.2" y2="1383.7" stroke="#888" stroke-width="1.4"/>
<line x1="1163.5" y1="1338.3" x2="1174.9" y2="1338.3" stroke="#888" stroke-width="1.4"/>
<line x1="847" y1="1570" x2="847" y2="1567.3" stroke="#d0508a" stroke-width="1.4"/>
<line x1="841.3" y1="1570" x2="852.7" y2="1570" stroke="#d0508a" stroke-width="1.4"/>
<line x1="939" y1="1550" x2="939" y2="1542" stroke="#d0508a" stroke-width="1.4"/>
<line x1="933.3" y1="1550" x2="944.7" y2="1550" stroke="#d0508a" stroke-width="1.4"/>
<line x1="1077.1" y1="1514.8" x2="1077.1" y2="1504.7" stroke="#d0508a" stroke-width="1.4"/>
<line x1="1071.4" y1="1514.8" x2="1082.8" y2="1514.8" stroke="#d0508a" stroke-width="1.4"/>
<line x1="1169.2" y1="1485" x2="1169.2" y2="1476" stroke="#d0508a" stroke-width="1.4"/>
<line x1="1163.5" y1="1485" x2="1174.9" y2="1485" stroke="#d0508a" stroke-width="1.4"/>
<polyline points="754.9,1575.8 847,1542.9 939,1513.3 1077.1,1442.8 1169.2,1383.7" fill="none" stroke="#333" stroke-width="2.8"/>
<polyline points="754.9,1575.8 847,1567.3 939,1542 1077.1,1504.7 1169.2,1476" fill="none" stroke="#d1006a" stroke-width="2.8"/>
<circle cx="754.9" cy="1575.8" r="6.6" fill="#5d5d5d" stroke="#444" stroke-width="1"/>
<circle cx="847" cy="1542.9" r="6.6" fill="#5d5d5d" stroke="#444" stroke-width="1"/>
<circle cx="939" cy="1513.3" r="6.6" fill="#5d5d5d" stroke="#444" stroke-width="1"/>
<circle cx="1077.1" cy="1442.8" r="6.6" fill="#5d5d5d" stroke="#444" stroke-width="1"/>
<circle cx="1169.2" cy="1383.7" r="6.6" fill="#5d5d5d" stroke="#444" stroke-width="1"/>
<circle cx="754.9" cy="1575.8" r="6.6" fill="#d1006a" stroke="#b0005d" stroke-width="1"/>
<circle cx="847" cy="1567.3" r="6.6" fill="#d1006a" stroke="#b0005d" stroke-width="1"/>
<circle cx="939" cy="1542" r="6.6" fill="#d1006a" stroke="#b0005d" stroke-width="1"/>
<circle cx="1077.1" cy="1504.7" r="6.6" fill="#d1006a" stroke="#b0005d" stroke-width="1"/>
<circle cx="1169.2" cy="1476" r="6.6" fill="#d1006a" stroke="#b0005d" stroke-width="1"/>
<text x="1163.5" y="1321.3" style="font-size:26px" text-anchor="middle">*</text>
<line x1="770" y1="1320.6" x2="788" y2="1320.6" stroke="#333" stroke-width="2.8"/>
<circle cx="778.7" cy="1320.6" r="6.6" fill="#5d5d5d" stroke="#444" stroke-width="1"/>
<text x="800.8" y="1328.6" style="font-size:24.5px">DMSO</text>
<line x1="770" y1="1353.5" x2="788" y2="1353.5" stroke="#d1006a" stroke-width="2.8"/>
<circle cx="778.7" cy="1353.5" r="6.6" fill="#d1006a" stroke="#b0005d" stroke-width="1"/>
<text x="800.8" y="1361.6" style="font-size:24.5px">5 mg/kg Elesclomol</text>
<text x="1273.5" y="1236" style="font-size:41px" font-weight="bold">i</text>
<line x1="1412" y1="1304.2" x2="1412" y2="1638.8" stroke="#1c1c1c" stroke-width="2"/>
<line x1="1403" y1="1304.2" x2="1412" y2="1304.2" stroke="#1c1c1c" stroke-width="2"/>
<text x="1391.5" y="1314.5" text-anchor="end">2.0</text>
<line x1="1403" y1="1387.4" x2="1412" y2="1387.4" stroke="#1c1c1c" stroke-width="2"/>
<text x="1391.5" y="1397.7" text-anchor="end">1.5</text>
<line x1="1403" y1="1471.2" x2="1412" y2="1471.2" stroke="#1c1c1c" stroke-width="2"/>
<text x="1391.5" y="1481.5" text-anchor="end">1.0</text>
<line x1="1403" y1="1554.9" x2="1412" y2="1554.9" stroke="#1c1c1c" stroke-width="2"/>
<text x="1391.5" y="1565.2" text-anchor="end">0.5</text>
<line x1="1403" y1="1638.4" x2="1412" y2="1638.4" stroke="#1c1c1c" stroke-width="2"/>
<text x="1391.5" y="1648.7" text-anchor="end">0.0</text>
<line x1="1403" y1="1638.8" x2="1617.2" y2="1638.8" stroke="#1c1c1c" stroke-width="2"/>
<text x="1427.4" y="1290.4">TC-32</text>
<text x="1296.9" y="1471" text-anchor="middle" transform="rotate(-90 1296.9 1471)">Average number of</text>
<text x="1330.5" y="1471" text-anchor="middle" transform="rotate(-90 1330.5 1471)">positive cells/3HPF</text>
<line x1="1462.7" y1="1480.6" x2="1462.7" y2="1530" stroke="#888" stroke-width="1.3"/>
<line x1="1446.1" y1="1480.6" x2="1479.3" y2="1480.6" stroke="#888" stroke-width="1.3"/>
<line x1="1446.1" y1="1530" x2="1479.3" y2="1530" stroke="#888" stroke-width="1.3"/>
<circle cx="1445.5" cy="1471.2" r="6.2" fill="#5e5e5e" stroke="#444" stroke-width="1"/>
<circle cx="1462.7" cy="1488.4" r="6.2" fill="#5e5e5e" stroke="#444" stroke-width="1"/>
<circle cx="1445.5" cy="1516.2" r="6.2" fill="#5e5e5e" stroke="#444" stroke-width="1"/>
<circle cx="1480.5" cy="1521.9" r="6.2" fill="#5e5e5e" stroke="#444" stroke-width="1"/>
<circle cx="1462.7" cy="1530" r="6.2" fill="#5e5e5e" stroke="#444" stroke-width="1"/>
<line x1="1429.7" y1="1505.3" x2="1497.2" y2="1505.3" stroke="#000" stroke-width="2.6"/>
<line x1="1566.4" y1="1404.8" x2="1566.4" y2="1464.1" stroke="#d0508a" stroke-width="1.3"/>
<line x1="1549.7" y1="1404.8" x2="1583.1" y2="1404.8" stroke="#d0508a" stroke-width="1.3"/>
<line x1="1549.7" y1="1464.1" x2="1583.1" y2="1464.1" stroke="#d0508a" stroke-width="1.3"/>
<circle cx="1566.4" cy="1371.1" r="6.2" fill="#d1006a" stroke="#b0005d" stroke-width="1"/>
<circle cx="1583.5" cy="1387.7" r="6.2" fill="#d1006a" stroke="#b0005d" stroke-width="1"/>
<circle cx="1566.4" cy="1404.4" r="6.2" fill="#d1006a" stroke="#b0005d" stroke-width="1"/>
<circle cx="1566.4" cy="1488.2" r="6.2" fill="#d1006a" stroke="#b0005d" stroke-width="1"/>
<circle cx="1566.4" cy="1522" r="6.2" fill="#d1006a" stroke="#b0005d" stroke-width="1"/>
<line x1="1532" y1="1434.3" x2="1600.2" y2="1434.3" stroke="#000" stroke-width="2.6"/>
<text x="1563.6" y="1347" style="font-size:26px" text-anchor="middle">*</text>
<text x="1478" y="1663" text-anchor="end" transform="rotate(-45 1478 1663)">DMSO</text>
<text x="1529" y="1700" text-anchor="middle" transform="rotate(-45 1529 1700)">5 mg/kg</text>
<text x="1552.5" y="1722.5" text-anchor="middle" transform="rotate(-45 1552.5 1722.5)">Elesclomol</text>
<clipPath id="ihc11"><rect x="1734" y="1228" width="210.6" height="207"/></clipPath>
<g clip-path="url(#ihc11)">
<rect x="1734" y="1228" width="210.6" height="207" fill="#f4e8ed"/>
<ellipse cx="1734.3" cy="1230.1" rx="4.5" ry="3.8" fill="#e0d9ec" stroke="#d4cce4" stroke-width="0.6" transform="rotate(105 1734.3 1230.1)"/>
<ellipse cx="1744.4" cy="1228.6" rx="4.1" ry="3.7" fill="#ddd6ea" stroke="#d4cce4" stroke-width="0.6" transform="rotate(25 1744.4 1228.6)"/>
<ellipse cx="1754.5" cy="1227.8" rx="5" ry="3.9" fill="#ddd6ea" stroke="#d4cce4" stroke-width="0.6" transform="rotate(112 1754.5 1227.8)"/>
<ellipse cx="1807.2" cy="1229.7" rx="4.6" ry="3.9" fill="#ddd6ea" stroke="#d4cce4" stroke-width="0.6" transform="rotate(89 1807.2 1229.7)"/>
<ellipse cx="1816.9" cy="1230.5" rx="5.4" ry="4.2" fill="#dad3e8" stroke="#d4cce4" stroke-width="0.6" transform="rotate(127 1816.9 1230.5)"/>
<ellipse cx="1828.6" cy="1225.6" rx="4.7" ry="3.2" fill="#dad3e8" stroke="#d4cce4" stroke-width="0.6" transform="rotate(19 1828.6 1225.6)"/>
<ellipse cx="1841.3" cy="1229.7" rx="3.8" ry="3.4" fill="#e3dcee" stroke="#d4cce4" stroke-width="0.6" transform="rotate(163 1841.3 1229.7)"/>
<ellipse cx="1850.5" cy="1227.6" rx="4.7" ry="3.4" fill="#dad3e8" stroke="#d4cce4" stroke-width="0.6" transform="rotate(121 1850.5 1227.6)"/>
<ellipse cx="1872.8" cy="1229.3" rx="4" ry="3.4" fill="#ddd6ea" stroke="#d4cce4" stroke-width="0.6" transform="rotate(18 1872.8 1229.3)"/>
<ellipse cx="1880.9" cy="1228.9" rx="4.1" ry="3.8" fill="#e0d9ec" stroke="#d4cce4" stroke-width="0.6" transform="rotate(177 1880.9 1228.9)"/>
<ellipse cx="1890.9" cy="1227.5" rx="5.4" ry="3.1" fill="#dad3e8" stroke="#d4cce4" stroke-width="0.6" transform="rotate(155 1890.9 1227.5)"/>
<ellipse cx="1899.6" cy="1226.4" rx="5.4" ry="3.9" fill="#ddd6ea" stroke="#d4cce4" stroke-width="0.6" transform="rotate(103 1899.6 1226.4)"/>
<ellipse cx="1911.1" cy="1226.8" rx="5" ry="3.5" fill="#ddd6ea" stroke="#d4cce4" stroke-width="0.6" transform="rotate(53 1911.1 1226.8)"/>
<ellipse cx="1941.6" cy="1227.3" rx="4.8" ry="3.3" fill="#e0d9ec" stroke="#d4cce4" stroke-width="0.6" transform="rotate(105 1941.6 1227.3)"/>
<ellipse cx="1952.9" cy="1226.3" rx="5.3" ry="4.2" fill="#e0d9ec" stroke="#d4cce4" stroke-width="0.6" transform="rotate(44 1952.9 1226.3)"/>
<ellipse cx="1750" cy="1238.9" rx="4.4" ry="3.7" fill="#ddd6ea" stroke="#d4cce4" stroke-width="0.6" transform="rotate(14 1750 1238.9)"/>
<ellipse cx="1779.9" cy="1239" rx="4.2" ry="4.2" fill="#dad3e8" stroke="#d4cce4" stroke-width="0.6" transform="rotate(107 1779.9 1239)"/>
<ellipse cx="1793.9" cy="1240.4" rx="4" ry="3.7" fill="#ddd6ea" stroke="#d4cce4" stroke-width="0.6" transform="rotate(117 1793.9 1240.4)"/>
<ellipse cx="1804.3" cy="1236.5" rx="3.8" ry="3.4" fill="#ddd6ea" stroke="#d4cce4" stroke-width="0.6" transform="rotate(80 1804.3 1236.5)"/>
<ellipse cx="1823.4" cy="1240.3" rx="3.9" ry="3.3" fill="#dad3e8" stroke="#d4cce4" stroke-width="0.6" transform="rotate(81 1823.4 1240.3)"/>
<ellipse cx="1834.7" cy="1238.4" rx="4" ry="3.1" fill="#dad3e8" stroke="#d4cce4" stroke-width="0.6" transform="rotate(3 1834.7 1238.4)"/>
<ellipse cx="1846.6" cy="1235.6" rx="4.8" ry="3.7" fill="#dad3e8" stroke="#d4cce4" stroke-width="0.6" transform="rotate(131 1846.6 1235.6)"/>
<ellipse cx="1875.1" cy="1235.7" rx="5.3" ry="4.1" fill="#dad3e8" stroke="#d4cce4" stroke-width="0.6" transform="rotate(23 1875.1 1235.7)"/>
<ellipse cx="1887.2" cy="1240" rx="5.2" ry="3.6" fill="#e3dcee" stroke="#d4cce4" stroke-width="0.6" transform="rotate(142 1887.2 1240)"/>
<ellipse cx="1897.4" cy="1237.4" rx="4.7" ry="3.9" fill="#ddd6ea" stroke="#d4cce4" stroke-width="0.6" transform="rotate(14 1897.4 1237.4)"/>
<ellipse cx="1909.1" cy="1239.1" rx="4.4" ry="4.1" fill="#e3dcee" stroke="#d4cce4" stroke-width="0.6" transform="rotate(104 1909.1 1239.1)"/>
<ellipse cx="1918" cy="1238.1" rx="4.6" ry="3.5" fill="#ddd6ea" stroke="#d4cce4" stroke-width="0.6" transform="rotate(15 1918 1238.1)"/>
<ellipse cx="1938.7" cy="1238.5" rx="5.3" ry="3.4" fill="#dad3e8" stroke="#d4cce4" stroke-width="0.6" transform="rotate(2 1938.7 1238.5)"/>
<ellipse cx="1959.8" cy="1239.2" rx="4.3" ry="4.3" fill="#e0d9ec" stroke="#d4cce4" stroke-width="0.6" transform="rotate(89 1959.8 1239.2)"/>
<ellipse cx="1734.8" cy="1246.4" rx="4.5" ry="4.1" fill="#e0d9ec" stroke="#d4cce4" stroke-width="0.6" transform="rotate(164 1734.8 1246.4)"/>
<ellipse cx="1744.9" cy="1247" rx="4" ry="3.7" fill="#ddd6ea" stroke="#d4cce4" stroke-width="0.6" transform="rotate(150 1744.9 1247)"/>
<ellipse cx="1757.3" cy="1246.8" rx="4.1" ry="3.7" fill="#e0d9ec" stroke="#d4cce4" stroke-width="0.6" transform="rotate(49 1757.3 1246.8)"/>
<ellipse cx="1764.9" cy="1248" rx="4.9" ry="4" fill="#e3dcee" stroke="#d4cce4" stroke-width="0.6" transform="rotate(151 1764.9 1248)"/>
<ellipse cx="1777.6" cy="1246.8" rx="4.8" ry="4" fill="#dad3e8" stroke="#d4cce4" stroke-width="0.6" transform="rotate(50 1777.6 1246.8)"/>
<ellipse cx="1788" cy="1245.5" rx="4" ry="3.7" fill="#dad3e8" stroke="#d4cce4" stroke-width="0.6" transform="rotate(4 1788 1245.5)"/>
<ellipse cx="1828.2" cy="1248.6" rx="4.8" ry="4.1" fill="#e0d9ec" stroke="#d4cce4" stroke-width="0.6" transform="rotate(172 1828.2 1248.6)"/>
<ellipse cx="1847.9" cy="1245.5" rx="4.6" ry="4" fill="#dad3e8" stroke="#d4cce4" stroke-width="0.6" transform="rotate(32 1847.9 1245.5)"/>
<ellipse cx="1860.2" cy="1250.2" rx="4.6" ry="4.4" fill="#e0d9ec" stroke="#d4cce4" stroke-width="0.6" transform="rotate(28 1860.2 1250.2)"/>
<ellipse cx="1882.1" cy="1246.1" rx="4.5" ry="3.9" fill="#e3dcee" stroke="#d4cce4" stroke-width="0.6" transform="rotate(163 1882.1 1246.1)"/>
<ellipse cx="1892.3" cy="1248" rx="5.1" ry="3.5" fill="#e0d9ec" stroke="#d4cce4" stroke-width="0.6" transform="rotate(58 1892.3 1248)"/>
<ellipse cx="1914" cy="1250.1" rx="4" ry="3.4" fill="#ddd6ea" stroke="#d4cce4" stroke-width="0.6" transform="rotate(70 1914 1250.1)"/>
<ellipse cx="1923.2" cy="1249.4" rx="4.3" ry="4.3" fill="#dad3e8" stroke="#d4cce4" stroke-width="0.6" transform="rotate(154 1923.2 1249.4)"/>
<ellipse cx="1931.2" cy="1247.2" rx="4.5" ry="3.5" fill="#e0d9ec" stroke="#d4cce4" stroke-width="0.6" transform="rotate(165 1931.2 1247.2)"/>
<ellipse cx="1941.8" cy="1249.4" rx="4.1" ry="3.5" fill="#e0d9ec" stroke="#d4cce4" stroke-width="0.6" transform="rotate(141 1941.8 1249.4)"/>
<ellipse cx="1957" cy="1250" rx="4.6" ry="4" fill="#e3dcee" stroke="#d4cce4" stroke-width="0.6" transform="rotate(79 1957 1250)"/>
<ellipse cx="1740.2" cy="1259.2" rx="4.5" ry="3.8" fill="#e0d9ec" stroke="#d4cce4" stroke-width="0.6" transform="rotate(149 1740.2 1259.2)"/>
<ellipse cx="1751.5" cy="1258.2" rx="4.3" ry="3.6" fill="#e0d9ec" stroke="#d4cce4" stroke-width="0.6" transform="rotate(152 1751.5 1258.2)"/>
<ellipse cx="1758.5" cy="1258.1" rx="4.2" ry="3.7" fill="#ddd6ea" stroke="#d4cce4" stroke-width="0.6" transform="rotate(73 1758.5 1258.1)"/>
<ellipse cx="1771.3" cy="1255.6" rx="5.4" ry="3.8" fill="#ddd6ea" stroke="#d4cce4" stroke-width="0.6" transform="rotate(72 1771.3 1255.6)"/>
<ellipse cx="1782.2" cy="1255.8" rx="4.7" ry="3.6" fill="#e3dcee" stroke="#d4cce4" stroke-width="0.6" transform="rotate(172 1782.2 1255.8)"/>
<ellipse cx="1800.4" cy="1257.6" rx="5.1" ry="4.3" fill="#dad3e8" stroke="#d4cce4" stroke-width="0.6" transform="rotate(85 1800.4 1257.6)"/>
<ellipse cx="1820.9" cy="1256.7" rx="4.9" ry="4.4" fill="#e0d9ec" stroke="#d4cce4" stroke-width="0.6" transform="rotate(6 1820.9 1256.7)"/>
<ellipse cx="1843.4" cy="1257.2" rx="4.8" ry="3.2" fill="#ddd6ea" stroke="#d4cce4" stroke-width="0.6" transform="rotate(131 1843.4 1257.2)"/>
<ellipse cx="1855.4" cy="1259" rx="4.9" ry="4.2" fill="#e3dcee" stroke="#d4cce4" stroke-width="0.6" transform="rotate(4 1855.4 1259)"/>
<ellipse cx="1865.8" cy="1258.1" rx="5.2" ry="3.8" fill="#e0d9ec" stroke="#d4cce4" stroke-width="0.6" transform="rotate(39 1865.8 1258.1)"/>
<ellipse cx="1876.3" cy="1259.7" rx="4.2" ry="4.1" fill="#e0d9ec" stroke="#d4cce4" stroke-width="0.6" transform="rotate(145 1876.3 1259.7)"/>
<ellipse cx="1885.3" cy="1260" rx="4.1" ry="4.4" fill="#e0d9ec" stroke="#d4cce4" stroke-width="0.6" transform="rotate(159 1885.3 1260)"/>
<ellipse cx="1894.9" cy="1255.9" rx="4.4" ry="3.7" fill="#e0d9ec" stroke="#d4cce4" stroke-width="0.6" transform="rotate(169 1894.9 1255.9)"/>
<ellipse cx="1919.2" cy="1255.9" rx="4.7" ry="3.6" fill="#dad3e8" stroke="#d4cce4" stroke-width="0.6" transform="rotate(147 1919.2 1255.9)"/>
<ellipse cx="1940" cy="1257.9" rx="4.9" ry="3.3" fill="#ddd6ea" stroke="#d4cce4" stroke-width="0.6" transform="rotate(12 1940 1257.9)"/>
<ellipse cx="1960.3" cy="1260" rx="4.6" ry="3.3" fill="#e0d9ec" stroke="#d4cce4" stroke-width="0.6" transform="rotate(20 1960.3 1260)"/>
<ellipse cx="1736.5" cy="1270" rx="4" ry="3.2" fill="#e3dcee" stroke="#d4cce4" stroke-width="0.6" transform="rotate(171 1736.5 1270)"/>
<ellipse cx="1765.1" cy="1267.2" rx="4.1" ry="3.6" fill="#ddd6ea" stroke="#d4cce4" stroke-width="0.6" transform="rotate(114 1765.1 1267.2)"/>
<ellipse cx="1774.4" cy="1267.7" rx="5" ry="3.6" fill="#e0d9ec" stroke="#d4cce4" stroke-width="0.6" transform="rotate(35 1774.4 1267.7)"/>
<ellipse cx="1796.1" cy="1265.8" rx="5.1" ry="4.2" fill="#e3dcee" stroke="#d4cce4" stroke-width="0.6" transform="rotate(163 1796.1 1265.8)"/>
<ellipse cx="1806" cy="1268.3" rx="4.3" ry="4.1" fill="#ddd6ea" stroke="#d4cce4" stroke-width="0.6" transform="rotate(50 1806 1268.3)"/>
<ellipse cx="1819.4" cy="1269.5" rx="4.4" ry="4.3" fill="#dad3e8" stroke="#d4cce4" stroke-width="0.6" transform="rotate(158 1819.4 1269.5)"/>
<ellipse cx="1829.8" cy="1267.4" rx="5" ry="3.2" fill="#e3dcee" stroke="#d4cce4" stroke-width="0.6" transform="rotate(61 1829.8 1267.4)"/>
<ellipse cx="1852" cy="1269.9" rx="3.9" ry="3.5" fill="#dad3e8" stroke="#d4cce4" stroke-width="0.6" transform="rotate(173 1852 1269.9)"/>
<ellipse cx="1860.8" cy="1268.2" rx="4.7" ry="3.6" fill="#e0d9ec" stroke="#d4cce4" stroke-width="0.6" transform="rotate(179 1860.8 1268.2)"/>
<ellipse cx="1871.8" cy="1270.3" rx="3.8" ry="3.9" fill="#dad3e8" stroke="#d4cce4" stroke-width="0.6" transform="rotate(132 1871.8 1270.3)"/>
<ellipse cx="1881" cy="1269.2" rx="4.8" ry="3.1" fill="#dad3e8" stroke="#d4cce4" stroke-width="0.6" transform="rotate(46 1881 1269.2)"/>
<ellipse cx="1891.8" cy="1267.9" rx="5.3" ry="3.8" fill="#e3dcee" stroke="#d4cce4" stroke-width="0.6" transform="rotate(179 1891.8 1267.9)"/>
<ellipse cx="1899.9" cy="1268.4" rx="5" ry="3.2" fill="#e0d9ec" stroke="#d4cce4" stroke-width="0.6" transform="rotate(167 1899.9 1268.4)"/>
<ellipse cx="1914.9" cy="1269.7" rx="4.7" ry="3.9" fill="#e3dcee" stroke="#d4cce4" stroke-width="0.6" transform="rotate(77 1914.9 1269.7)"/>
<ellipse cx="1923.1" cy="1268.4" rx="4.4" ry="3.5" fill="#dad3e8" stroke="#d4cce4" stroke-width="0.6" transform="rotate(117 1923.1 1268.4)"/>
<ellipse cx="1934.7" cy="1265.5" rx="5" ry="3.9" fill="#e3dcee" stroke="#d4cce4" stroke-width="0.6" transform="rotate(113 1934.7 1265.5)"/>
<ellipse cx="1943.4" cy="1269.9" rx="5" ry="3.2" fill="#dad3e8" stroke="#d4cce4" stroke-width="0.6" transform="rotate(177 1943.4 1269.9)"/>
<ellipse cx="1738.9" cy="1277.8" rx="5.4" ry="3.4" fill="#e3dcee" stroke="#d4cce4" stroke-width="0.6" transform="rotate(94 1738.9 1277.8)"/>
<ellipse cx="1759" cy="1278.9" rx="3.9" ry="3.6" fill="#ddd6ea" stroke="#d4cce4" stroke-width="0.6" transform="rotate(21 1759 1278.9)"/>
<ellipse cx="1769" cy="1277.2" rx="4" ry="3.6" fill="#e3dcee" stroke="#d4cce4" stroke-width="0.6" transform="rotate(108 1769 1277.2)"/>
<ellipse cx="1782.5" cy="1279.5" rx="4" ry="3.5" fill="#e3dcee" stroke="#d4cce4" stroke-width="0.6" transform="rotate(23 1782.5 1279.5)"/>
<ellipse cx="1803.7" cy="1278.5" rx="4.4" ry="3.5" fill="#e0d9ec" stroke="#d4cce4" stroke-width="0.6" transform="rotate(123 1803.7 1278.5)"/>
<ellipse cx="1814" cy="1276.3" rx="4.2" ry="4.4" fill="#ddd6ea" stroke="#d4cce4" stroke-width="0.6" transform="rotate(164 1814 1276.3)"/>
<ellipse cx="1820.8" cy="1276.7" rx="3.8" ry="3.1" fill="#dad3e8" stroke="#d4cce4" stroke-width="0.6" transform="rotate(40 1820.8 1276.7)"/>
<ellipse cx="1855" cy="1278.5" rx="4.4" ry="3.7" fill="#dad3e8" stroke="#d4cce4" stroke-width="0.6" transform="rotate(37 1855 1278.5)"/>
<ellipse cx="1863.4" cy="1279.7" rx="5.1" ry="3.7" fill="#e0d9ec" stroke="#d4cce4" stroke-width="0.6" transform="rotate(147 1863.4 1279.7)"/>
<ellipse cx="1877" cy="1277.3" rx="4" ry="3.3" fill="#dad3e8" stroke="#d4cce4" stroke-width="0.6" transform="rotate(150 1877 1277.3)"/>
<ellipse cx="1887.5" cy="1279.5" rx="4.1" ry="3.9" fill="#e3dcee" stroke="#d4cce4" stroke-width="0.6" transform="rotate(104 1887.5 1279.5)"/>
<ellipse cx="1894.6" cy="1275.8" rx="4.7" ry="3.7" fill="#dad3e8" stroke="#d4cce4" stroke-width="0.6" transform="rotate(123 1894.6 1275.8)"/>
<ellipse cx="1904.8" cy="1276.9" rx="5.3" ry="3.9" fill="#e3dcee" stroke="#d4cce4" stroke-width="0.6" transform="rotate(125 1904.8 1276.9)"/>
<ellipse cx="1918.7" cy="1276.8" rx="4" ry="3.6" fill="#dad3e8" stroke="#d4cce4" stroke-width="0.6" transform="rotate(130 1918.7 1276.8)"/>
<ellipse cx="1927.4" cy="1277.6" rx="4.8" ry="4.3" fill="#dad3e8" stroke="#d4cce4" stroke-width="0.6" transform="rotate(123 1927.4 1277.6)"/>
<ellipse cx="1940.3" cy="1276.9" rx="4.3" ry="3.6" fill="#e0d9ec" stroke="#d4cce4" stroke-width="0.6" transform="rotate(168 1940.3 1276.9)"/>
<ellipse cx="1957.4" cy="1278.8" rx="4.7" ry="4.1" fill="#dad3e8" stroke="#d4cce4" stroke-width="0.6" transform="rotate(132 1957.4 1278.8)"/>
<ellipse cx="1734.2" cy="1289.5" rx="4.7" ry="3.3" fill="#dad3e8" stroke="#d4cce4" stroke-width="0.6" transform="rotate(136 1734.2 1289.5)"/>
<ellipse cx="1743.1" cy="1285.6" rx="4.1" ry="3.5" fill="#e3dcee" stroke="#d4cce4" stroke-width="0.6" transform="rotate(4 1743.1 1285.6)"/>
<ellipse cx="1766.9" cy="1285.8" rx="3.9" ry="4.1" fill="#ddd6ea" stroke="#d4cce4" stroke-width="0.6" transform="rotate(161 1766.9 1285.8)"/>
<ellipse cx="1784.5" cy="1289.4" rx="4.5" ry="4" fill="#dad3e8" stroke="#d4cce4" stroke-width="0.6" transform="rotate(88 1784.5 1289.4)"/>
<ellipse cx="1796.5" cy="1287" rx="5.3" ry="4" fill="#ddd6ea" stroke="#d4cce4" stroke-width="0.6" transform="rotate(88 1796.5 1287)"/>
<ellipse cx="1809.6" cy="1287.4" rx="5.1" ry="4" fill="#e3dcee" stroke="#d4cce4" stroke-width="0.6" transform="rotate(153 1809.6 1287.4)"/>
<ellipse cx="1819.9" cy="1290.1" rx="4.8" ry="3.8" fill="#ddd6ea" stroke="#d4cce4" stroke-width="0.6" transform="rotate(127 1819.9 1290.1)"/>
<ellipse cx="1828.1" cy="1286.1" rx="5" ry="4.4" fill="#e0d9ec" stroke="#d4cce4" stroke-width="0.6" transform="rotate(67 1828.1 1286.1)"/>
<ellipse cx="1838.4" cy="1288" rx="4.2" ry="4.3" fill="#ddd6ea" stroke="#d4cce4" stroke-width="0.6" transform="rotate(84 1838.4 1288)"/>
<ellipse cx="1847.8" cy="1289.9" rx="5.3" ry="4.1" fill="#e3dcee" stroke="#d4cce4" stroke-width="0.6" transform="rotate(3 1847.8 1289.9)"/>
<ellipse cx="1857.7" cy="1285.9" rx="4.1" ry="3.4" fill="#e3dcee" stroke="#d4cce4" stroke-width="0.6" transform="rotate(42 1857.7 1285.9)"/>
<ellipse cx="1869.1" cy="1286.3" rx="4.2" ry="3.3" fill="#dad3e8" stroke="#d4cce4" stroke-width="0.6" transform="rotate(136 1869.1 1286.3)"/>
<ellipse cx="1883.2" cy="1288.1" rx="5.2" ry="3.7" fill="#dad3e8" stroke="#d4cce4" stroke-width="0.6" transform="rotate(72 1883.2 1288.1)"/>
<ellipse cx="1892.9" cy="1285.8" rx="5.2" ry="3.6" fill="#e0d9ec" stroke="#d4cce4" stroke-width="0.6" transform="rotate(39 1892.9 1285.8)"/>
<ellipse cx="1901.4" cy="1288" rx="4.6" ry="3.5" fill="#e0d9ec" stroke="#d4cce4" stroke-width="0.6" transform="rotate(178 1901.4 1288)"/>
<ellipse cx="1914.4" cy="1289.9" rx="4.5" ry="3.4" fill="#e0d9ec" stroke="#d4cce4" stroke-width="0.6" transform="rotate(75 1914.4 1289.9)"/>
<ellipse cx="1924.4" cy="1286.1" rx="5.3" ry="4.2" fill="#dad3e8" stroke="#d4cce4" stroke-width="0.6" transform="rotate(23 1924.4 1286.1)"/>
<ellipse cx="1931.3" cy="1288.2" rx="4.1" ry="3.4" fill="#e0d9ec" stroke="#d4cce4" stroke-width="0.6" transform="rotate(164 1931.3 1288.2)"/>
<ellipse cx="1941.9" cy="1286.7" rx="4.9" ry="3.2" fill="#e3dcee" stroke="#d4cce4" stroke-width="0.6" transform="rotate(86 1941.9 1286.7)"/>
<ellipse cx="1739.5" cy="1297.9" rx="3.8" ry="3.3" fill="#ddd6ea" stroke="#d4cce4" stroke-width="0.6" transform="rotate(34 1739.5 1297.9)"/>
<ellipse cx="1749.5" cy="1295.5" rx="4.5" ry="3.7" fill="#dad3e8" stroke="#d4cce4" stroke-width="0.6" transform="rotate(170 1749.5 1295.5)"/>
<ellipse cx="1759.8" cy="1298.1" rx="5.4" ry="4" fill="#ddd6ea" stroke="#d4cce4" stroke-width="0.6" transform="rotate(12 1759.8 1298.1)"/>
<ellipse cx="1768.8" cy="1297.3" rx="4.5" ry="4.4" fill="#e3dcee" stroke="#d4cce4" stroke-width="0.6" transform="rotate(149 1768.8 1297.3)"/>
<ellipse cx="1792.8" cy="1296.5" rx="4.7" ry="3.7" fill="#e0d9ec" stroke="#d4cce4" stroke-width="0.6" transform="rotate(1 1792.8 1296.5)"/>
<ellipse cx="1800.5" cy="1298.5" rx="5.3" ry="4.1" fill="#e3dcee" stroke="#d4cce4" stroke-width="0.6" transform="rotate(171 1800.5 1298.5)"/>
<ellipse cx="1810.7" cy="1296.3" rx="4.4" ry="3.2" fill="#dad3e8" stroke="#d4cce4" stroke-width="0.6" transform="rotate(55 1810.7 1296.3)"/>
<ellipse cx="1824.4" cy="1297" rx="5.1" ry="3.2" fill="#ddd6ea" stroke="#d4cce4" stroke-width="0.6" transform="rotate(25 1824.4 1297)"/>
<ellipse cx="1842.6" cy="1296.3" rx="3.9" ry="3.7" fill="#ddd6ea" stroke="#d4cce4" stroke-width="0.6" transform="rotate(126 1842.6 1296.3)"/>
<ellipse cx="1884.1" cy="1299.9" rx="4.5" ry="3.8" fill="#e0d9ec" stroke="#d4cce4" stroke-width="0.6" transform="rotate(116 1884.1 1299.9)"/>
<ellipse cx="1896.2" cy="1297" rx="4.5" ry="3.1" fill="#dad3e8" stroke="#d4cce4" stroke-width="0.6" transform="rotate(72 1896.2 1297)"/>
<ellipse cx="1908.7" cy="1298.6" rx="4.8" ry="3.1" fill="#dad3e8" stroke="#d4cce4" stroke-width="0.6" transform="rotate(59 1908.7 1298.6)"/>
<ellipse cx="1917.5" cy="1298.1" rx="4.1" ry="3.5" fill="#ddd6ea" stroke="#d4cce4" stroke-width="0.6" transform="rotate(52 1917.5 1298.1)"/>
<ellipse cx="1926.5" cy="1299.2" rx="5.2" ry="3.8" fill="#e0d9ec" stroke="#d4cce4" stroke-width="0.6" transform="rotate(63 1926.5 1299.2)"/>
<ellipse cx="1937.2" cy="1300" rx="5.4" ry="4" fill="#ddd6ea" stroke="#d4cce4" stroke-width="0.6" transform="rotate(168 1937.2 1300)"/>
<ellipse cx="1947.7" cy="1295.7" rx="4.2" ry="3.8" fill="#dad3e8" stroke="#d4cce4" stroke-width="0.6" transform="rotate(125 1947.7 1295.7)"/>
<ellipse cx="1732.8" cy="1309.7" rx="4.5" ry="4" fill="#ddd6ea" stroke="#d4cce4" stroke-width="0.6" transform="rotate(42 1732.8 1309.7)"/>
<ellipse cx="1743.3" cy="1309.8" rx="5.4" ry="4.2" fill="#ddd6ea" stroke="#d4cce4" stroke-width="0.6" transform="rotate(108 1743.3 1309.8)"/>
<ellipse cx="1752.5" cy="1308.7" rx="4.4" ry="4.1" fill="#e0d9ec" stroke="#d4cce4" stroke-width="0.6" transform="rotate(65 1752.5 1308.7)"/>
<ellipse cx="1773.9" cy="1305.5" rx="4.1" ry="4.4" fill="#e0d9ec" stroke="#d4cce4" stroke-width="0.6" transform="rotate(169 1773.9 1305.5)"/>
<ellipse cx="1787.4" cy="1309" rx="4.4" ry="3.9" fill="#ddd6ea" stroke="#d4cce4" stroke-width="0.6" transform="rotate(144 1787.4 1309)"/>
<ellipse cx="1805.2" cy="1307.9" rx="4" ry="3.6" fill="#e0d9ec" stroke="#d4cce4" stroke-width="0.6" transform="rotate(60 1805.2 1307.9)"/>
<ellipse cx="1827.7" cy="1308.5" rx="3.9" ry="4" fill="#e3dcee" stroke="#d4cce4" stroke-width="0.6" transform="rotate(26 1827.7 1308.5)"/>
<ellipse cx="1838.8" cy="1307.4" rx="4.8" ry="4" fill="#dad3e8" stroke="#d4cce4" stroke-width="0.6" transform="rotate(136 1838.8 1307.4)"/>
<ellipse cx="1852" cy="1309.5" rx="5.2" ry="3.6" fill="#ddd6ea" stroke="#d4cce4" stroke-width="0.6" transform="rotate(78 1852 1309.5)"/>
<ellipse cx="1860.1" cy="1307.9" rx="4.5" ry="4.3" fill="#ddd6ea" stroke="#d4cce4" stroke-width="0.6" transform="rotate(57 1860.1 1307.9)"/>
<ellipse cx="1871.1" cy="1307.5" rx="4.4" ry="3.5" fill="#ddd6ea" stroke="#d4cce4" stroke-width="0.6" transform="rotate(142 1871.1 1307.5)"/>
<ellipse cx="1890.2" cy="1309.7" rx="5.4" ry="3.7" fill="#e0d9ec" stroke="#d4cce4" stroke-width="0.6" transform="rotate(18 1890.2 1309.7)"/>
<ellipse cx="1902.8" cy="1310" rx="5.2" ry="4.4" fill="#dad3e8" stroke="#d4cce4" stroke-width="0.6" transform="rotate(131 1902.8 1310)"/>
<ellipse cx="1912.1" cy="1309.3" rx="4.2" ry="4.1" fill="#ddd6ea" stroke="#d4cce4" stroke-width="0.6" transform="rotate(102 1912.1 1309.3)"/>
<ellipse cx="1931.6" cy="1308" rx="5.3" ry="3.1" fill="#dad3e8" stroke="#d4cce4" stroke-width="0.6" transform="rotate(43 1931.6 1308)"/>
<ellipse cx="1739" cy="1317.9" rx="4" ry="4" fill="#dad3e8" stroke="#d4cce4" stroke-width="0.6" transform="rotate(41 1739 1317.9)"/>
<ellipse cx="1759.3" cy="1317.8" rx="5.3" ry="4.4" fill="#e0d9ec" stroke="#d4cce4" stroke-width="0.6" transform="rotate(85 1759.3 1317.8)"/>
<ellipse cx="1782.2" cy="1315.6" rx="4.3" ry="4.2" fill="#ddd6ea" stroke="#d4cce4" stroke-width="0.6" transform="rotate(161 1782.2 1315.6)"/>
<ellipse cx="1804.7" cy="1316.3" rx="4.8" ry="3.3" fill="#ddd6ea" stroke="#d4cce4" stroke-width="0.6" transform="rotate(158 1804.7 1316.3)"/>
<ellipse cx="1811.8" cy="1319.4" rx="5.3" ry="3.5" fill="#e0d9ec" stroke="#d4cce4" stroke-width="0.6" transform="rotate(75 1811.8 1319.4)"/>
<ellipse cx="1825.5" cy="1319.2" rx="4.5" ry="3.3" fill="#ddd6ea" stroke="#d4cce4" stroke-width="0.6" transform="rotate(155 1825.5 1319.2)"/>
<ellipse cx="1832.2" cy="1316.2" rx="4.2" ry="4" fill="#dad3e8" stroke="#d4cce4" stroke-width="0.6" transform="rotate(142 1832.2 1316.2)"/>
<ellipse cx="1844.4" cy="1315.9" rx="4.6" ry="4.4" fill="#e0d9ec" stroke="#d4cce4" stroke-width="0.6" transform="rotate(161 1844.4 1315.9)"/>
<ellipse cx="1853.6" cy="1318.5" rx="3.9" ry="4.4" fill="#ddd6ea" stroke="#d4cce4" stroke-width="0.6" transform="rotate(79 1853.6 1318.5)"/>
<ellipse cx="1863" cy="1318.3" rx="4.3" ry="3.4" fill="#ddd6ea" stroke="#d4cce4" stroke-width="0.6" transform="rotate(144 1863 1318.3)"/>
<ellipse cx="1884.7" cy="1316.2" rx="5" ry="3.1" fill="#e0d9ec" stroke="#d4cce4" stroke-width="0.6" transform="rotate(142 1884.7 1316.2)"/>
<ellipse cx="1894.4" cy="1317.6" rx="5" ry="3.6" fill="#e3dcee" stroke="#d4cce4" stroke-width="0.6" transform="rotate(167 1894.4 1317.6)"/>
<ellipse cx="1930.3" cy="1316.9" rx="4.6" ry="3.1" fill="#e0d9ec" stroke="#d4cce4" stroke-width="0.6" transform="rotate(52 1930.3 1316.9)"/>
<ellipse cx="1940.1" cy="1315.8" rx="4.5" ry="4" fill="#dad3e8" stroke="#d4cce4" stroke-width="0.6" transform="rotate(98 1940.1 1315.8)"/>
<ellipse cx="1950.7" cy="1316.5" rx="4.6" ry="3.4" fill="#e3dcee" stroke="#d4cce4" stroke-width="0.6" transform="rotate(104 1950.7 1316.5)"/>
<ellipse cx="1742.3" cy="1327.5" rx="5.2" ry="3.5" fill="#e3dcee" stroke="#d4cce4" stroke-width="0.6" transform="rotate(109 1742.3 1327.5)"/>
<ellipse cx="1755" cy="1328.9" rx="5.2" ry="3.1" fill="#e0d9ec" stroke="#d4cce4" stroke-width="0.6" transform="rotate(20 1755 1328.9)"/>
<ellipse cx="1765.7" cy="1329.2" rx="4.2" ry="3.3" fill="#ddd6ea" stroke="#d4cce4" stroke-width="0.6" transform="rotate(55 1765.7 1329.2)"/>
<ellipse cx="1777.6" cy="1328.9" rx="5" ry="4.1" fill="#e0d9ec" stroke="#d4cce4" stroke-width="0.6" transform="rotate(89 1777.6 1328.9)"/>
<ellipse cx="1785.2" cy="1327.7" rx="4.9" ry="3.9" fill="#dad3e8" stroke="#d4cce4" stroke-width="0.6" transform="rotate(81 1785.2 1327.7)"/>
<ellipse cx="1796.3" cy="1326.3" rx="5.4" ry="3.2" fill="#e0d9ec" stroke="#d4cce4" stroke-width="0.6" transform="rotate(88 1796.3 1326.3)"/>
<ellipse cx="1819.2" cy="1325.4" rx="4.2" ry="4.3" fill="#e3dcee" stroke="#d4cce4" stroke-width="0.6" transform="rotate(25 1819.2 1325.4)"/>
<ellipse cx="1828.4" cy="1329.9" rx="5.4" ry="4" fill="#e0d9ec" stroke="#d4cce4" stroke-width="0.6" transform="rotate(129 1828.4 1329.9)"/>
<ellipse cx="1837.1" cy="1329.5" rx="4.5" ry="3.2" fill="#dad3e8" stroke="#d4cce4" stroke-width="0.6" transform="rotate(40 1837.1 1329.5)"/>
<ellipse cx="1851.9" cy="1328.3" rx="3.9" ry="3.6" fill="#ddd6ea" stroke="#d4cce4" stroke-width="0.6" transform="rotate(116 1851.9 1328.3)"/>
<ellipse cx="1860.3" cy="1329.8" rx="5.2" ry="4.3" fill="#e3dcee" stroke="#d4cce4" stroke-width="0.6" transform="rotate(31 1860.3 1329.8)"/>
<ellipse cx="1869.1" cy="1327.1" rx="3.9" ry="3.6" fill="#e0d9ec" stroke="#d4cce4" stroke-width="0.6" transform="rotate(44 1869.1 1327.1)"/>
<ellipse cx="1880.5" cy="1328.2" rx="5" ry="3.7" fill="#e0d9ec" stroke="#d4cce4" stroke-width="0.6" transform="rotate(88 1880.5 1328.2)"/>
<ellipse cx="1890" cy="1327.2" rx="3.9" ry="4" fill="#dad3e8" stroke="#d4cce4" stroke-width="0.6" transform="rotate(65 1890 1327.2)"/>
<ellipse cx="1902.1" cy="1329" rx="4.6" ry="3.8" fill="#e0d9ec" stroke="#d4cce4" stroke-width="0.6" transform="rotate(116 1902.1 1329)"/>
<ellipse cx="1921.3" cy="1329.9" rx="4.4" ry="4.1" fill="#ddd6ea" stroke="#d4cce4" stroke-width="0.6" transform="rotate(130 1921.3 1329.9)"/>
<ellipse cx="1943.4" cy="1325.7" rx="5.2" ry="3.5" fill="#ddd6ea" stroke="#d4cce4" stroke-width="0.6" transform="rotate(138 1943.4 1325.7)"/>
<ellipse cx="1955" cy="1327.7" rx="4.1" ry="3.8" fill="#e0d9ec" stroke="#d4cce4" stroke-width="0.6" transform="rotate(22 1955 1327.7)"/>
<ellipse cx="1738.9" cy="1337.9" rx="4" ry="4" fill="#e3dcee" stroke="#d4cce4" stroke-width="0.6" transform="rotate(46 1738.9 1337.9)"/>
<ellipse cx="1748" cy="1336.2" rx="4.2" ry="4" fill="#e3dcee" stroke="#d4cce4" stroke-width="0.6" transform="rotate(72 1748 1336.2)"/>
<ellipse cx="1759.5" cy="1335.7" rx="4.4" ry="3.9" fill="#ddd6ea" stroke="#d4cce4" stroke-width="0.6" transform="rotate(25 1759.5 1335.7)"/>
<ellipse cx="1770.7" cy="1335.3" rx="5" ry="4.1" fill="#ddd6ea" stroke="#d4cce4" stroke-width="0.6" transform="rotate(118 1770.7 1335.3)"/>
<ellipse cx="1779.8" cy="1338.7" rx="4.9" ry="4.3" fill="#e0d9ec" stroke="#d4cce4" stroke-width="0.6" transform="rotate(156 1779.8 1338.7)"/>
<ellipse cx="1790.5" cy="1339.2" rx="4" ry="3.7" fill="#dad3e8" stroke="#d4cce4" stroke-width="0.6" transform="rotate(88 1790.5 1339.2)"/>
<ellipse cx="1803.3" cy="1336.3" rx="5.3" ry="3.4" fill="#dad3e8" stroke="#d4cce4" stroke-width="0.6" transform="rotate(138 1803.3 1336.3)"/>
<ellipse cx="1811.4" cy="1335.7" rx="4.3" ry="3.6" fill="#dad3e8" stroke="#d4cce4" stroke-width="0.6" transform="rotate(27 1811.4 1335.7)"/>
<ellipse cx="1823.5" cy="1338.7" rx="3.8" ry="3.6" fill="#ddd6ea" stroke="#d4cce4" stroke-width="0.6" transform="rotate(65 1823.5 1338.7)"/>
<ellipse cx="1832.6" cy="1337.1" rx="5.2" ry="3.5" fill="#dad3e8" stroke="#d4cce4" stroke-width="0.6" transform="rotate(129 1832.6 1337.1)"/>
<ellipse cx="1864.6" cy="1336.7" rx="5.1" ry="4.3" fill="#e3dcee" stroke="#d4cce4" stroke-width="0.6" transform="rotate(115 1864.6 1336.7)"/>
<ellipse cx="1878" cy="1337" rx="4.7" ry="4.3" fill="#ddd6ea" stroke="#d4cce4" stroke-width="0.6" transform="rotate(138 1878 1337)"/>
<ellipse cx="1885.8" cy="1337.3" rx="4.2" ry="4.2" fill="#e3dcee" stroke="#d4cce4" stroke-width="0.6" transform="rotate(158 1885.8 1337.3)"/>
<ellipse cx="1896.2" cy="1339.2" rx="4.9" ry="3.5" fill="#e3dcee" stroke="#d4cce4" stroke-width="0.6" transform="rotate(89 1896.2 1339.2)"/>
<ellipse cx="1905.5" cy="1336.2" rx="4.2" ry="4" fill="#ddd6ea" stroke="#d4cce4" stroke-width="0.6" transform="rotate(42 1905.5 1336.2)"/>
<ellipse cx="1920.1" cy="1335.2" rx="4.7" ry="4.2" fill="#ddd6ea" stroke="#d4cce4" stroke-width="0.6" transform="rotate(137 1920.1 1335.2)"/>
<ellipse cx="1928.6" cy="1339.4" rx="5.4" ry="3.5" fill="#ddd6ea" stroke="#d4cce4" stroke-width="0.6" transform="rotate(62 1928.6 1339.4)"/>
<ellipse cx="1939.8" cy="1338.7" rx="4.9" ry="4.4" fill="#e0d9ec" stroke="#d4cce4" stroke-width="0.6" transform="rotate(148 1939.8 1338.7)"/>
<ellipse cx="1950.2" cy="1339.2" rx="4.3" ry="3.6" fill="#e3dcee" stroke="#d4cce4" stroke-width="0.6" transform="rotate(66 1950.2 1339.2)"/>
<ellipse cx="1742.9" cy="1347.8" rx="4" ry="3.2" fill="#ddd6ea" stroke="#d4cce4" stroke-width="0.6" transform="rotate(12 1742.9 1347.8)"/>
<ellipse cx="1754.1" cy="1349.4" rx="4.6" ry="4" fill="#e3dcee" stroke="#d4cce4" stroke-width="0.6" transform="rotate(7 1754.1 1349.4)"/>
<ellipse cx="1763.3" cy="1346.5" rx="4.6" ry="4.1" fill="#dad3e8" stroke="#d4cce4" stroke-width="0.6" transform="rotate(70 1763.3 1346.5)"/>
<ellipse cx="1776.9" cy="1346.1" rx="5.2" ry="3.4" fill="#e0d9ec" stroke="#d4cce4" stroke-width="0.6" transform="rotate(101 1776.9 1346.1)"/>
<ellipse cx="1786.1" cy="1348.7" rx="4.8" ry="4.2" fill="#e0d9ec" stroke="#d4cce4" stroke-width="0.6" transform="rotate(144 1786.1 1348.7)"/>
<ellipse cx="1806.5" cy="1348.5" rx="5.4" ry="3.7" fill="#e0d9ec" stroke="#d4cce4" stroke-width="0.6" transform="rotate(124 1806.5 1348.5)"/>
<ellipse cx="1848.9" cy="1348.6" rx="4" ry="3.3" fill="#ddd6ea" stroke="#d4cce4" stroke-width="0.6" transform="rotate(179 1848.9 1348.6)"/>
<ellipse cx="1870.7" cy="1349.2" rx="4.4" ry="4.3" fill="#e3dcee" stroke="#d4cce4" stroke-width="0.6" transform="rotate(149 1870.7 1349.2)"/>
<ellipse cx="1903.8" cy="1348.4" rx="4.2" ry="4" fill="#e0d9ec" stroke="#d4cce4" stroke-width="0.6" transform="rotate(73 1903.8 1348.4)"/>
<ellipse cx="1911.9" cy="1348.7" rx="4.7" ry="4.1" fill="#e0d9ec" stroke="#d4cce4" stroke-width="0.6" transform="rotate(26 1911.9 1348.7)"/>
<ellipse cx="1923.3" cy="1349.7" rx="5.2" ry="3.7" fill="#ddd6ea" stroke="#d4cce4" stroke-width="0.6" transform="rotate(27 1923.3 1349.7)"/>
<ellipse cx="1942.9" cy="1347.2" rx="4.3" ry="3.2" fill="#dad3e8" stroke="#d4cce4" stroke-width="0.6" transform="rotate(36 1942.9 1347.2)"/>
<ellipse cx="1952.8" cy="1345.2" rx="5" ry="4" fill="#dad3e8" stroke="#d4cce4" stroke-width="0.6" transform="rotate(0 1952.8 1345.2)"/>
<ellipse cx="1741.7" cy="1356.2" rx="5.2" ry="3.7" fill="#e3dcee" stroke="#d4cce4" stroke-width="0.6" transform="rotate(74 1741.7 1356.2)"/>
<ellipse cx="1748.3" cy="1358.3" rx="5.1" ry="3.4" fill="#dad3e8" stroke="#d4cce4" stroke-width="0.6" transform="rotate(33 1748.3 1358.3)"/>
<ellipse cx="1762.7" cy="1357.4" rx="5.1" ry="4" fill="#ddd6ea" stroke="#d4cce4" stroke-width="0.6" transform="rotate(31 1762.7 1357.4)"/>
<ellipse cx="1770.9" cy="1358.5" rx="4.2" ry="3.1" fill="#ddd6ea" stroke="#d4cce4" stroke-width="0.6" transform="rotate(100 1770.9 1358.5)"/>
<ellipse cx="1778.8" cy="1356.2" rx="5.3" ry="3.1" fill="#e0d9ec" stroke="#d4cce4" stroke-width="0.6" transform="rotate(94 1778.8 1356.2)"/>
<ellipse cx="1792.9" cy="1357.2" rx="5.1" ry="4.2" fill="#ddd6ea" stroke="#d4cce4" stroke-width="0.6" transform="rotate(138 1792.9 1357.2)"/>
<ellipse cx="1802.2" cy="1359.4" rx="4.5" ry="4.3" fill="#ddd6ea" stroke="#d4cce4" stroke-width="0.6" transform="rotate(112 1802.2 1359.4)"/>
<ellipse cx="1811.4" cy="1357.1" rx="4.4" ry="4" fill="#dad3e8" stroke="#d4cce4" stroke-width="0.6" transform="rotate(145 1811.4 1357.1)"/>
<ellipse cx="1823" cy="1356.7" rx="3.9" ry="3.9" fill="#dad3e8" stroke="#d4cce4" stroke-width="0.6" transform="rotate(106 1823 1356.7)"/>
<ellipse cx="1835" cy="1356.2" rx="5" ry="3.8" fill="#e0d9ec" stroke="#d4cce4" stroke-width="0.6" transform="rotate(122 1835 1356.2)"/>
<ellipse cx="1842.5" cy="1357" rx="4.1" ry="3.1" fill="#ddd6ea" stroke="#d4cce4" stroke-width="0.6" transform="rotate(71 1842.5 1357)"/>
<ellipse cx="1853.9" cy="1357.9" rx="5.3" ry="3.4" fill="#dad3e8" stroke="#d4cce4" stroke-width="0.6" transform="rotate(158 1853.9 1357.9)"/>
<ellipse cx="1876.1" cy="1356.8" rx="4.6" ry="4.3" fill="#e0d9ec" stroke="#d4cce4" stroke-width="0.6" transform="rotate(89 1876.1 1356.8)"/>
<ellipse cx="1884.1" cy="1357.1" rx="5.3" ry="4.2" fill="#ddd6ea" stroke="#d4cce4" stroke-width="0.6" transform="rotate(139 1884.1 1357.1)"/>
<ellipse cx="1906.6" cy="1358.4" rx="4.1" ry="3.9" fill="#e3dcee" stroke="#d4cce4" stroke-width="0.6" transform="rotate(159 1906.6 1358.4)"/>
<ellipse cx="1918.1" cy="1355.7" rx="5.1" ry="4" fill="#e3dcee" stroke="#d4cce4" stroke-width="0.6" transform="rotate(81 1918.1 1355.7)"/>
<ellipse cx="1927.7" cy="1356.3" rx="4.8" ry="3.8" fill="#ddd6ea" stroke="#d4cce4" stroke-width="0.6" transform="rotate(92 1927.7 1356.3)"/>
<ellipse cx="1938.5" cy="1356.6" rx="3.9" ry="3.2" fill="#e3dcee" stroke="#d4cce4" stroke-width="0.6" transform="rotate(58 1938.5 1356.6)"/>
<ellipse cx="1948" cy="1358.3" rx="4.1" ry="3.7" fill="#ddd6ea" stroke="#d4cce4" stroke-width="0.6" transform="rotate(99 1948 1358.3)"/>
<ellipse cx="1957.9" cy="1360.1" rx="4.6" ry="3.4" fill="#e0d9ec" stroke="#d4cce4" stroke-width="0.6" transform="rotate(151 1957.9 1360.1)"/>
<ellipse cx="1735.5" cy="1367.7" rx="5.4" ry="3.2" fill="#dad3e8" stroke="#d4cce4" stroke-width="0.6" transform="rotate(156 1735.5 1367.7)"/>
<ellipse cx="1754.8" cy="1367.8" rx="5.2" ry="3.4" fill="#e0d9ec" stroke="#d4cce4" stroke-width="0.6" transform="rotate(50 1754.8 1367.8)"/>
<ellipse cx="1777.4" cy="1367.6" rx="4.2" ry="4.1" fill="#ddd6ea" stroke="#d4cce4" stroke-width="0.6" transform="rotate(153 1777.4 1367.6)"/>
<ellipse cx="1784.8" cy="1367" rx="4" ry="3.1" fill="#e0d9ec" stroke="#d4cce4" stroke-width="0.6" transform="rotate(62 1784.8 1367)"/>
<ellipse cx="1795.1" cy="1366.1" rx="4.4" ry="4.2" fill="#e3dcee" stroke="#d4cce4" stroke-width="0.6" transform="rotate(111 1795.1 1366.1)"/>
<ellipse cx="1816.5" cy="1368.3" rx="5.2" ry="4" fill="#e3dcee" stroke="#d4cce4" stroke-width="0.6" transform="rotate(35 1816.5 1368.3)"/>
<ellipse cx="1830.1" cy="1368.6" rx="5.2" ry="4.3" fill="#e0d9ec" stroke="#d4cce4" stroke-width="0.6" transform="rotate(118 1830.1 1368.6)"/>
<ellipse cx="1837.4" cy="1365.8" rx="4.9" ry="3.7" fill="#ddd6ea" stroke="#d4cce4" stroke-width="0.6" transform="rotate(23 1837.4 1365.8)"/>
<ellipse cx="1860.6" cy="1366.7" rx="3.8" ry="3.2" fill="#dad3e8" stroke="#d4cce4" stroke-width="0.6" transform="rotate(37 1860.6 1366.7)"/>
<ellipse cx="1871.8" cy="1366.2" rx="3.9" ry="3.4" fill="#e3dcee" stroke="#d4cce4" stroke-width="0.6" transform="rotate(67 1871.8 1366.2)"/>
<ellipse cx="1922.6" cy="1367.6" rx="4" ry="3.3" fill="#ddd6ea" stroke="#d4cce4" stroke-width="0.6" transform="rotate(157 1922.6 1367.6)"/>
<ellipse cx="1933.3" cy="1369.8" rx="4.4" ry="4.1" fill="#e3dcee" stroke="#d4cce4" stroke-width="0.6" transform="rotate(108 1933.3 1369.8)"/>
<ellipse cx="1943.3" cy="1366.8" rx="4.7" ry="4" fill="#ddd6ea" stroke="#d4cce4" stroke-width="0.6" transform="rotate(48 1943.3 1366.8)"/>
<ellipse cx="1953.2" cy="1367.2" rx="4" ry="4.3" fill="#e3dcee" stroke="#d4cce4" stroke-width="0.6" transform="rotate(45 1953.2 1367.2)"/>
<ellipse cx="1761.6" cy="1375.6" rx="4.9" ry="3.7" fill="#dad3e8" stroke="#d4cce4" stroke-width="0.6" transform="rotate(37 1761.6 1375.6)"/>
<ellipse cx="1792.7" cy="1380.1" rx="5.1" ry="4.2" fill="#e0d9ec" stroke="#d4cce4" stroke-width="0.6" transform="rotate(120 1792.7 1380.1)"/>
<ellipse cx="1801.6" cy="1377.4" rx="4.3" ry="4" fill="#e0d9ec" stroke="#d4cce4" stroke-width="0.6" transform="rotate(108 1801.6 1377.4)"/>
<ellipse cx="1815.2" cy="1377.1" rx="5.1" ry="3.9" fill="#ddd6ea" stroke="#d4cce4" stroke-width="0.6" transform="rotate(126 1815.2 1377.1)"/>
<ellipse cx="1833.3" cy="1378.4" rx="4.1" ry="4.4" fill="#dad3e8" stroke="#d4cce4" stroke-width="0.6" transform="rotate(37 1833.3 1378.4)"/>
<ellipse cx="1844.3" cy="1375.6" rx="5.1" ry="3.1" fill="#dad3e8" stroke="#d4cce4" stroke-width="0.6" transform="rotate(172 1844.3 1375.6)"/>
<ellipse cx="1857.1" cy="1377.5" rx="5.2" ry="3.7" fill="#dad3e8" stroke="#d4cce4" stroke-width="0.6" transform="rotate(28 1857.1 1377.5)"/>
<ellipse cx="1867.5" cy="1379.6" rx="3.8" ry="3.6" fill="#ddd6ea" stroke="#d4cce4" stroke-width="0.6" transform="rotate(96 1867.5 1379.6)"/>
<ellipse cx="1873.7" cy="1380.1" rx="4.7" ry="3.2" fill="#ddd6ea" stroke="#d4cce4" stroke-width="0.6" transform="rotate(42 1873.7 1380.1)"/>
<ellipse cx="1885.3" cy="1376.9" rx="4.2" ry="3.9" fill="#e0d9ec" stroke="#d4cce4" stroke-width="0.6" transform="rotate(83 1885.3 1376.9)"/>
<ellipse cx="1895.1" cy="1375.6" rx="4" ry="4.3" fill="#e0d9ec" stroke="#d4cce4" stroke-width="0.6" transform="rotate(145 1895.1 1375.6)"/>
<ellipse cx="1916.1" cy="1378.2" rx="5.3" ry="4" fill="#ddd6ea" stroke="#d4cce4" stroke-width="0.6" transform="rotate(21 1916.1 1378.2)"/>
<ellipse cx="1936.8" cy="1378.8" rx="4.4" ry="3.5" fill="#e3dcee" stroke="#d4cce4" stroke-width="0.6" transform="rotate(111 1936.8 1378.8)"/>
<ellipse cx="1962.1" cy="1378.3" rx="5.2" ry="3.2" fill="#ddd6ea" stroke="#d4cce4" stroke-width="0.6" transform="rotate(74 1962.1 1378.3)"/>
<ellipse cx="1745.3" cy="1387.2" rx="5.2" ry="3.4" fill="#e0d9ec" stroke="#d4cce4" stroke-width="0.6" transform="rotate(178 1745.3 1387.2)"/>
<ellipse cx="1755" cy="1389.6" rx="4.4" ry="3.5" fill="#dad3e8" stroke="#d4cce4" stroke-width="0.6" transform="rotate(133 1755 1389.6)"/>
<ellipse cx="1785.9" cy="1388.3" rx="4.3" ry="3.3" fill="#ddd6ea" stroke="#d4cce4" stroke-width="0.6" transform="rotate(56 1785.9 1388.3)"/>
<ellipse cx="1806.6" cy="1389.2" rx="4.9" ry="4" fill="#dad3e8" stroke="#d4cce4" stroke-width="0.6" transform="rotate(5 1806.6 1389.2)"/>
<ellipse cx="1816.7" cy="1388.8" rx="4.6" ry="3.1" fill="#ddd6ea" stroke="#d4cce4" stroke-width="0.6" transform="rotate(73 1816.7 1388.8)"/>
<ellipse cx="1841.3" cy="1386.9" rx="4.8" ry="3.6" fill="#ddd6ea" stroke="#d4cce4" stroke-width="0.6" transform="rotate(54 1841.3 1386.9)"/>
<ellipse cx="1849.5" cy="1387.7" rx="5" ry="3.2" fill="#dad3e8" stroke="#d4cce4" stroke-width="0.6" transform="rotate(16 1849.5 1387.7)"/>
<ellipse cx="1861.5" cy="1389.8" rx="4.8" ry="3.6" fill="#ddd6ea" stroke="#d4cce4" stroke-width="0.6" transform="rotate(16 1861.5 1389.8)"/>
<ellipse cx="1882.7" cy="1386.7" rx="4.3" ry="4.2" fill="#dad3e8" stroke="#d4cce4" stroke-width="0.6" transform="rotate(141 1882.7 1386.7)"/>
<ellipse cx="1899.7" cy="1388.2" rx="4.7" ry="4.3" fill="#ddd6ea" stroke="#d4cce4" stroke-width="0.6" transform="rotate(114 1899.7 1388.2)"/>
<ellipse cx="1913.4" cy="1386.2" rx="4.7" ry="4.2" fill="#dad3e8" stroke="#d4cce4" stroke-width="0.6" transform="rotate(86 1913.4 1386.2)"/>
<ellipse cx="1925.4" cy="1389.7" rx="3.9" ry="4.1" fill="#e0d9ec" stroke="#d4cce4" stroke-width="0.6" transform="rotate(79 1925.4 1389.7)"/>
<ellipse cx="1933.2" cy="1387.3" rx="4" ry="3.5" fill="#ddd6ea" stroke="#d4cce4" stroke-width="0.6" transform="rotate(132 1933.2 1387.3)"/>
<ellipse cx="1946.3" cy="1386.9" rx="5.1" ry="4" fill="#e3dcee" stroke="#d4cce4" stroke-width="0.6" transform="rotate(126 1946.3 1386.9)"/>
<ellipse cx="1956.8" cy="1387.9" rx="5.3" ry="3.4" fill="#e0d9ec" stroke="#d4cce4" stroke-width="0.6" transform="rotate(74 1956.8 1387.9)"/>
<ellipse cx="1737.4" cy="1399.4" rx="4.6" ry="3.1" fill="#e3dcee" stroke="#d4cce4" stroke-width="0.6" transform="rotate(77 1737.4 1399.4)"/>
<ellipse cx="1760.2" cy="1397.3" rx="5.1" ry="3.8" fill="#e0d9ec" stroke="#d4cce4" stroke-width="0.6" transform="rotate(86 1760.2 1397.3)"/>
<ellipse cx="1769.9" cy="1395.1" rx="5.1" ry="3.9" fill="#e3dcee" stroke="#d4cce4" stroke-width="0.6" transform="rotate(67 1769.9 1395.1)"/>
<ellipse cx="1781.7" cy="1397.4" rx="5" ry="3.3" fill="#e3dcee" stroke="#d4cce4" stroke-width="0.6" transform="rotate(126 1781.7 1397.4)"/>
<ellipse cx="1792.7" cy="1396.2" rx="4.2" ry="4" fill="#dad3e8" stroke="#d4cce4" stroke-width="0.6" transform="rotate(103 1792.7 1396.2)"/>
<ellipse cx="1803.8" cy="1396.3" rx="4.2" ry="3.4" fill="#ddd6ea" stroke="#d4cce4" stroke-width="0.6" transform="rotate(163 1803.8 1396.3)"/>
<ellipse cx="1815.1" cy="1399.6" rx="4.5" ry="3.7" fill="#ddd6ea" stroke="#d4cce4" stroke-width="0.6" transform="rotate(41 1815.1 1399.6)"/>
<ellipse cx="1823.3" cy="1395.8" rx="5.4" ry="3.6" fill="#e3dcee" stroke="#d4cce4" stroke-width="0.6" transform="rotate(28 1823.3 1395.8)"/>
<ellipse cx="1832" cy="1399.8" rx="5" ry="4.1" fill="#e0d9ec" stroke="#d4cce4" stroke-width="0.6" transform="rotate(17 1832 1399.8)"/>
<ellipse cx="1865.8" cy="1395.7" rx="5" ry="3.9" fill="#dad3e8" stroke="#d4cce4" stroke-width="0.6" transform="rotate(161 1865.8 1395.7)"/>
<ellipse cx="1875.1" cy="1399.8" rx="4.9" ry="3.5" fill="#dad3e8" stroke="#d4cce4" stroke-width="0.6" transform="rotate(154 1875.1 1399.8)"/>
<ellipse cx="1895.1" cy="1399.5" rx="4.9" ry="3.5" fill="#dad3e8" stroke="#d4cce4" stroke-width="0.6" transform="rotate(100 1895.1 1399.5)"/>
<ellipse cx="1906.1" cy="1396.5" rx="4.2" ry="3.8" fill="#e0d9ec" stroke="#d4cce4" stroke-width="0.6" transform="rotate(157 1906.1 1396.5)"/>
<ellipse cx="1918" cy="1395.7" rx="3.9" ry="4.1" fill="#dad3e8" stroke="#d4cce4" stroke-width="0.6" transform="rotate(29 1918 1395.7)"/>
<ellipse cx="1927.9" cy="1399" rx="4.8" ry="3.8" fill="#dad3e8" stroke="#d4cce4" stroke-width="0.6" transform="rotate(86 1927.9 1399)"/>
<ellipse cx="1937.3" cy="1398.3" rx="4.2" ry="4" fill="#ddd6ea" stroke="#d4cce4" stroke-width="0.6" transform="rotate(159 1937.3 1398.3)"/>
<ellipse cx="1947.3" cy="1399.8" rx="4.9" ry="3.2" fill="#ddd6ea" stroke="#d4cce4" stroke-width="0.6" transform="rotate(162 1947.3 1399.8)"/>
<ellipse cx="1962.1" cy="1396.1" rx="4.4" ry="3.6" fill="#ddd6ea" stroke="#d4cce4" stroke-width="0.6" transform="rotate(25 1962.1 1396.1)"/>
<ellipse cx="1742.7" cy="1409.6" rx="5.4" ry="4.4" fill="#ddd6ea" stroke="#d4cce4" stroke-width="0.6" transform="rotate(165 1742.7 1409.6)"/>
<ellipse cx="1755.9" cy="1405.5" rx="4.9" ry="3.9" fill="#ddd6ea" stroke="#d4cce4" stroke-width="0.6" transform="rotate(166 1755.9 1405.5)"/>
<ellipse cx="1765.4" cy="1405.4" rx="4.6" ry="3.8" fill="#ddd6ea" stroke="#d4cce4" stroke-width="0.6" transform="rotate(175 1765.4 1405.4)"/>
<ellipse cx="1785.7" cy="1408.6" rx="5.3" ry="4.4" fill="#e0d9ec" stroke="#d4cce4" stroke-width="0.6" transform="rotate(170 1785.7 1408.6)"/>
<ellipse cx="1799.2" cy="1405.2" rx="4.6" ry="3.9" fill="#dad3e8" stroke="#d4cce4" stroke-width="0.6" transform="rotate(123 1799.2 1405.2)"/>
<ellipse cx="1805.4" cy="1407.6" rx="5.3" ry="3.1" fill="#dad3e8" stroke="#d4cce4" stroke-width="0.6" transform="rotate(20 1805.4 1407.6)"/>
<ellipse cx="1815.6" cy="1405.2" rx="5.1" ry="4" fill="#ddd6ea" stroke="#d4cce4" stroke-width="0.6" transform="rotate(93 1815.6 1405.2)"/>
<ellipse cx="1851.9" cy="1409.2" rx="4.5" ry="3.5" fill="#ddd6ea" stroke="#d4cce4" stroke-width="0.6" transform="rotate(62 1851.9 1409.2)"/>
<ellipse cx="1858.7" cy="1405.3" rx="4.4" ry="4" fill="#dad3e8" stroke="#d4cce4" stroke-width="0.6" transform="rotate(93 1858.7 1405.3)"/>
<ellipse cx="1869.2" cy="1409.5" rx="4.1" ry="3.3" fill="#e3dcee" stroke="#d4cce4" stroke-width="0.6" transform="rotate(45 1869.2 1409.5)"/>
<ellipse cx="1889.9" cy="1408.4" rx="4.8" ry="3.9" fill="#ddd6ea" stroke="#d4cce4" stroke-width="0.6" transform="rotate(103 1889.9 1408.4)"/>
<ellipse cx="1922.1" cy="1408.7" rx="4.9" ry="4.1" fill="#ddd6ea" stroke="#d4cce4" stroke-width="0.6" transform="rotate(97 1922.1 1408.7)"/>
<ellipse cx="1933.5" cy="1407.3" rx="3.9" ry="3.8" fill="#dad3e8" stroke="#d4cce4" stroke-width="0.6" transform="rotate(24 1933.5 1407.3)"/>
<ellipse cx="1741.7" cy="1417.1" rx="4.9" ry="3.4" fill="#e0d9ec" stroke="#d4cce4" stroke-width="0.6" transform="rotate(178 1741.7 1417.1)"/>
<ellipse cx="1748.7" cy="1418" rx="5" ry="3.7" fill="#ddd6ea" stroke="#d4cce4" stroke-width="0.6" transform="rotate(147 1748.7 1418)"/>
<ellipse cx="1780.9" cy="1415.8" rx="3.9" ry="3.3" fill="#e0d9ec" stroke="#d4cce4" stroke-width="0.6" transform="rotate(88 1780.9 1415.8)"/>
<ellipse cx="1791" cy="1419.7" rx="4" ry="4" fill="#e0d9ec" stroke="#d4cce4" stroke-width="0.6" transform="rotate(170 1791 1419.7)"/>
<ellipse cx="1811.4" cy="1419.3" rx="5.2" ry="4" fill="#ddd6ea" stroke="#d4cce4" stroke-width="0.6" transform="rotate(66 1811.4 1419.3)"/>
<ellipse cx="1821.5" cy="1419.4" rx="5.4" ry="4" fill="#ddd6ea" stroke="#d4cce4" stroke-width="0.6" transform="rotate(121 1821.5 1419.4)"/>
<ellipse cx="1832.2" cy="1415.6" rx="4.6" ry="3.8" fill="#dad3e8" stroke="#d4cce4" stroke-width="0.6" transform="rotate(102 1832.2 1415.6)"/>
<ellipse cx="1842.2" cy="1416.1" rx="3.9" ry="3.5" fill="#e0d9ec" stroke="#d4cce4" stroke-width="0.6" transform="rotate(136 1842.2 1416.1)"/>
<ellipse cx="1865.6" cy="1416.5" rx="5.1" ry="4.4" fill="#e3dcee" stroke="#d4cce4" stroke-width="0.6" transform="rotate(82 1865.6 1416.5)"/>
<ellipse cx="1874.2" cy="1419.7" rx="5.4" ry="3.1" fill="#e3dcee" stroke="#d4cce4" stroke-width="0.6" transform="rotate(137 1874.2 1419.7)"/>
<ellipse cx="1885.2" cy="1415.3" rx="4.4" ry="4.2" fill="#ddd6ea" stroke="#d4cce4" stroke-width="0.6" transform="rotate(173 1885.2 1415.3)"/>
<ellipse cx="1907.2" cy="1418.3" rx="4.5" ry="3.3" fill="#dad3e8" stroke="#d4cce4" stroke-width="0.6" transform="rotate(2 1907.2 1418.3)"/>
<ellipse cx="1916.9" cy="1419.3" rx="4.7" ry="4" fill="#dad3e8" stroke="#d4cce4" stroke-width="0.6" transform="rotate(45 1916.9 1419.3)"/>
<ellipse cx="1949.8" cy="1417.2" rx="4.7" ry="3.4" fill="#e3dcee" stroke="#d4cce4" stroke-width="0.6" transform="rotate(170 1949.8 1417.2)"/>
<ellipse cx="1735.8" cy="1429.4" rx="4.1" ry="3.8" fill="#dad3e8" stroke="#d4cce4" stroke-width="0.6" transform="rotate(177 1735.8 1429.4)"/>
<ellipse cx="1746.7" cy="1426.6" rx="4.7" ry="3.6" fill="#dad3e8" stroke="#d4cce4" stroke-width="0.6" transform="rotate(126 1746.7 1426.6)"/>
<ellipse cx="1753" cy="1428.4" rx="4.4" ry="3.8" fill="#e3dcee" stroke="#d4cce4" stroke-width="0.6" transform="rotate(89 1753 1428.4)"/>
<ellipse cx="1766.3" cy="1427" rx="4.6" ry="4.2" fill="#ddd6ea" stroke="#d4cce4" stroke-width="0.6" transform="rotate(102 1766.3 1427)"/>
<ellipse cx="1786.4" cy="1428.2" rx="5.4" ry="3.5" fill="#ddd6ea" stroke="#d4cce4" stroke-width="0.6" transform="rotate(79 1786.4 1428.2)"/>
<ellipse cx="1794.8" cy="1427.9" rx="4.4" ry="3.2" fill="#ddd6ea" stroke="#d4cce4" stroke-width="0.6" transform="rotate(35 1794.8 1427.9)"/>
<ellipse cx="1807.8" cy="1429.7" rx="4.6" ry="3.7" fill="#dad3e8" stroke="#d4cce4" stroke-width="0.6" transform="rotate(52 1807.8 1429.7)"/>
<ellipse cx="1818.7" cy="1428.4" rx="4.5" ry="3.5" fill="#e0d9ec" stroke="#d4cce4" stroke-width="0.6" transform="rotate(120 1818.7 1428.4)"/>
<ellipse cx="1830" cy="1428.6" rx="5.1" ry="4.1" fill="#e3dcee" stroke="#d4cce4" stroke-width="0.6" transform="rotate(31 1830 1428.6)"/>
<ellipse cx="1837.7" cy="1429.6" rx="3.8" ry="3.8" fill="#e3dcee" stroke="#d4cce4" stroke-width="0.6" transform="rotate(61 1837.7 1429.6)"/>
<ellipse cx="1850.2" cy="1425.3" rx="4.9" ry="3.2" fill="#e3dcee" stroke="#d4cce4" stroke-width="0.6" transform="rotate(176 1850.2 1425.3)"/>
<ellipse cx="1858.4" cy="1428.5" rx="5" ry="4.4" fill="#e0d9ec" stroke="#d4cce4" stroke-width="0.6" transform="rotate(112 1858.4 1428.5)"/>
<ellipse cx="1871.3" cy="1427.2" rx="4.5" ry="3.6" fill="#ddd6ea" stroke="#d4cce4" stroke-width="0.6" transform="rotate(135 1871.3 1427.2)"/>
<ellipse cx="1883.2" cy="1428.2" rx="4.6" ry="3.6" fill="#ddd6ea" stroke="#d4cce4" stroke-width="0.6" transform="rotate(63 1883.2 1428.2)"/>
<ellipse cx="1891.5" cy="1429.9" rx="4.2" ry="3.9" fill="#e0d9ec" stroke="#d4cce4" stroke-width="0.6" transform="rotate(21 1891.5 1429.9)"/>
<ellipse cx="1901.1" cy="1426.4" rx="4.1" ry="3.9" fill="#ddd6ea" stroke="#d4cce4" stroke-width="0.6" transform="rotate(123 1901.1 1426.4)"/>
<ellipse cx="1914.6" cy="1429.6" rx="4.3" ry="4.3" fill="#e3dcee" stroke="#d4cce4" stroke-width="0.6" transform="rotate(111 1914.6 1429.6)"/>
<ellipse cx="1922.2" cy="1426.4" rx="4.6" ry="3.7" fill="#ddd6ea" stroke="#d4cce4" stroke-width="0.6" transform="rotate(6 1922.2 1426.4)"/>
<ellipse cx="1934.7" cy="1426.2" rx="4.1" ry="3.9" fill="#dad3e8" stroke="#d4cce4" stroke-width="0.6" transform="rotate(43 1934.7 1426.2)"/>
<ellipse cx="1943.2" cy="1429.8" rx="4.3" ry="4.2" fill="#e3dcee" stroke="#d4cce4" stroke-width="0.6" transform="rotate(154 1943.2 1429.8)"/>
<ellipse cx="1825" cy="1309" rx="4.7" ry="4.1" fill="#a87040" fill-opacity="0.55" stroke="#a87040" stroke-width="1.9" opacity="0.95"/>
<ellipse cx="1829" cy="1313" rx="3" ry="2.6" fill="#9a6030" fill-opacity="0.55" stroke="#9a6030" stroke-width="1.2" opacity="0.95"/>
<ellipse cx="1822" cy="1306" rx="2.5" ry="2.2" fill="#b07848" fill-opacity="0.55" stroke="#b07848" stroke-width="1" opacity="0.95"/>
</g>
<clipPath id="ihc12"><rect x="1734" y="1486" width="210.6" height="208"/></clipPath>
<g clip-path="url(#ihc12)">
<rect x="1734" y="1486" width="210.6" height="208" fill="#f1e6ee"/>
<ellipse cx="1734.8" cy="1486.8" rx="4" ry="3.1" fill="#dad3e8" stroke="#d4cce4" stroke-width="0.6" transform="rotate(67 1734.8 1486.8)"/>
<ellipse cx="1744.3" cy="1487.8" rx="4.2" ry="3.1" fill="#e3dcee" stroke="#d4cce4" stroke-width="0.6" transform="rotate(112 1744.3 1487.8)"/>
<ellipse cx="1754.2" cy="1484.6" rx="4.7" ry="3.4" fill="#dad3e8" stroke="#d4cce4" stroke-width="0.6" transform="rotate(92 1754.2 1484.6)"/>
<ellipse cx="1767" cy="1483.9" rx="5.3" ry="4.2" fill="#e0d9ec" stroke="#d4cce4" stroke-width="0.6" transform="rotate(119 1767 1483.9)"/>
<ellipse cx="1788.7" cy="1484.1" rx="4.5" ry="3.3" fill="#e0d9ec" stroke="#d4cce4" stroke-width="0.6" transform="rotate(56 1788.7 1484.1)"/>
<ellipse cx="1798.9" cy="1486.3" rx="4.6" ry="3.2" fill="#e3dcee" stroke="#d4cce4" stroke-width="0.6" transform="rotate(109 1798.9 1486.3)"/>
<ellipse cx="1806.9" cy="1483.7" rx="5" ry="4.4" fill="#dad3e8" stroke="#d4cce4" stroke-width="0.6" transform="rotate(175 1806.9 1483.7)"/>
<ellipse cx="1817.3" cy="1487" rx="4.9" ry="3.2" fill="#dad3e8" stroke="#d4cce4" stroke-width="0.6" transform="rotate(42 1817.3 1487)"/>
<ellipse cx="1828.9" cy="1487.3" rx="4.1" ry="3.6" fill="#ddd6ea" stroke="#d4cce4" stroke-width="0.6" transform="rotate(154 1828.9 1487.3)"/>
<ellipse cx="1837.6" cy="1485.6" rx="4.4" ry="4.1" fill="#e0d9ec" stroke="#d4cce4" stroke-width="0.6" transform="rotate(18 1837.6 1485.6)"/>
<ellipse cx="1857.7" cy="1484.9" rx="4.4" ry="3.9" fill="#e3dcee" stroke="#d4cce4" stroke-width="0.6" transform="rotate(9 1857.7 1484.9)"/>
<ellipse cx="1869.7" cy="1485.8" rx="4.9" ry="4.2" fill="#e0d9ec" stroke="#d4cce4" stroke-width="0.6" transform="rotate(43 1869.7 1485.8)"/>
<ellipse cx="1881.2" cy="1484.4" rx="5" ry="3.4" fill="#dad3e8" stroke="#d4cce4" stroke-width="0.6" transform="rotate(109 1881.2 1484.4)"/>
<ellipse cx="1893" cy="1484.4" rx="5.1" ry="3.8" fill="#ddd6ea" stroke="#d4cce4" stroke-width="0.6" transform="rotate(44 1893 1484.4)"/>
<ellipse cx="1904.5" cy="1486" rx="3.8" ry="3.5" fill="#dad3e8" stroke="#d4cce4" stroke-width="0.6" transform="rotate(141 1904.5 1486)"/>
<ellipse cx="1911.1" cy="1486.1" rx="4.6" ry="3.9" fill="#e3dcee" stroke="#d4cce4" stroke-width="0.6" transform="rotate(47 1911.1 1486.1)"/>
<ellipse cx="1921.3" cy="1485" rx="5.2" ry="3.5" fill="#e3dcee" stroke="#d4cce4" stroke-width="0.6" transform="rotate(169 1921.3 1485)"/>
<ellipse cx="1932.1" cy="1484.9" rx="4.2" ry="4" fill="#e0d9ec" stroke="#d4cce4" stroke-width="0.6" transform="rotate(124 1932.1 1484.9)"/>
<ellipse cx="1942.8" cy="1484.2" rx="4.1" ry="3.7" fill="#dad3e8" stroke="#d4cce4" stroke-width="0.6" transform="rotate(10 1942.8 1484.2)"/>
<ellipse cx="1954.1" cy="1486.4" rx="5.2" ry="4.1" fill="#dad3e8" stroke="#d4cce4" stroke-width="0.6" transform="rotate(104 1954.1 1486.4)"/>
<ellipse cx="1739.9" cy="1495.4" rx="4.1" ry="4" fill="#ddd6ea" stroke="#d4cce4" stroke-width="0.6" transform="rotate(27 1739.9 1495.4)"/>
<ellipse cx="1751.7" cy="1498" rx="4.7" ry="4.1" fill="#ddd6ea" stroke="#d4cce4" stroke-width="0.6" transform="rotate(68 1751.7 1498)"/>
<ellipse cx="1758.7" cy="1494.8" rx="5.1" ry="4" fill="#ddd6ea" stroke="#d4cce4" stroke-width="0.6" transform="rotate(88 1758.7 1494.8)"/>
<ellipse cx="1782.1" cy="1496.4" rx="3.9" ry="3.6" fill="#dad3e8" stroke="#d4cce4" stroke-width="0.6" transform="rotate(14 1782.1 1496.4)"/>
<ellipse cx="1813.7" cy="1497.3" rx="4.9" ry="4.3" fill="#ddd6ea" stroke="#d4cce4" stroke-width="0.6" transform="rotate(65 1813.7 1497.3)"/>
<ellipse cx="1833.7" cy="1493.8" rx="4.8" ry="3.7" fill="#ddd6ea" stroke="#d4cce4" stroke-width="0.6" transform="rotate(159 1833.7 1493.8)"/>
<ellipse cx="1841.8" cy="1495.3" rx="4.2" ry="3.4" fill="#e0d9ec" stroke="#d4cce4" stroke-width="0.6" transform="rotate(77 1841.8 1495.3)"/>
<ellipse cx="1853" cy="1498" rx="4.3" ry="3.8" fill="#e0d9ec" stroke="#d4cce4" stroke-width="0.6" transform="rotate(69 1853 1498)"/>
<ellipse cx="1866.7" cy="1493.7" rx="5" ry="3.6" fill="#e3dcee" stroke="#d4cce4" stroke-width="0.6" transform="rotate(125 1866.7 1493.7)"/>
<ellipse cx="1875.4" cy="1493.7" rx="4" ry="3.8" fill="#ddd6ea" stroke="#d4cce4" stroke-width="0.6" transform="rotate(56 1875.4 1493.7)"/>
<ellipse cx="1886.2" cy="1495.3" rx="4.3" ry="3.3" fill="#e0d9ec" stroke="#d4cce4" stroke-width="0.6" transform="rotate(40 1886.2 1495.3)"/>
<ellipse cx="1916.7" cy="1498.2" rx="4.8" ry="3.6" fill="#dad3e8" stroke="#d4cce4" stroke-width="0.6" transform="rotate(157 1916.7 1498.2)"/>
<ellipse cx="1961.2" cy="1495.4" rx="4.5" ry="4" fill="#e3dcee" stroke="#d4cce4" stroke-width="0.6" transform="rotate(61 1961.2 1495.4)"/>
<ellipse cx="1736.2" cy="1507.5" rx="4.1" ry="4.1" fill="#ddd6ea" stroke="#d4cce4" stroke-width="0.6" transform="rotate(150 1736.2 1507.5)"/>
<ellipse cx="1744.6" cy="1503.7" rx="5.1" ry="4.2" fill="#dad3e8" stroke="#d4cce4" stroke-width="0.6" transform="rotate(147 1744.6 1503.7)"/>
<ellipse cx="1757.1" cy="1507.3" rx="5.2" ry="3.5" fill="#ddd6ea" stroke="#d4cce4" stroke-width="0.6" transform="rotate(157 1757.1 1507.3)"/>
<ellipse cx="1763.2" cy="1507.5" rx="4.1" ry="3.4" fill="#e0d9ec" stroke="#d4cce4" stroke-width="0.6" transform="rotate(145 1763.2 1507.5)"/>
<ellipse cx="1777.4" cy="1506.2" rx="3.8" ry="4.3" fill="#e3dcee" stroke="#d4cce4" stroke-width="0.6" transform="rotate(65 1777.4 1506.2)"/>
<ellipse cx="1786.2" cy="1506.1" rx="4.8" ry="4.1" fill="#dad3e8" stroke="#d4cce4" stroke-width="0.6" transform="rotate(90 1786.2 1506.1)"/>
<ellipse cx="1797.7" cy="1505.4" rx="4.5" ry="3.8" fill="#dad3e8" stroke="#d4cce4" stroke-width="0.6" transform="rotate(128 1797.7 1505.4)"/>
<ellipse cx="1827.8" cy="1504" rx="5.1" ry="4.1" fill="#dad3e8" stroke="#d4cce4" stroke-width="0.6" transform="rotate(98 1827.8 1504)"/>
<ellipse cx="1840.7" cy="1504.1" rx="3.9" ry="3.2" fill="#ddd6ea" stroke="#d4cce4" stroke-width="0.6" transform="rotate(15 1840.7 1504.1)"/>
<ellipse cx="1851.7" cy="1503.6" rx="4.9" ry="3.8" fill="#ddd6ea" stroke="#d4cce4" stroke-width="0.6" transform="rotate(166 1851.7 1503.6)"/>
<ellipse cx="1860.4" cy="1507.5" rx="4.8" ry="3.7" fill="#dad3e8" stroke="#d4cce4" stroke-width="0.6" transform="rotate(60 1860.4 1507.5)"/>
<ellipse cx="1870" cy="1506.7" rx="4.3" ry="3.2" fill="#dad3e8" stroke="#d4cce4" stroke-width="0.6" transform="rotate(143 1870 1506.7)"/>
<ellipse cx="1900.2" cy="1504.8" rx="4.1" ry="3.3" fill="#dad3e8" stroke="#d4cce4" stroke-width="0.6" transform="rotate(78 1900.2 1504.8)"/>
<ellipse cx="1913.8" cy="1505.1" rx="4.4" ry="4.2" fill="#e3dcee" stroke="#d4cce4" stroke-width="0.6" transform="rotate(178 1913.8 1505.1)"/>
<ellipse cx="1924.9" cy="1506.6" rx="4.8" ry="3.2" fill="#dad3e8" stroke="#d4cce4" stroke-width="0.6" transform="rotate(61 1924.9 1506.6)"/>
<ellipse cx="1931.6" cy="1506.2" rx="5.3" ry="4.1" fill="#e3dcee" stroke="#d4cce4" stroke-width="0.6" transform="rotate(45 1931.6 1506.2)"/>
<ellipse cx="1942.1" cy="1506.4" rx="4.6" ry="3.6" fill="#dad3e8" stroke="#d4cce4" stroke-width="0.6" transform="rotate(28 1942.1 1506.4)"/>
<ellipse cx="1953.5" cy="1505.2" rx="5.4" ry="3.5" fill="#e3dcee" stroke="#d4cce4" stroke-width="0.6" transform="rotate(90 1953.5 1505.2)"/>
<ellipse cx="1751.7" cy="1518.1" rx="4.8" ry="3.9" fill="#e0d9ec" stroke="#d4cce4" stroke-width="0.6" transform="rotate(154 1751.7 1518.1)"/>
<ellipse cx="1759.4" cy="1516.7" rx="4.4" ry="3.8" fill="#ddd6ea" stroke="#d4cce4" stroke-width="0.6" transform="rotate(116 1759.4 1516.7)"/>
<ellipse cx="1770.9" cy="1517.8" rx="4.1" ry="3.7" fill="#dad3e8" stroke="#d4cce4" stroke-width="0.6" transform="rotate(16 1770.9 1517.8)"/>
<ellipse cx="1790.7" cy="1517.6" rx="4.2" ry="3.4" fill="#e0d9ec" stroke="#d4cce4" stroke-width="0.6" transform="rotate(114 1790.7 1517.6)"/>
<ellipse cx="1802.1" cy="1518.2" rx="4.5" ry="4.3" fill="#e3dcee" stroke="#d4cce4" stroke-width="0.6" transform="rotate(70 1802.1 1518.2)"/>
<ellipse cx="1811.6" cy="1517.9" rx="4.1" ry="3.9" fill="#e3dcee" stroke="#d4cce4" stroke-width="0.6" transform="rotate(141 1811.6 1517.9)"/>
<ellipse cx="1824.1" cy="1516.5" rx="4.9" ry="3.6" fill="#ddd6ea" stroke="#d4cce4" stroke-width="0.6" transform="rotate(55 1824.1 1516.5)"/>
<ellipse cx="1843.2" cy="1516.8" rx="4.3" ry="3.7" fill="#e3dcee" stroke="#d4cce4" stroke-width="0.6" transform="rotate(124 1843.2 1516.8)"/>
<ellipse cx="1853.1" cy="1515.5" rx="5.1" ry="3.3" fill="#dad3e8" stroke="#d4cce4" stroke-width="0.6" transform="rotate(81 1853.1 1515.5)"/>
<ellipse cx="1886.5" cy="1516" rx="4.3" ry="3.2" fill="#e0d9ec" stroke="#d4cce4" stroke-width="0.6" transform="rotate(34 1886.5 1516)"/>
<ellipse cx="1896.9" cy="1514.7" rx="5.3" ry="4.2" fill="#e0d9ec" stroke="#d4cce4" stroke-width="0.6" transform="rotate(141 1896.9 1514.7)"/>
<ellipse cx="1908.6" cy="1516.2" rx="5.1" ry="3.4" fill="#e3dcee" stroke="#d4cce4" stroke-width="0.6" transform="rotate(96 1908.6 1516.2)"/>
<ellipse cx="1926.7" cy="1517.6" rx="5.1" ry="3.9" fill="#ddd6ea" stroke="#d4cce4" stroke-width="0.6" transform="rotate(78 1926.7 1517.6)"/>
<ellipse cx="1938.2" cy="1517.6" rx="3.9" ry="3.8" fill="#e3dcee" stroke="#d4cce4" stroke-width="0.6" transform="rotate(163 1938.2 1517.6)"/>
<ellipse cx="1951" cy="1517.9" rx="4.7" ry="3.8" fill="#dad3e8" stroke="#d4cce4" stroke-width="0.6" transform="rotate(152 1951 1517.9)"/>
<ellipse cx="1958" cy="1515.1" rx="3.9" ry="4" fill="#dad3e8" stroke="#d4cce4" stroke-width="0.6" transform="rotate(49 1958 1515.1)"/>
<ellipse cx="1746" cy="1527.1" rx="4.6" ry="4.1" fill="#dad3e8" stroke="#d4cce4" stroke-width="0.6" transform="rotate(121 1746 1527.1)"/>
<ellipse cx="1754.3" cy="1524.8" rx="3.9" ry="3.3" fill="#e0d9ec" stroke="#d4cce4" stroke-width="0.6" transform="rotate(7 1754.3 1524.8)"/>
<ellipse cx="1786.5" cy="1524.2" rx="4.7" ry="4.3" fill="#e0d9ec" stroke="#d4cce4" stroke-width="0.6" transform="rotate(63 1786.5 1524.2)"/>
<ellipse cx="1794.6" cy="1524.1" rx="4.5" ry="3.7" fill="#e0d9ec" stroke="#d4cce4" stroke-width="0.6" transform="rotate(58 1794.6 1524.1)"/>
<ellipse cx="1808.8" cy="1524.8" rx="5" ry="3.7" fill="#ddd6ea" stroke="#d4cce4" stroke-width="0.6" transform="rotate(30 1808.8 1524.8)"/>
<ellipse cx="1817.3" cy="1524.9" rx="4.8" ry="3.6" fill="#ddd6ea" stroke="#d4cce4" stroke-width="0.6" transform="rotate(64 1817.3 1524.9)"/>
<ellipse cx="1828.7" cy="1526" rx="5.4" ry="4.3" fill="#dad3e8" stroke="#d4cce4" stroke-width="0.6" transform="rotate(53 1828.7 1526)"/>
<ellipse cx="1851.6" cy="1524.6" rx="4.7" ry="4.1" fill="#ddd6ea" stroke="#d4cce4" stroke-width="0.6" transform="rotate(160 1851.6 1524.6)"/>
<ellipse cx="1871" cy="1527.1" rx="5.4" ry="4.4" fill="#dad3e8" stroke="#d4cce4" stroke-width="0.6" transform="rotate(61 1871 1527.1)"/>
<ellipse cx="1880.7" cy="1528" rx="4.3" ry="3.2" fill="#dad3e8" stroke="#d4cce4" stroke-width="0.6" transform="rotate(172 1880.7 1528)"/>
<ellipse cx="1891.4" cy="1524.4" rx="4.2" ry="3.2" fill="#e3dcee" stroke="#d4cce4" stroke-width="0.6" transform="rotate(16 1891.4 1524.4)"/>
<ellipse cx="1903.5" cy="1524.2" rx="4.1" ry="4.3" fill="#e3dcee" stroke="#d4cce4" stroke-width="0.6" transform="rotate(96 1903.5 1524.2)"/>
<ellipse cx="1914.9" cy="1527.6" rx="4.9" ry="3.9" fill="#e3dcee" stroke="#d4cce4" stroke-width="0.6" transform="rotate(30 1914.9 1527.6)"/>
<ellipse cx="1925.4" cy="1524" rx="4.8" ry="3.4" fill="#ddd6ea" stroke="#d4cce4" stroke-width="0.6" transform="rotate(46 1925.4 1524)"/>
<ellipse cx="1935.9" cy="1526.8" rx="4.6" ry="3.7" fill="#e0d9ec" stroke="#d4cce4" stroke-width="0.6" transform="rotate(70 1935.9 1526.8)"/>
<ellipse cx="1954.9" cy="1524.3" rx="4.7" ry="3.2" fill="#dad3e8" stroke="#d4cce4" stroke-width="0.6" transform="rotate(126 1954.9 1524.3)"/>
<ellipse cx="1740.1" cy="1533.6" rx="4.6" ry="4.2" fill="#e0d9ec" stroke="#d4cce4" stroke-width="0.6" transform="rotate(133 1740.1 1533.6)"/>
<ellipse cx="1771.3" cy="1536.8" rx="4.7" ry="3.3" fill="#e3dcee" stroke="#d4cce4" stroke-width="0.6" transform="rotate(175 1771.3 1536.8)"/>
<ellipse cx="1783.6" cy="1537.8" rx="4.6" ry="3.9" fill="#dad3e8" stroke="#d4cce4" stroke-width="0.6" transform="rotate(94 1783.6 1537.8)"/>
<ellipse cx="1802.5" cy="1538" rx="4.7" ry="3.8" fill="#ddd6ea" stroke="#d4cce4" stroke-width="0.6" transform="rotate(5 1802.5 1538)"/>
<ellipse cx="1812.9" cy="1538.2" rx="4.8" ry="4.1" fill="#ddd6ea" stroke="#d4cce4" stroke-width="0.6" transform="rotate(100 1812.9 1538.2)"/>
<ellipse cx="1820.8" cy="1534" rx="4.7" ry="3.6" fill="#ddd6ea" stroke="#d4cce4" stroke-width="0.6" transform="rotate(100 1820.8 1534)"/>
<ellipse cx="1835.9" cy="1537.6" rx="4.7" ry="3.2" fill="#dad3e8" stroke="#d4cce4" stroke-width="0.6" transform="rotate(31 1835.9 1537.6)"/>
<ellipse cx="1867" cy="1538.3" rx="3.8" ry="3.2" fill="#dad3e8" stroke="#d4cce4" stroke-width="0.6" transform="rotate(1 1867 1538.3)"/>
<ellipse cx="1884.3" cy="1536.7" rx="4.1" ry="3.9" fill="#e3dcee" stroke="#d4cce4" stroke-width="0.6" transform="rotate(133 1884.3 1536.7)"/>
<ellipse cx="1898.2" cy="1535.2" rx="4.2" ry="3.6" fill="#dad3e8" stroke="#d4cce4" stroke-width="0.6" transform="rotate(19 1898.2 1535.2)"/>
<ellipse cx="1919.7" cy="1534.7" rx="5" ry="3.7" fill="#ddd6ea" stroke="#d4cce4" stroke-width="0.6" transform="rotate(0 1919.7 1534.7)"/>
<ellipse cx="1926.5" cy="1535.6" rx="4.6" ry="3.8" fill="#e3dcee" stroke="#d4cce4" stroke-width="0.6" transform="rotate(154 1926.5 1535.6)"/>
<ellipse cx="1940.1" cy="1535.3" rx="3.9" ry="4.3" fill="#e3dcee" stroke="#d4cce4" stroke-width="0.6" transform="rotate(174 1940.1 1535.3)"/>
<ellipse cx="1961.5" cy="1535.6" rx="4.7" ry="4.4" fill="#ddd6ea" stroke="#d4cce4" stroke-width="0.6" transform="rotate(42 1961.5 1535.6)"/>
<ellipse cx="1733.1" cy="1545.3" rx="4.3" ry="4" fill="#e0d9ec" stroke="#d4cce4" stroke-width="0.6" transform="rotate(31 1733.1 1545.3)"/>
<ellipse cx="1744.1" cy="1543.7" rx="4.3" ry="3.6" fill="#dad3e8" stroke="#d4cce4" stroke-width="0.6" transform="rotate(57 1744.1 1543.7)"/>
<ellipse cx="1754" cy="1545.1" rx="4" ry="3.7" fill="#ddd6ea" stroke="#d4cce4" stroke-width="0.6" transform="rotate(47 1754 1545.1)"/>
<ellipse cx="1764" cy="1547.3" rx="5.4" ry="3.9" fill="#e0d9ec" stroke="#d4cce4" stroke-width="0.6" transform="rotate(1 1764 1547.3)"/>
<ellipse cx="1773.8" cy="1547.3" rx="4.8" ry="4" fill="#dad3e8" stroke="#d4cce4" stroke-width="0.6" transform="rotate(3 1773.8 1547.3)"/>
<ellipse cx="1784.4" cy="1544.4" rx="5.3" ry="3.9" fill="#ddd6ea" stroke="#d4cce4" stroke-width="0.6" transform="rotate(16 1784.4 1544.4)"/>
<ellipse cx="1797.3" cy="1547.5" rx="4.1" ry="3.9" fill="#dad3e8" stroke="#d4cce4" stroke-width="0.6" transform="rotate(129 1797.3 1547.5)"/>
<ellipse cx="1805.9" cy="1544.1" rx="4.5" ry="3.2" fill="#e3dcee" stroke="#d4cce4" stroke-width="0.6" transform="rotate(11 1805.9 1544.1)"/>
<ellipse cx="1827.2" cy="1544.9" rx="3.8" ry="3.5" fill="#e3dcee" stroke="#d4cce4" stroke-width="0.6" transform="rotate(98 1827.2 1544.9)"/>
<ellipse cx="1838.1" cy="1544" rx="4.6" ry="4.2" fill="#ddd6ea" stroke="#d4cce4" stroke-width="0.6" transform="rotate(18 1838.1 1544)"/>
<ellipse cx="1850.2" cy="1545.5" rx="5.1" ry="3.5" fill="#e3dcee" stroke="#d4cce4" stroke-width="0.6" transform="rotate(95 1850.2 1545.5)"/>
<ellipse cx="1860.4" cy="1546.1" rx="4.4" ry="3.9" fill="#e3dcee" stroke="#d4cce4" stroke-width="0.6" transform="rotate(105 1860.4 1546.1)"/>
<ellipse cx="1869.6" cy="1547" rx="4.2" ry="3.7" fill="#ddd6ea" stroke="#d4cce4" stroke-width="0.6" transform="rotate(94 1869.6 1547)"/>
<ellipse cx="1893.1" cy="1543.5" rx="4.6" ry="4.2" fill="#e0d9ec" stroke="#d4cce4" stroke-width="0.6" transform="rotate(116 1893.1 1543.5)"/>
<ellipse cx="1903" cy="1546.7" rx="4.1" ry="4.3" fill="#e3dcee" stroke="#d4cce4" stroke-width="0.6" transform="rotate(160 1903 1546.7)"/>
<ellipse cx="1910.9" cy="1545.5" rx="4.1" ry="4.3" fill="#e0d9ec" stroke="#d4cce4" stroke-width="0.6" transform="rotate(97 1910.9 1545.5)"/>
<ellipse cx="1921.8" cy="1546.9" rx="4.7" ry="3.7" fill="#e3dcee" stroke="#d4cce4" stroke-width="0.6" transform="rotate(112 1921.8 1546.9)"/>
<ellipse cx="1931.3" cy="1546.5" rx="4" ry="4" fill="#ddd6ea" stroke="#d4cce4" stroke-width="0.6" transform="rotate(94 1931.3 1546.5)"/>
<ellipse cx="1944.2" cy="1544.1" rx="4.1" ry="4.3" fill="#ddd6ea" stroke="#d4cce4" stroke-width="0.6" transform="rotate(11 1944.2 1544.1)"/>
<ellipse cx="1954.2" cy="1548.1" rx="4.8" ry="4.2" fill="#ddd6ea" stroke="#d4cce4" stroke-width="0.6" transform="rotate(168 1954.2 1548.1)"/>
<ellipse cx="1758.3" cy="1556.7" rx="4.8" ry="3.5" fill="#e3dcee" stroke="#d4cce4" stroke-width="0.6" transform="rotate(100 1758.3 1556.7)"/>
<ellipse cx="1790.3" cy="1555.8" rx="4.5" ry="4.1" fill="#e0d9ec" stroke="#d4cce4" stroke-width="0.6" transform="rotate(154 1790.3 1555.8)"/>
<ellipse cx="1802.5" cy="1553.8" rx="4.7" ry="3.7" fill="#e3dcee" stroke="#d4cce4" stroke-width="0.6" transform="rotate(136 1802.5 1553.8)"/>
<ellipse cx="1812.8" cy="1556.3" rx="4.7" ry="3.9" fill="#e0d9ec" stroke="#d4cce4" stroke-width="0.6" transform="rotate(78 1812.8 1556.3)"/>
<ellipse cx="1833.5" cy="1556.7" rx="5.1" ry="3.5" fill="#e3dcee" stroke="#d4cce4" stroke-width="0.6" transform="rotate(36 1833.5 1556.7)"/>
<ellipse cx="1845.8" cy="1553.8" rx="5.4" ry="4.2" fill="#dad3e8" stroke="#d4cce4" stroke-width="0.6" transform="rotate(92 1845.8 1553.8)"/>
<ellipse cx="1853" cy="1553.4" rx="5.3" ry="4.3" fill="#e3dcee" stroke="#d4cce4" stroke-width="0.6" transform="rotate(80 1853 1553.4)"/>
<ellipse cx="1876.4" cy="1553.4" rx="4.2" ry="4.1" fill="#e3dcee" stroke="#d4cce4" stroke-width="0.6" transform="rotate(164 1876.4 1553.4)"/>
<ellipse cx="1896.1" cy="1556.1" rx="5.1" ry="4.4" fill="#e3dcee" stroke="#d4cce4" stroke-width="0.6" transform="rotate(18 1896.1 1556.1)"/>
<ellipse cx="1908.6" cy="1557.9" rx="4.2" ry="4.3" fill="#dad3e8" stroke="#d4cce4" stroke-width="0.6" transform="rotate(102 1908.6 1557.9)"/>
<ellipse cx="1926.4" cy="1557.5" rx="4.4" ry="3.5" fill="#e0d9ec" stroke="#d4cce4" stroke-width="0.6" transform="rotate(129 1926.4 1557.5)"/>
<ellipse cx="1947.1" cy="1554.3" rx="4" ry="4.2" fill="#dad3e8" stroke="#d4cce4" stroke-width="0.6" transform="rotate(75 1947.1 1554.3)"/>
<ellipse cx="1957.8" cy="1556.2" rx="5.3" ry="3.4" fill="#e0d9ec" stroke="#d4cce4" stroke-width="0.6" transform="rotate(86 1957.8 1556.2)"/>
<ellipse cx="1733.1" cy="1565.4" rx="5.2" ry="4" fill="#e0d9ec" stroke="#d4cce4" stroke-width="0.6" transform="rotate(31 1733.1 1565.4)"/>
<ellipse cx="1745" cy="1567.8" rx="4.2" ry="3.5" fill="#dad3e8" stroke="#d4cce4" stroke-width="0.6" transform="rotate(155 1745 1567.8)"/>
<ellipse cx="1753.8" cy="1567.7" rx="5.2" ry="3.8" fill="#e0d9ec" stroke="#d4cce4" stroke-width="0.6" transform="rotate(93 1753.8 1567.7)"/>
<ellipse cx="1773.6" cy="1566.2" rx="5" ry="3.8" fill="#ddd6ea" stroke="#d4cce4" stroke-width="0.6" transform="rotate(113 1773.6 1566.2)"/>
<ellipse cx="1789" cy="1564.2" rx="4.6" ry="3.9" fill="#ddd6ea" stroke="#d4cce4" stroke-width="0.6" transform="rotate(117 1789 1564.2)"/>
<ellipse cx="1798.6" cy="1567.4" rx="4.5" ry="4" fill="#dad3e8" stroke="#d4cce4" stroke-width="0.6" transform="rotate(74 1798.6 1567.4)"/>
<ellipse cx="1807.3" cy="1564.8" rx="5.2" ry="3.9" fill="#ddd6ea" stroke="#d4cce4" stroke-width="0.6" transform="rotate(110 1807.3 1564.8)"/>
<ellipse cx="1816.4" cy="1566.5" rx="4.5" ry="3.5" fill="#e0d9ec" stroke="#d4cce4" stroke-width="0.6" transform="rotate(92 1816.4 1566.5)"/>
<ellipse cx="1828.7" cy="1568.1" rx="5.1" ry="3.3" fill="#dad3e8" stroke="#d4cce4" stroke-width="0.6" transform="rotate(121 1828.7 1568.1)"/>
<ellipse cx="1839" cy="1565.5" rx="4" ry="3.5" fill="#e3dcee" stroke="#d4cce4" stroke-width="0.6" transform="rotate(106 1839 1565.5)"/>
<ellipse cx="1861.6" cy="1567.6" rx="5.1" ry="4" fill="#ddd6ea" stroke="#d4cce4" stroke-width="0.6" transform="rotate(89 1861.6 1567.6)"/>
<ellipse cx="1880.9" cy="1567.8" rx="4.4" ry="4" fill="#dad3e8" stroke="#d4cce4" stroke-width="0.6" transform="rotate(93 1880.9 1567.8)"/>
<ellipse cx="1889.8" cy="1567.6" rx="4.5" ry="3.8" fill="#e0d9ec" stroke="#d4cce4" stroke-width="0.6" transform="rotate(159 1889.8 1567.6)"/>
<ellipse cx="1903.8" cy="1566.2" rx="4.4" ry="4.2" fill="#e3dcee" stroke="#d4cce4" stroke-width="0.6" transform="rotate(166 1903.8 1566.2)"/>
<ellipse cx="1914.6" cy="1567.7" rx="5" ry="3.6" fill="#ddd6ea" stroke="#d4cce4" stroke-width="0.6" transform="rotate(148 1914.6 1567.7)"/>
<ellipse cx="1924.3" cy="1566.8" rx="4.4" ry="3.9" fill="#e0d9ec" stroke="#d4cce4" stroke-width="0.6" transform="rotate(165 1924.3 1566.8)"/>
<ellipse cx="1737.9" cy="1575.8" rx="5.1" ry="3.2" fill="#e0d9ec" stroke="#d4cce4" stroke-width="0.6" transform="rotate(87 1737.9 1575.8)"/>
<ellipse cx="1751.4" cy="1576.7" rx="5" ry="3.1" fill="#ddd6ea" stroke="#d4cce4" stroke-width="0.6" transform="rotate(178 1751.4 1576.7)"/>
<ellipse cx="1759.6" cy="1574.2" rx="3.8" ry="4" fill="#ddd6ea" stroke="#d4cce4" stroke-width="0.6" transform="rotate(161 1759.6 1574.2)"/>
<ellipse cx="1768.4" cy="1575" rx="4.8" ry="3.7" fill="#e3dcee" stroke="#d4cce4" stroke-width="0.6" transform="rotate(3 1768.4 1575)"/>
<ellipse cx="1780.9" cy="1577.6" rx="4.2" ry="3.3" fill="#e3dcee" stroke="#d4cce4" stroke-width="0.6" transform="rotate(5 1780.9 1577.6)"/>
<ellipse cx="1792.4" cy="1577.3" rx="4.4" ry="4.3" fill="#e0d9ec" stroke="#d4cce4" stroke-width="0.6" transform="rotate(177 1792.4 1577.3)"/>
<ellipse cx="1801.6" cy="1575" rx="5.2" ry="4.2" fill="#ddd6ea" stroke="#d4cce4" stroke-width="0.6" transform="rotate(106 1801.6 1575)"/>
<ellipse cx="1811.3" cy="1574.6" rx="4.3" ry="3.2" fill="#ddd6ea" stroke="#d4cce4" stroke-width="0.6" transform="rotate(50 1811.3 1574.6)"/>
<ellipse cx="1824.6" cy="1576.2" rx="4" ry="4.4" fill="#e3dcee" stroke="#d4cce4" stroke-width="0.6" transform="rotate(3 1824.6 1576.2)"/>
<ellipse cx="1834.6" cy="1576.2" rx="4.2" ry="4.4" fill="#e0d9ec" stroke="#d4cce4" stroke-width="0.6" transform="rotate(149 1834.6 1576.2)"/>
<ellipse cx="1854.6" cy="1576.4" rx="5.1" ry="3.8" fill="#e0d9ec" stroke="#d4cce4" stroke-width="0.6" transform="rotate(76 1854.6 1576.4)"/>
<ellipse cx="1864.4" cy="1573.5" rx="5" ry="4.1" fill="#ddd6ea" stroke="#d4cce4" stroke-width="0.6" transform="rotate(160 1864.4 1573.5)"/>
<ellipse cx="1875.4" cy="1577.2" rx="4.8" ry="3.1" fill="#dad3e8" stroke="#d4cce4" stroke-width="0.6" transform="rotate(101 1875.4 1577.2)"/>
<ellipse cx="1885.1" cy="1576.9" rx="3.9" ry="4.3" fill="#dad3e8" stroke="#d4cce4" stroke-width="0.6" transform="rotate(40 1885.1 1576.9)"/>
<ellipse cx="1896.3" cy="1575.3" rx="4.8" ry="3.9" fill="#ddd6ea" stroke="#d4cce4" stroke-width="0.6" transform="rotate(18 1896.3 1575.3)"/>
<ellipse cx="1907.2" cy="1577.6" rx="3.9" ry="3.5" fill="#ddd6ea" stroke="#d4cce4" stroke-width="0.6" transform="rotate(150 1907.2 1577.6)"/>
<ellipse cx="1930.7" cy="1578.2" rx="4.3" ry="4.1" fill="#ddd6ea" stroke="#d4cce4" stroke-width="0.6" transform="rotate(59 1930.7 1578.2)"/>
<ellipse cx="1940" cy="1575.6" rx="4.1" ry="4.4" fill="#e3dcee" stroke="#d4cce4" stroke-width="0.6" transform="rotate(61 1940 1575.6)"/>
<ellipse cx="1947.6" cy="1573.4" rx="4.1" ry="3.9" fill="#ddd6ea" stroke="#d4cce4" stroke-width="0.6" transform="rotate(19 1947.6 1573.4)"/>
<ellipse cx="1960.7" cy="1573.7" rx="4.5" ry="3.7" fill="#ddd6ea" stroke="#d4cce4" stroke-width="0.6" transform="rotate(167 1960.7 1573.7)"/>
<ellipse cx="1744" cy="1587.5" rx="3.9" ry="4.2" fill="#e0d9ec" stroke="#d4cce4" stroke-width="0.6" transform="rotate(17 1744 1587.5)"/>
<ellipse cx="1756.3" cy="1585.8" rx="4.9" ry="4" fill="#e0d9ec" stroke="#d4cce4" stroke-width="0.6" transform="rotate(26 1756.3 1585.8)"/>
<ellipse cx="1764.8" cy="1586.1" rx="4.4" ry="3.6" fill="#ddd6ea" stroke="#d4cce4" stroke-width="0.6" transform="rotate(94 1764.8 1586.1)"/>
<ellipse cx="1784.6" cy="1585.7" rx="4.6" ry="3.4" fill="#e3dcee" stroke="#d4cce4" stroke-width="0.6" transform="rotate(58 1784.6 1585.7)"/>
<ellipse cx="1798.5" cy="1587.5" rx="4.6" ry="4.2" fill="#ddd6ea" stroke="#d4cce4" stroke-width="0.6" transform="rotate(42 1798.5 1587.5)"/>
<ellipse cx="1806.1" cy="1585.9" rx="5.2" ry="3.5" fill="#ddd6ea" stroke="#d4cce4" stroke-width="0.6" transform="rotate(61 1806.1 1585.9)"/>
<ellipse cx="1818.4" cy="1583.4" rx="4.4" ry="3.4" fill="#e3dcee" stroke="#d4cce4" stroke-width="0.6" transform="rotate(164 1818.4 1583.4)"/>
<ellipse cx="1840.4" cy="1585.6" rx="4.8" ry="4" fill="#dad3e8" stroke="#d4cce4" stroke-width="0.6" transform="rotate(32 1840.4 1585.6)"/>
<ellipse cx="1847.5" cy="1588.1" rx="4.7" ry="4.4" fill="#e3dcee" stroke="#d4cce4" stroke-width="0.6" transform="rotate(52 1847.5 1588.1)"/>
<ellipse cx="1859.3" cy="1587.4" rx="4.6" ry="4.2" fill="#dad3e8" stroke="#d4cce4" stroke-width="0.6" transform="rotate(132 1859.3 1587.4)"/>
<ellipse cx="1872.5" cy="1584.7" rx="4.3" ry="3.8" fill="#e0d9ec" stroke="#d4cce4" stroke-width="0.6" transform="rotate(115 1872.5 1584.7)"/>
<ellipse cx="1901" cy="1584" rx="4.7" ry="3.6" fill="#e0d9ec" stroke="#d4cce4" stroke-width="0.6" transform="rotate(133 1901 1584)"/>
<ellipse cx="1912.9" cy="1587.6" rx="4.6" ry="3.7" fill="#e3dcee" stroke="#d4cce4" stroke-width="0.6" transform="rotate(153 1912.9 1587.6)"/>
<ellipse cx="1933.7" cy="1583.9" rx="4.8" ry="3.6" fill="#e3dcee" stroke="#d4cce4" stroke-width="0.6" transform="rotate(54 1933.7 1583.9)"/>
<ellipse cx="1943.7" cy="1584.5" rx="4.6" ry="3.9" fill="#ddd6ea" stroke="#d4cce4" stroke-width="0.6" transform="rotate(136 1943.7 1584.5)"/>
<ellipse cx="1750" cy="1595.8" rx="4" ry="4.1" fill="#dad3e8" stroke="#d4cce4" stroke-width="0.6" transform="rotate(148 1750 1595.8)"/>
<ellipse cx="1770.8" cy="1594.6" rx="4.1" ry="3.3" fill="#e0d9ec" stroke="#d4cce4" stroke-width="0.6" transform="rotate(59 1770.8 1594.6)"/>
<ellipse cx="1779.7" cy="1597.1" rx="5.2" ry="3.3" fill="#ddd6ea" stroke="#d4cce4" stroke-width="0.6" transform="rotate(26 1779.7 1597.1)"/>
<ellipse cx="1792.8" cy="1597.9" rx="4.6" ry="3.4" fill="#e0d9ec" stroke="#d4cce4" stroke-width="0.6" transform="rotate(132 1792.8 1597.9)"/>
<ellipse cx="1803.6" cy="1594" rx="4" ry="3.8" fill="#e3dcee" stroke="#d4cce4" stroke-width="0.6" transform="rotate(29 1803.6 1594)"/>
<ellipse cx="1833.5" cy="1594.2" rx="4.9" ry="3.3" fill="#dad3e8" stroke="#d4cce4" stroke-width="0.6" transform="rotate(167 1833.5 1594.2)"/>
<ellipse cx="1841.9" cy="1593.6" rx="4.7" ry="3.6" fill="#e3dcee" stroke="#d4cce4" stroke-width="0.6" transform="rotate(140 1841.9 1593.6)"/>
<ellipse cx="1857" cy="1597.1" rx="4" ry="3.9" fill="#e0d9ec" stroke="#d4cce4" stroke-width="0.6" transform="rotate(5 1857 1597.1)"/>
<ellipse cx="1866.5" cy="1596.5" rx="4.2" ry="3.6" fill="#ddd6ea" stroke="#d4cce4" stroke-width="0.6" transform="rotate(146 1866.5 1596.5)"/>
<ellipse cx="1877.8" cy="1596.7" rx="4.9" ry="4.3" fill="#e3dcee" stroke="#d4cce4" stroke-width="0.6" transform="rotate(2 1877.8 1596.7)"/>
<ellipse cx="1896.1" cy="1593.9" rx="5.3" ry="3.4" fill="#dad3e8" stroke="#d4cce4" stroke-width="0.6" transform="rotate(83 1896.1 1593.9)"/>
<ellipse cx="1919.4" cy="1596.5" rx="4.3" ry="3.7" fill="#ddd6ea" stroke="#d4cce4" stroke-width="0.6" transform="rotate(5 1919.4 1596.5)"/>
<ellipse cx="1928.4" cy="1596.9" rx="4.5" ry="3.6" fill="#ddd6ea" stroke="#d4cce4" stroke-width="0.6" transform="rotate(5 1928.4 1596.9)"/>
<ellipse cx="1939.8" cy="1594.3" rx="4.8" ry="4" fill="#e3dcee" stroke="#d4cce4" stroke-width="0.6" transform="rotate(50 1939.8 1594.3)"/>
<ellipse cx="1951.5" cy="1597.4" rx="4.7" ry="3.3" fill="#dad3e8" stroke="#d4cce4" stroke-width="0.6" transform="rotate(104 1951.5 1597.4)"/>
<ellipse cx="1962.2" cy="1597.6" rx="3.9" ry="4.3" fill="#ddd6ea" stroke="#d4cce4" stroke-width="0.6" transform="rotate(161 1962.2 1597.6)"/>
<ellipse cx="1733.3" cy="1604.9" rx="5.2" ry="4.2" fill="#e3dcee" stroke="#d4cce4" stroke-width="0.6" transform="rotate(110 1733.3 1604.9)"/>
<ellipse cx="1746.5" cy="1604.3" rx="4.5" ry="3.5" fill="#e0d9ec" stroke="#d4cce4" stroke-width="0.6" transform="rotate(106 1746.5 1604.3)"/>
<ellipse cx="1756.6" cy="1605.8" rx="4" ry="3.2" fill="#e0d9ec" stroke="#d4cce4" stroke-width="0.6" transform="rotate(12 1756.6 1605.8)"/>
<ellipse cx="1766.5" cy="1606.8" rx="4" ry="3.9" fill="#ddd6ea" stroke="#d4cce4" stroke-width="0.6" transform="rotate(1 1766.5 1606.8)"/>
<ellipse cx="1777.5" cy="1608" rx="5.2" ry="4.4" fill="#e0d9ec" stroke="#d4cce4" stroke-width="0.6" transform="rotate(12 1777.5 1608)"/>
<ellipse cx="1795.3" cy="1608.1" rx="5.3" ry="4.4" fill="#e0d9ec" stroke="#d4cce4" stroke-width="0.6" transform="rotate(111 1795.3 1608.1)"/>
<ellipse cx="1838.9" cy="1605.2" rx="4.6" ry="3.9" fill="#dad3e8" stroke="#d4cce4" stroke-width="0.6" transform="rotate(1 1838.9 1605.2)"/>
<ellipse cx="1857.7" cy="1604.4" rx="3.9" ry="3.4" fill="#dad3e8" stroke="#d4cce4" stroke-width="0.6" transform="rotate(95 1857.7 1604.4)"/>
<ellipse cx="1872.6" cy="1604.4" rx="5.3" ry="3.7" fill="#e0d9ec" stroke="#d4cce4" stroke-width="0.6" transform="rotate(119 1872.6 1604.4)"/>
<ellipse cx="1891.2" cy="1604.9" rx="5" ry="4.2" fill="#ddd6ea" stroke="#d4cce4" stroke-width="0.6" transform="rotate(119 1891.2 1604.9)"/>
<ellipse cx="1901.8" cy="1604.9" rx="5" ry="4.1" fill="#e0d9ec" stroke="#d4cce4" stroke-width="0.6" transform="rotate(49 1901.8 1604.9)"/>
<ellipse cx="1910.3" cy="1605" rx="4.5" ry="3.8" fill="#e0d9ec" stroke="#d4cce4" stroke-width="0.6" transform="rotate(33 1910.3 1605)"/>
<ellipse cx="1923.1" cy="1605.6" rx="4.7" ry="4" fill="#ddd6ea" stroke="#d4cce4" stroke-width="0.6" transform="rotate(19 1923.1 1605.6)"/>
<ellipse cx="1933.5" cy="1604" rx="4.1" ry="3.8" fill="#ddd6ea" stroke="#d4cce4" stroke-width="0.6" transform="rotate(47 1933.5 1604)"/>
<ellipse cx="1953.2" cy="1607.2" rx="4.6" ry="3.5" fill="#dad3e8" stroke="#d4cce4" stroke-width="0.6" transform="rotate(91 1953.2 1607.2)"/>
<ellipse cx="1741.5" cy="1616.3" rx="4.3" ry="3.4" fill="#ddd6ea" stroke="#d4cce4" stroke-width="0.6" transform="rotate(11 1741.5 1616.3)"/>
<ellipse cx="1750.1" cy="1615.4" rx="4.4" ry="4" fill="#e3dcee" stroke="#d4cce4" stroke-width="0.6" transform="rotate(29 1750.1 1615.4)"/>
<ellipse cx="1762" cy="1614.4" rx="5.1" ry="3.6" fill="#e3dcee" stroke="#d4cce4" stroke-width="0.6" transform="rotate(139 1762 1614.4)"/>
<ellipse cx="1773" cy="1613.7" rx="4" ry="3.4" fill="#e3dcee" stroke="#d4cce4" stroke-width="0.6" transform="rotate(27 1773 1613.7)"/>
<ellipse cx="1783.5" cy="1616.9" rx="5" ry="3.3" fill="#e0d9ec" stroke="#d4cce4" stroke-width="0.6" transform="rotate(67 1783.5 1616.9)"/>
<ellipse cx="1789.8" cy="1613.9" rx="4.6" ry="3.7" fill="#ddd6ea" stroke="#d4cce4" stroke-width="0.6" transform="rotate(10 1789.8 1613.9)"/>
<ellipse cx="1812.9" cy="1613.4" rx="5.3" ry="4.3" fill="#dad3e8" stroke="#d4cce4" stroke-width="0.6" transform="rotate(34 1812.9 1613.4)"/>
<ellipse cx="1835.1" cy="1617.9" rx="4.4" ry="4" fill="#ddd6ea" stroke="#d4cce4" stroke-width="0.6" transform="rotate(125 1835.1 1617.9)"/>
<ellipse cx="1844.9" cy="1615.4" rx="4.8" ry="4" fill="#dad3e8" stroke="#d4cce4" stroke-width="0.6" transform="rotate(87 1844.9 1615.4)"/>
<ellipse cx="1856.7" cy="1616.2" rx="3.8" ry="3.9" fill="#e3dcee" stroke="#d4cce4" stroke-width="0.6" transform="rotate(128 1856.7 1616.2)"/>
<ellipse cx="1863.1" cy="1617.3" rx="4.7" ry="3.7" fill="#e3dcee" stroke="#d4cce4" stroke-width="0.6" transform="rotate(156 1863.1 1617.3)"/>
<ellipse cx="1873.4" cy="1616.1" rx="4.2" ry="3.9" fill="#e0d9ec" stroke="#d4cce4" stroke-width="0.6" transform="rotate(17 1873.4 1616.1)"/>
<ellipse cx="1907.5" cy="1616.4" rx="4.8" ry="4.3" fill="#ddd6ea" stroke="#d4cce4" stroke-width="0.6" transform="rotate(148 1907.5 1616.4)"/>
<ellipse cx="1919.7" cy="1614.4" rx="4.2" ry="4.2" fill="#ddd6ea" stroke="#d4cce4" stroke-width="0.6" transform="rotate(72 1919.7 1614.4)"/>
<ellipse cx="1938.7" cy="1616.2" rx="3.8" ry="4.1" fill="#e0d9ec" stroke="#d4cce4" stroke-width="0.6" transform="rotate(15 1938.7 1616.2)"/>
<ellipse cx="1947.5" cy="1615.2" rx="4.7" ry="3.3" fill="#e0d9ec" stroke="#d4cce4" stroke-width="0.6" transform="rotate(156 1947.5 1615.2)"/>
<ellipse cx="1764" cy="1623.9" rx="4.6" ry="4.4" fill="#e0d9ec" stroke="#d4cce4" stroke-width="0.6" transform="rotate(86 1764 1623.9)"/>
<ellipse cx="1775.6" cy="1627.2" rx="4.2" ry="3.2" fill="#dad3e8" stroke="#d4cce4" stroke-width="0.6" transform="rotate(42 1775.6 1627.2)"/>
<ellipse cx="1796.6" cy="1626.2" rx="4.5" ry="3.4" fill="#ddd6ea" stroke="#d4cce4" stroke-width="0.6" transform="rotate(7 1796.6 1626.2)"/>
<ellipse cx="1805.7" cy="1624.1" rx="5" ry="3.8" fill="#e3dcee" stroke="#d4cce4" stroke-width="0.6" transform="rotate(151 1805.7 1624.1)"/>
<ellipse cx="1819.2" cy="1623.7" rx="4.7" ry="4.1" fill="#dad3e8" stroke="#d4cce4" stroke-width="0.6" transform="rotate(130 1819.2 1623.7)"/>
<ellipse cx="1826.1" cy="1627.9" rx="4.5" ry="3.5" fill="#e3dcee" stroke="#d4cce4" stroke-width="0.6" transform="rotate(158 1826.1 1627.9)"/>
<ellipse cx="1837.6" cy="1627.3" rx="4.8" ry="4.1" fill="#dad3e8" stroke="#d4cce4" stroke-width="0.6" transform="rotate(11 1837.6 1627.3)"/>
<ellipse cx="1848" cy="1624.8" rx="5.1" ry="3.2" fill="#e3dcee" stroke="#d4cce4" stroke-width="0.6" transform="rotate(164 1848 1624.8)"/>
<ellipse cx="1861.7" cy="1626.1" rx="4.4" ry="3.2" fill="#dad3e8" stroke="#d4cce4" stroke-width="0.6" transform="rotate(164 1861.7 1626.1)"/>
<ellipse cx="1869.4" cy="1628" rx="4.3" ry="3.3" fill="#e0d9ec" stroke="#d4cce4" stroke-width="0.6" transform="rotate(41 1869.4 1628)"/>
<ellipse cx="1879.8" cy="1626.5" rx="4.8" ry="4" fill="#e0d9ec" stroke="#d4cce4" stroke-width="0.6" transform="rotate(29 1879.8 1626.5)"/>
<ellipse cx="1914.5" cy="1626.6" rx="5.2" ry="4.2" fill="#dad3e8" stroke="#d4cce4" stroke-width="0.6" transform="rotate(120 1914.5 1626.6)"/>
<ellipse cx="1924.7" cy="1623.9" rx="4.3" ry="3.7" fill="#e3dcee" stroke="#d4cce4" stroke-width="0.6" transform="rotate(98 1924.7 1623.9)"/>
<ellipse cx="1934.2" cy="1624.2" rx="4.6" ry="3.8" fill="#ddd6ea" stroke="#d4cce4" stroke-width="0.6" transform="rotate(137 1934.2 1624.2)"/>
<ellipse cx="1942" cy="1625.1" rx="4.1" ry="4" fill="#dad3e8" stroke="#d4cce4" stroke-width="0.6" transform="rotate(82 1942 1625.1)"/>
<ellipse cx="1955.3" cy="1626.8" rx="4.7" ry="3.6" fill="#ddd6ea" stroke="#d4cce4" stroke-width="0.6" transform="rotate(3 1955.3 1626.8)"/>
<ellipse cx="1736.8" cy="1636.4" rx="4.3" ry="3.8" fill="#e0d9ec" stroke="#d4cce4" stroke-width="0.6" transform="rotate(30 1736.8 1636.4)"/>
<ellipse cx="1761.1" cy="1635.5" rx="5.4" ry="3.2" fill="#ddd6ea" stroke="#d4cce4" stroke-width="0.6" transform="rotate(112 1761.1 1635.5)"/>
<ellipse cx="1768.8" cy="1636.7" rx="4.1" ry="4.2" fill="#dad3e8" stroke="#d4cce4" stroke-width="0.6" transform="rotate(97 1768.8 1636.7)"/>
<ellipse cx="1780.5" cy="1637.7" rx="4.9" ry="3.7" fill="#e0d9ec" stroke="#d4cce4" stroke-width="0.6" transform="rotate(74 1780.5 1637.7)"/>
<ellipse cx="1790.6" cy="1633.9" rx="4.7" ry="4" fill="#ddd6ea" stroke="#d4cce4" stroke-width="0.6" transform="rotate(0 1790.6 1633.9)"/>
<ellipse cx="1814.3" cy="1634.6" rx="5.1" ry="3.2" fill="#ddd6ea" stroke="#d4cce4" stroke-width="0.6" transform="rotate(55 1814.3 1634.6)"/>
<ellipse cx="1822.1" cy="1637.3" rx="3.9" ry="3.8" fill="#ddd6ea" stroke="#d4cce4" stroke-width="0.6" transform="rotate(1 1822.1 1637.3)"/>
<ellipse cx="1832.6" cy="1633.4" rx="5.2" ry="4.3" fill="#ddd6ea" stroke="#d4cce4" stroke-width="0.6" transform="rotate(61 1832.6 1633.4)"/>
<ellipse cx="1853.1" cy="1633.8" rx="3.9" ry="4.3" fill="#ddd6ea" stroke="#d4cce4" stroke-width="0.6" transform="rotate(157 1853.1 1633.8)"/>
<ellipse cx="1866" cy="1634" rx="5.2" ry="3.6" fill="#dad3e8" stroke="#d4cce4" stroke-width="0.6" transform="rotate(36 1866 1634)"/>
<ellipse cx="1885.1" cy="1635.5" rx="5" ry="3.3" fill="#e3dcee" stroke="#d4cce4" stroke-width="0.6" transform="rotate(179 1885.1 1635.5)"/>
<ellipse cx="1898.6" cy="1635.6" rx="3.9" ry="3.3" fill="#dad3e8" stroke="#d4cce4" stroke-width="0.6" transform="rotate(16 1898.6 1635.6)"/>
<ellipse cx="1907.9" cy="1637.3" rx="4.2" ry="3.9" fill="#dad3e8" stroke="#d4cce4" stroke-width="0.6" transform="rotate(76 1907.9 1637.3)"/>
<ellipse cx="1918" cy="1635.1" rx="5.1" ry="3.9" fill="#dad3e8" stroke="#d4cce4" stroke-width="0.6" transform="rotate(128 1918 1635.1)"/>
<ellipse cx="1930" cy="1634.4" rx="4.8" ry="4.1" fill="#dad3e8" stroke="#d4cce4" stroke-width="0.6" transform="rotate(30 1930 1634.4)"/>
<ellipse cx="1937.4" cy="1638.1" rx="5.1" ry="4.1" fill="#e3dcee" stroke="#d4cce4" stroke-width="0.6" transform="rotate(148 1937.4 1638.1)"/>
<ellipse cx="1950.7" cy="1636.5" rx="3.8" ry="3.5" fill="#e3dcee" stroke="#d4cce4" stroke-width="0.6" transform="rotate(59 1950.7 1636.5)"/>
<ellipse cx="1733.6" cy="1643.6" rx="4.4" ry="3.5" fill="#dad3e8" stroke="#d4cce4" stroke-width="0.6" transform="rotate(120 1733.6 1643.6)"/>
<ellipse cx="1757.4" cy="1647" rx="4.7" ry="3.4" fill="#dad3e8" stroke="#d4cce4" stroke-width="0.6" transform="rotate(69 1757.4 1647)"/>
<ellipse cx="1777.9" cy="1645.6" rx="5.2" ry="3.5" fill="#e3dcee" stroke="#d4cce4" stroke-width="0.6" transform="rotate(11 1777.9 1645.6)"/>
<ellipse cx="1785.5" cy="1646.5" rx="5.4" ry="3.8" fill="#e0d9ec" stroke="#d4cce4" stroke-width="0.6" transform="rotate(92 1785.5 1646.5)"/>
<ellipse cx="1809.5" cy="1648" rx="3.8" ry="4.1" fill="#e3dcee" stroke="#d4cce4" stroke-width="0.6" transform="rotate(158 1809.5 1648)"/>
<ellipse cx="1827.8" cy="1646.6" rx="5" ry="4" fill="#e0d9ec" stroke="#d4cce4" stroke-width="0.6" transform="rotate(93 1827.8 1646.6)"/>
<ellipse cx="1838" cy="1645.6" rx="4.1" ry="3.6" fill="#dad3e8" stroke="#d4cce4" stroke-width="0.6" transform="rotate(156 1838 1645.6)"/>
<ellipse cx="1850" cy="1647.3" rx="4.8" ry="4.3" fill="#e0d9ec" stroke="#d4cce4" stroke-width="0.6" transform="rotate(35 1850 1647.3)"/>
<ellipse cx="1868.4" cy="1648.1" rx="4.9" ry="4" fill="#ddd6ea" stroke="#d4cce4" stroke-width="0.6" transform="rotate(83 1868.4 1648.1)"/>
<ellipse cx="1882.1" cy="1646" rx="4.5" ry="3.3" fill="#ddd6ea" stroke="#d4cce4" stroke-width="0.6" transform="rotate(15 1882.1 1646)"/>
<ellipse cx="1890.6" cy="1646.2" rx="4.6" ry="3.3" fill="#dad3e8" stroke="#d4cce4" stroke-width="0.6" transform="rotate(10 1890.6 1646.2)"/>
<ellipse cx="1904" cy="1646" rx="4.7" ry="4.3" fill="#dad3e8" stroke="#d4cce4" stroke-width="0.6" transform="rotate(52 1904 1646)"/>
<ellipse cx="1913.2" cy="1647.5" rx="4.5" ry="3.5" fill="#ddd6ea" stroke="#d4cce4" stroke-width="0.6" transform="rotate(138 1913.2 1647.5)"/>
<ellipse cx="1933.4" cy="1647.4" rx="4.2" ry="3.3" fill="#dad3e8" stroke="#d4cce4" stroke-width="0.6" transform="rotate(104 1933.4 1647.4)"/>
<ellipse cx="1942.4" cy="1647.4" rx="4.2" ry="3.5" fill="#dad3e8" stroke="#d4cce4" stroke-width="0.6" transform="rotate(30 1942.4 1647.4)"/>
<ellipse cx="1953.1" cy="1646.4" rx="4.5" ry="4.3" fill="#e0d9ec" stroke="#d4cce4" stroke-width="0.6" transform="rotate(107 1953.1 1646.4)"/>
<ellipse cx="1751.1" cy="1654.3" rx="4.9" ry="4" fill="#dad3e8" stroke="#d4cce4" stroke-width="0.6" transform="rotate(61 1751.1 1654.3)"/>
<ellipse cx="1762.7" cy="1654" rx="3.8" ry="3.3" fill="#dad3e8" stroke="#d4cce4" stroke-width="0.6" transform="rotate(29 1762.7 1654)"/>
<ellipse cx="1779.3" cy="1655.1" rx="3.9" ry="3.4" fill="#dad3e8" stroke="#d4cce4" stroke-width="0.6" transform="rotate(154 1779.3 1655.1)"/>
<ellipse cx="1792.3" cy="1653.9" rx="3.9" ry="3.8" fill="#ddd6ea" stroke="#d4cce4" stroke-width="0.6" transform="rotate(40 1792.3 1653.9)"/>
<ellipse cx="1804.1" cy="1653.1" rx="4.5" ry="3.8" fill="#e0d9ec" stroke="#d4cce4" stroke-width="0.6" transform="rotate(162 1804.1 1653.1)"/>
<ellipse cx="1814.7" cy="1656" rx="5.2" ry="4" fill="#ddd6ea" stroke="#d4cce4" stroke-width="0.6" transform="rotate(147 1814.7 1656)"/>
<ellipse cx="1824" cy="1655.2" rx="4.3" ry="3.9" fill="#e3dcee" stroke="#d4cce4" stroke-width="0.6" transform="rotate(79 1824 1655.2)"/>
<ellipse cx="1842.3" cy="1654.5" rx="4.2" ry="3.2" fill="#e0d9ec" stroke="#d4cce4" stroke-width="0.6" transform="rotate(169 1842.3 1654.5)"/>
<ellipse cx="1852.9" cy="1653.3" rx="4.5" ry="4.3" fill="#e3dcee" stroke="#d4cce4" stroke-width="0.6" transform="rotate(62 1852.9 1653.3)"/>
<ellipse cx="1873.8" cy="1657" rx="4.7" ry="4.1" fill="#ddd6ea" stroke="#d4cce4" stroke-width="0.6" transform="rotate(80 1873.8 1657)"/>
<ellipse cx="1887.1" cy="1654.4" rx="4" ry="4" fill="#e0d9ec" stroke="#d4cce4" stroke-width="0.6" transform="rotate(168 1887.1 1654.4)"/>
<ellipse cx="1927.7" cy="1654.6" rx="4.8" ry="3.7" fill="#ddd6ea" stroke="#d4cce4" stroke-width="0.6" transform="rotate(36 1927.7 1654.6)"/>
<ellipse cx="1937.2" cy="1653.8" rx="3.9" ry="4.1" fill="#e0d9ec" stroke="#d4cce4" stroke-width="0.6" transform="rotate(140 1937.2 1653.8)"/>
<ellipse cx="1946.9" cy="1653.2" rx="4" ry="3.5" fill="#ddd6ea" stroke="#d4cce4" stroke-width="0.6" transform="rotate(103 1946.9 1653.2)"/>
<ellipse cx="1732.5" cy="1667.1" rx="5" ry="4.3" fill="#dad3e8" stroke="#d4cce4" stroke-width="0.6" transform="rotate(171 1732.5 1667.1)"/>
<ellipse cx="1746.1" cy="1667.5" rx="4.3" ry="4.2" fill="#e0d9ec" stroke="#d4cce4" stroke-width="0.6" transform="rotate(102 1746.1 1667.5)"/>
<ellipse cx="1755.5" cy="1665.2" rx="4.2" ry="3.9" fill="#e3dcee" stroke="#d4cce4" stroke-width="0.6" transform="rotate(42 1755.5 1665.2)"/>
<ellipse cx="1765.5" cy="1665.9" rx="5" ry="3.4" fill="#dad3e8" stroke="#d4cce4" stroke-width="0.6" transform="rotate(160 1765.5 1665.9)"/>
<ellipse cx="1785.5" cy="1663.4" rx="4.3" ry="3.9" fill="#ddd6ea" stroke="#d4cce4" stroke-width="0.6" transform="rotate(57 1785.5 1663.4)"/>
<ellipse cx="1798.4" cy="1665.5" rx="5" ry="4.3" fill="#e0d9ec" stroke="#d4cce4" stroke-width="0.6" transform="rotate(179 1798.4 1665.5)"/>
<ellipse cx="1817.2" cy="1665.3" rx="5.2" ry="3.7" fill="#e0d9ec" stroke="#d4cce4" stroke-width="0.6" transform="rotate(59 1817.2 1665.3)"/>
<ellipse cx="1830.2" cy="1664.2" rx="4.8" ry="4.4" fill="#e0d9ec" stroke="#d4cce4" stroke-width="0.6" transform="rotate(150 1830.2 1664.2)"/>
<ellipse cx="1848.7" cy="1667.2" rx="4.7" ry="4.3" fill="#dad3e8" stroke="#d4cce4" stroke-width="0.6" transform="rotate(131 1848.7 1667.2)"/>
<ellipse cx="1860.1" cy="1663.6" rx="3.9" ry="4.3" fill="#ddd6ea" stroke="#d4cce4" stroke-width="0.6" transform="rotate(80 1860.1 1663.6)"/>
<ellipse cx="1872.4" cy="1667.4" rx="4.2" ry="4.3" fill="#dad3e8" stroke="#d4cce4" stroke-width="0.6" transform="rotate(62 1872.4 1667.4)"/>
<ellipse cx="1890" cy="1667.5" rx="3.8" ry="3.7" fill="#e3dcee" stroke="#d4cce4" stroke-width="0.6" transform="rotate(148 1890 1667.5)"/>
<ellipse cx="1899.5" cy="1664.6" rx="4.3" ry="3.9" fill="#e3dcee" stroke="#d4cce4" stroke-width="0.6" transform="rotate(4 1899.5 1664.6)"/>
<ellipse cx="1921.1" cy="1665.2" rx="4.8" ry="3.6" fill="#e0d9ec" stroke="#d4cce4" stroke-width="0.6" transform="rotate(136 1921.1 1665.2)"/>
<ellipse cx="1935" cy="1666.7" rx="3.9" ry="3.8" fill="#e3dcee" stroke="#d4cce4" stroke-width="0.6" transform="rotate(29 1935 1666.7)"/>
<ellipse cx="1952.2" cy="1666.1" rx="4.5" ry="3.6" fill="#e3dcee" stroke="#d4cce4" stroke-width="0.6" transform="rotate(146 1952.2 1666.1)"/>
<ellipse cx="1738.8" cy="1674.3" rx="4.8" ry="4" fill="#e3dcee" stroke="#d4cce4" stroke-width="0.6" transform="rotate(82 1738.8 1674.3)"/>
<ellipse cx="1748.3" cy="1677.1" rx="4.1" ry="3.6" fill="#ddd6ea" stroke="#d4cce4" stroke-width="0.6" transform="rotate(24 1748.3 1677.1)"/>
<ellipse cx="1769.6" cy="1673.3" rx="4.6" ry="3.4" fill="#e3dcee" stroke="#d4cce4" stroke-width="0.6" transform="rotate(60 1769.6 1673.3)"/>
<ellipse cx="1782" cy="1678" rx="4.2" ry="3.7" fill="#ddd6ea" stroke="#d4cce4" stroke-width="0.6" transform="rotate(60 1782 1678)"/>
<ellipse cx="1803.5" cy="1675.8" rx="4.5" ry="3.7" fill="#e0d9ec" stroke="#d4cce4" stroke-width="0.6" transform="rotate(35 1803.5 1675.8)"/>
<ellipse cx="1810.5" cy="1675.6" rx="4.4" ry="3.2" fill="#e0d9ec" stroke="#d4cce4" stroke-width="0.6" transform="rotate(54 1810.5 1675.6)"/>
<ellipse cx="1823.7" cy="1675" rx="5.3" ry="4.2" fill="#e0d9ec" stroke="#d4cce4" stroke-width="0.6" transform="rotate(72 1823.7 1675)"/>
<ellipse cx="1836.1" cy="1676.5" rx="4.2" ry="3.8" fill="#e3dcee" stroke="#d4cce4" stroke-width="0.6" transform="rotate(143 1836.1 1676.5)"/>
<ellipse cx="1854.9" cy="1677.1" rx="5.3" ry="4.2" fill="#e3dcee" stroke="#d4cce4" stroke-width="0.6" transform="rotate(29 1854.9 1677.1)"/>
<ellipse cx="1867.7" cy="1675" rx="4" ry="4.3" fill="#ddd6ea" stroke="#d4cce4" stroke-width="0.6" transform="rotate(157 1867.7 1675)"/>
<ellipse cx="1875.7" cy="1675.2" rx="3.9" ry="4.1" fill="#dad3e8" stroke="#d4cce4" stroke-width="0.6" transform="rotate(24 1875.7 1675.2)"/>
<ellipse cx="1885.2" cy="1673.3" rx="4.3" ry="3.2" fill="#dad3e8" stroke="#d4cce4" stroke-width="0.6" transform="rotate(9 1885.2 1673.3)"/>
<ellipse cx="1908.4" cy="1674.5" rx="4" ry="3.8" fill="#e3dcee" stroke="#d4cce4" stroke-width="0.6" transform="rotate(69 1908.4 1674.5)"/>
<ellipse cx="1926.1" cy="1673.7" rx="4.8" ry="3.1" fill="#dad3e8" stroke="#d4cce4" stroke-width="0.6" transform="rotate(138 1926.1 1673.7)"/>
<ellipse cx="1938.4" cy="1673.9" rx="4.5" ry="4" fill="#e0d9ec" stroke="#d4cce4" stroke-width="0.6" transform="rotate(153 1938.4 1673.9)"/>
<ellipse cx="1951.3" cy="1674.3" rx="5.4" ry="4" fill="#e0d9ec" stroke="#d4cce4" stroke-width="0.6" transform="rotate(144 1951.3 1674.3)"/>
<ellipse cx="1736.1" cy="1684.8" rx="5.1" ry="3.3" fill="#e3dcee" stroke="#d4cce4" stroke-width="0.6" transform="rotate(92 1736.1 1684.8)"/>
<ellipse cx="1745.5" cy="1685.9" rx="5.1" ry="3.7" fill="#e3dcee" stroke="#d4cce4" stroke-width="0.6" transform="rotate(138 1745.5 1685.9)"/>
<ellipse cx="1752.8" cy="1683.3" rx="4.5" ry="3.2" fill="#dad3e8" stroke="#d4cce4" stroke-width="0.6" transform="rotate(2 1752.8 1683.3)"/>
<ellipse cx="1767" cy="1683.8" rx="3.8" ry="4.4" fill="#e0d9ec" stroke="#d4cce4" stroke-width="0.6" transform="rotate(46 1767 1683.8)"/>
<ellipse cx="1774" cy="1683.5" rx="5" ry="3.7" fill="#e0d9ec" stroke="#d4cce4" stroke-width="0.6" transform="rotate(147 1774 1683.5)"/>
<ellipse cx="1788.3" cy="1685.5" rx="4.6" ry="4.4" fill="#e0d9ec" stroke="#d4cce4" stroke-width="0.6" transform="rotate(14 1788.3 1685.5)"/>
<ellipse cx="1797.8" cy="1685" rx="5.1" ry="3.9" fill="#dad3e8" stroke="#d4cce4" stroke-width="0.6" transform="rotate(147 1797.8 1685)"/>
<ellipse cx="1805.1" cy="1685.8" rx="5" ry="3.7" fill="#e3dcee" stroke="#d4cce4" stroke-width="0.6" transform="rotate(93 1805.1 1685.8)"/>
<ellipse cx="1817" cy="1684" rx="4.2" ry="4.3" fill="#e3dcee" stroke="#d4cce4" stroke-width="0.6" transform="rotate(45 1817 1684)"/>
<ellipse cx="1838.6" cy="1685" rx="4.1" ry="4" fill="#e3dcee" stroke="#d4cce4" stroke-width="0.6" transform="rotate(52 1838.6 1685)"/>
<ellipse cx="1847" cy="1683.5" rx="4.7" ry="4.2" fill="#dad3e8" stroke="#d4cce4" stroke-width="0.6" transform="rotate(139 1847 1683.5)"/>
<ellipse cx="1861.2" cy="1684.5" rx="5.3" ry="3.8" fill="#e0d9ec" stroke="#d4cce4" stroke-width="0.6" transform="rotate(0 1861.2 1684.5)"/>
<ellipse cx="1868.2" cy="1686.4" rx="4.4" ry="3.3" fill="#dad3e8" stroke="#d4cce4" stroke-width="0.6" transform="rotate(88 1868.2 1686.4)"/>
<ellipse cx="1883.2" cy="1685.3" rx="4" ry="4" fill="#dad3e8" stroke="#d4cce4" stroke-width="0.6" transform="rotate(72 1883.2 1685.3)"/>
<ellipse cx="1891.4" cy="1686.2" rx="4.9" ry="4.3" fill="#e3dcee" stroke="#d4cce4" stroke-width="0.6" transform="rotate(102 1891.4 1686.2)"/>
<ellipse cx="1904.1" cy="1684.8" rx="4.7" ry="3.1" fill="#e3dcee" stroke="#d4cce4" stroke-width="0.6" transform="rotate(21 1904.1 1684.8)"/>
<ellipse cx="1913.7" cy="1685.4" rx="4.9" ry="3.7" fill="#dad3e8" stroke="#d4cce4" stroke-width="0.6" transform="rotate(98 1913.7 1685.4)"/>
<ellipse cx="1922.1" cy="1684.8" rx="3.9" ry="4.4" fill="#e3dcee" stroke="#d4cce4" stroke-width="0.6" transform="rotate(166 1922.1 1684.8)"/>
<ellipse cx="1934.3" cy="1687.5" rx="4.5" ry="4.4" fill="#dad3e8" stroke="#d4cce4" stroke-width="0.6" transform="rotate(143 1934.3 1687.5)"/>
<ellipse cx="1942.9" cy="1684.8" rx="4.8" ry="3.5" fill="#dad3e8" stroke="#d4cce4" stroke-width="0.6" transform="rotate(175 1942.9 1684.8)"/>
<ellipse cx="1777" cy="1515" rx="4.2" ry="3.8" fill="#c08858" fill-opacity="0.55" stroke="#c08858" stroke-width="1.8" opacity="0.95"/>
<ellipse cx="1935" cy="1543.4" rx="4.2" ry="3.8" fill="#c08858" fill-opacity="0.55" stroke="#c08858" stroke-width="1.8" opacity="0.95"/>
<ellipse cx="1745" cy="1561.7" rx="4.2" ry="3.8" fill="#d0a080" fill-opacity="0.55" stroke="#d0a080" stroke-width="1.8" opacity="0.95"/>
<ellipse cx="1779.4" cy="1600.6" rx="4.7" ry="4.1" fill="#9a5a30" fill-opacity="0.55" stroke="#9a5a30" stroke-width="1.9" opacity="0.95"/>
<ellipse cx="1801" cy="1617.7" rx="6" ry="5.2" fill="#8a4a20" fill-opacity="0.55" stroke="#8a4a20" stroke-width="2.4" opacity="0.95"/>
<ellipse cx="1806" cy="1621" rx="4.2" ry="3.8" fill="#7a3a18" fill-opacity="0.55" stroke="#7a3a18" stroke-width="1.8" opacity="0.95"/>
<ellipse cx="1797" cy="1624" rx="3.4" ry="3" fill="#8a4a20" fill-opacity="0.55" stroke="#8a4a20" stroke-width="1.4" opacity="0.95"/>
<ellipse cx="1777" cy="1598" rx="3.4" ry="3" fill="#8a4a20" fill-opacity="0.55" stroke="#8a4a20" stroke-width="1.4" opacity="0.95"/>
<ellipse cx="1826.3" cy="1640.6" rx="3.8" ry="3.4" fill="#c09070" fill-opacity="0.55" stroke="#c09070" stroke-width="1.6" opacity="0.95"/>
<ellipse cx="1816" cy="1670.3" rx="3.8" ry="3.4" fill="#c09070" fill-opacity="0.55" stroke="#c09070" stroke-width="1.6" opacity="0.95"/>
<ellipse cx="1837.7" cy="1588" rx="3.4" ry="3" fill="#d0a880" fill-opacity="0.55" stroke="#d0a880" stroke-width="1.4" opacity="0.95"/>
<ellipse cx="1909.7" cy="1607.4" rx="3" ry="2.6" fill="#c08858" fill-opacity="0.55" stroke="#c08858" stroke-width="1.2" opacity="0.95"/>
<ellipse cx="1865" cy="1510" rx="3.4" ry="3" fill="#d0a080" fill-opacity="0.55" stroke="#d0a080" stroke-width="1.4" opacity="0.95"/>
<ellipse cx="1886.9" cy="1641.7" rx="3" ry="2.6" fill="#d0a880" fill-opacity="0.55" stroke="#d0a880" stroke-width="1.2" opacity="0.95"/>
<ellipse cx="1759" cy="1566" rx="2.1" ry="1.9" fill="#a06a40" fill-opacity="0.55" stroke="#a06a40" stroke-width="0.9" opacity="0.95"/>
<ellipse cx="1795" cy="1625" rx="3.4" ry="3" fill="#9a5a30" fill-opacity="0.55" stroke="#9a5a30" stroke-width="1.4" opacity="0.95"/>
<ellipse cx="1944" cy="1570" rx="3.4" ry="3" fill="#d0a880" fill-opacity="0.55" stroke="#d0a880" stroke-width="1.4" opacity="0.95"/>
<ellipse cx="1848" cy="1520" rx="2.1" ry="1.9" fill="#c08858" fill-opacity="0.55" stroke="#c08858" stroke-width="0.9" opacity="0.95"/>
</g>
<rect x="1740.2" y="1235.6" width="48.4" height="5" fill="#000"/>
<rect x="1740.2" y="1494.2" width="48.4" height="5" fill="#000"/>
<text x="1841.6" y="1467.6" text-anchor="middle">DMSO</text>
<text x="1840" y="1727" text-anchor="middle">5 mg/kg</text>
<text x="1840" y="1760.6" text-anchor="middle">Elesclomol</text>
<text x="-1" y="1853.4" style="font-size:41px" font-weight="bold">j</text>
<line x1="116.4" y1="1928" x2="116.4" y2="2263" stroke="#1c1c1c" stroke-width="2"/>
<line x1="107.4" y1="1928" x2="116.4" y2="1928" stroke="#1c1c1c" stroke-width="2"/>
<text x="95.9" y="1938.3" text-anchor="end">50</text>
<line x1="107.4" y1="1995.2" x2="116.4" y2="1995.2" stroke="#1c1c1c" stroke-width="2"/>
<text x="95.9" y="2005.5" text-anchor="end">40</text>
<line x1="107.4" y1="2062.3" x2="116.4" y2="2062.3" stroke="#1c1c1c" stroke-width="2"/>
<text x="95.9" y="2072.6" text-anchor="end">30</text>
<line x1="107.4" y1="2129.4" x2="116.4" y2="2129.4" stroke="#1c1c1c" stroke-width="2"/>
<text x="95.9" y="2139.7" text-anchor="end">20</text>
<line x1="107.4" y1="2195.9" x2="116.4" y2="2195.9" stroke="#1c1c1c" stroke-width="2"/>
<text x="95.9" y="2206.2" text-anchor="end">10</text>
<line x1="107.4" y1="2263" x2="116.4" y2="2263" stroke="#1c1c1c" stroke-width="2"/>
<text x="95.9" y="2273.3" text-anchor="end">0</text>
<line x1="107.4" y1="2263" x2="323.6" y2="2263" stroke="#1c1c1c" stroke-width="2"/>
<text x="117" y="1900.5">TC-32</text>
<text x="37.2" y="2095" text-anchor="middle" transform="rotate(-90 37.2 2095)">Necrotic tumor area (%)</text>
<line x1="167.6" y1="2069.5" x2="167.6" y2="2148.4" stroke="#888" stroke-width="1.3"/>
<line x1="151.5" y1="2069.5" x2="183.8" y2="2069.5" stroke="#888" stroke-width="1.3"/>
<line x1="151.5" y1="2148.4" x2="183.8" y2="2148.4" stroke="#888" stroke-width="1.3"/>
<circle cx="167.6" cy="2002.1" r="6.2" fill="#5e5e5e" stroke="#444" stroke-width="1"/>
<circle cx="167.6" cy="2028.2" r="6.2" fill="#5e5e5e" stroke="#444" stroke-width="1"/>
<circle cx="167.6" cy="2141.8" r="6.2" fill="#5e5e5e" stroke="#444" stroke-width="1"/>
<circle cx="167.6" cy="2175.9" r="6.2" fill="#5e5e5e" stroke="#444" stroke-width="1"/>
<circle cx="167.6" cy="2195.9" r="6.2" fill="#5e5e5e" stroke="#444" stroke-width="1"/>
<line x1="133.6" y1="2108.8" x2="201.4" y2="2108.8" stroke="#000" stroke-width="2.6"/>
<line x1="271.3" y1="2003.4" x2="271.3" y2="2050.6" stroke="#d0508a" stroke-width="1.3"/>
<line x1="255.1" y1="2003.4" x2="287.4" y2="2003.4" stroke="#d0508a" stroke-width="1.3"/>
<line x1="255.1" y1="2050.6" x2="287.4" y2="2050.6" stroke="#d0508a" stroke-width="1.3"/>
<circle cx="271.3" cy="1961.1" r="6.2" fill="#d1006a" stroke="#b0005d" stroke-width="1"/>
<circle cx="271.3" cy="2008.3" r="6.2" fill="#d1006a" stroke="#b0005d" stroke-width="1"/>
<circle cx="259.9" cy="2028.2" r="6.2" fill="#d1006a" stroke="#b0005d" stroke-width="1"/>
<circle cx="283" cy="2028.2" r="6.2" fill="#d1006a" stroke="#b0005d" stroke-width="1"/>
<circle cx="271.3" cy="2108.8" r="6.2" fill="#d1006a" stroke="#b0005d" stroke-width="1"/>
<line x1="237.5" y1="2027.2" x2="305.3" y2="2027.2" stroke="#000" stroke-width="2.6"/>
<text x="162.8" y="2319.8" text-anchor="middle" transform="rotate(-45 162.8 2319.8)">DMSO</text>
<text x="241.4" y="2322.8" text-anchor="middle" transform="rotate(-45 241.4 2322.8)">5 mg/kg</text>
<text x="252.9" y="2361.5" text-anchor="middle" transform="rotate(-45 252.9 2361.5)">Elesclomol</text>
<clipPath id="hetop"><rect x="385.2" y="1837.1" width="207.2" height="213.1"/></clipPath>
<g clip-path="url(#hetop)">
<rect x="385.2" y="1837.1" width="207.2" height="213.1" fill="#c86cc9"/>
<ellipse cx="514.3" cy="1995.2" rx="15.5" ry="13.5" fill="#b95cbe" opacity="0.5" filter="url(#bl3)"/>
<ellipse cx="538.5" cy="2033.6" rx="6.3" ry="9.2" fill="#b95cbe" opacity="0.5" filter="url(#bl3)"/>
<ellipse cx="580.7" cy="1975.4" rx="16.8" ry="6" fill="#b95cbe" opacity="0.5" filter="url(#bl3)"/>
<ellipse cx="482.4" cy="1889.6" rx="12.5" ry="10.2" fill="#b95cbe" opacity="0.5" filter="url(#bl3)"/>
<ellipse cx="387.9" cy="1883.3" rx="9.4" ry="13.2" fill="#b95cbe" opacity="0.5" filter="url(#bl3)"/>
<ellipse cx="543.9" cy="1871.1" rx="15.6" ry="6.2" fill="#b95cbe" opacity="0.5" filter="url(#bl3)"/>
<ellipse cx="513.1" cy="1864.1" rx="6" ry="12.8" fill="#b95cbe" opacity="0.5" filter="url(#bl3)"/>
<ellipse cx="428.6" cy="1883" rx="17.8" ry="12.9" fill="#b95cbe" opacity="0.5" filter="url(#bl3)"/>
<ellipse cx="445.1" cy="2042" rx="12.5" ry="11.1" fill="#b95cbe" opacity="0.5" filter="url(#bl3)"/>
<ellipse cx="427.6" cy="2037.6" rx="14.3" ry="13.7" fill="#b95cbe" opacity="0.5" filter="url(#bl3)"/>
<ellipse cx="570.4" cy="1900.8" rx="10.3" ry="6.5" fill="#b95cbe" opacity="0.5" filter="url(#bl3)"/>
<ellipse cx="415.4" cy="1851" rx="9.6" ry="10.4" fill="#b95cbe" opacity="0.5" filter="url(#bl3)"/>
<ellipse cx="385.9" cy="1981.6" rx="10.1" ry="7.8" fill="#b95cbe" opacity="0.5" filter="url(#bl3)"/>
<ellipse cx="554.8" cy="1939.5" rx="9.8" ry="9.3" fill="#b95cbe" opacity="0.5" filter="url(#bl3)"/>
<ellipse cx="531.2" cy="1849.2" rx="17.7" ry="5.2" fill="#b95cbe" opacity="0.5" filter="url(#bl3)"/>
<ellipse cx="540.6" cy="2017.1" rx="6.2" ry="12.1" fill="#b95cbe" opacity="0.5" filter="url(#bl3)"/>
<ellipse cx="461.1" cy="1960.4" rx="6.1" ry="5.4" fill="#b95cbe" opacity="0.5" filter="url(#bl3)"/>
<ellipse cx="422.7" cy="2040.6" rx="8.4" ry="11.8" fill="#b95cbe" opacity="0.5" filter="url(#bl3)"/>
<ellipse cx="577.8" cy="2037.8" rx="10.1" ry="8.2" fill="#b95cbe" opacity="0.5" filter="url(#bl3)"/>
<ellipse cx="493.9" cy="2002.4" rx="7.3" ry="11.7" fill="#b95cbe" opacity="0.5" filter="url(#bl3)"/>
<ellipse cx="550.4" cy="2020.3" rx="6.4" ry="13.5" fill="#b95cbe" opacity="0.5" filter="url(#bl3)"/>
<ellipse cx="404.1" cy="1909.7" rx="13.3" ry="13.3" fill="#b95cbe" opacity="0.5" filter="url(#bl3)"/>
<ellipse cx="455.6" cy="2034" rx="12.5" ry="7.8" fill="#b95cbe" opacity="0.5" filter="url(#bl3)"/>
<ellipse cx="450.8" cy="1874.9" rx="6.9" ry="6.3" fill="#b95cbe" opacity="0.5" filter="url(#bl3)"/>
<ellipse cx="528" cy="2049.5" rx="7.9" ry="5.4" fill="#b95cbe" opacity="0.5" filter="url(#bl3)"/>
<ellipse cx="589.6" cy="1950.8" rx="10.9" ry="7.1" fill="#b95cbe" opacity="0.5" filter="url(#bl3)"/>
<ellipse cx="508.3" cy="2013.2" rx="11.5" ry="8.8" fill="#b95cbe" opacity="0.5" filter="url(#bl3)"/>
<ellipse cx="396.7" cy="2032.3" rx="6.4" ry="9.4" fill="#b95cbe" opacity="0.5" filter="url(#bl3)"/>
<ellipse cx="558.9" cy="1864.9" rx="14.8" ry="13.5" fill="#b95cbe" opacity="0.5" filter="url(#bl3)"/>
<ellipse cx="515.8" cy="2005" rx="7.3" ry="8.9" fill="#b95cbe" opacity="0.5" filter="url(#bl3)"/>
<ellipse cx="416.1" cy="2017.1" rx="9.5" ry="9.1" fill="#b95cbe" opacity="0.5" filter="url(#bl3)"/>
<ellipse cx="592.3" cy="2018.7" rx="17.7" ry="9.1" fill="#b95cbe" opacity="0.5" filter="url(#bl3)"/>
<ellipse cx="486.3" cy="1992.6" rx="11.7" ry="7.6" fill="#b95cbe" opacity="0.5" filter="url(#bl3)"/>
<ellipse cx="468.9" cy="1868.3" rx="10.5" ry="13.9" fill="#b95cbe" opacity="0.5" filter="url(#bl3)"/>
<ellipse cx="584.1" cy="1970.7" rx="12" ry="8" fill="#b95cbe" opacity="0.5" filter="url(#bl3)"/>
<ellipse cx="403.7" cy="1895.1" rx="15.4" ry="12.8" fill="#b95cbe" opacity="0.5" filter="url(#bl3)"/>
<ellipse cx="460.1" cy="2004.6" rx="15.3" ry="11.3" fill="#b95cbe" opacity="0.5" filter="url(#bl3)"/>
<ellipse cx="522.8" cy="1999" rx="10.4" ry="11.3" fill="#b95cbe" opacity="0.5" filter="url(#bl3)"/>
<ellipse cx="443.4" cy="1940.6" rx="15.2" ry="11.2" fill="#b95cbe" opacity="0.5" filter="url(#bl3)"/>
<ellipse cx="446.1" cy="2038.6" rx="13.8" ry="10.2" fill="#b95cbe" opacity="0.5" filter="url(#bl3)"/>
<ellipse cx="387.6" cy="1953.7" rx="9" ry="11" fill="#b95cbe" opacity="0.5" filter="url(#bl3)"/>
<ellipse cx="481.1" cy="2011.1" rx="13.8" ry="12.2" fill="#b95cbe" opacity="0.5" filter="url(#bl3)"/>
<ellipse cx="457.3" cy="1974.3" rx="14.9" ry="12.5" fill="#b95cbe" opacity="0.5" filter="url(#bl3)"/>
<ellipse cx="457.7" cy="2016.7" rx="16.4" ry="11.2" fill="#b95cbe" opacity="0.5" filter="url(#bl3)"/>
<ellipse cx="587.5" cy="2040.9" rx="12.2" ry="9.8" fill="#b95cbe" opacity="0.5" filter="url(#bl3)"/>
<ellipse cx="419.6" cy="2015.4" rx="17.2" ry="9.3" fill="#b95cbe" opacity="0.5" filter="url(#bl3)"/>
<ellipse cx="528.5" cy="1990.5" rx="14.8" ry="6.5" fill="#b95cbe" opacity="0.5" filter="url(#bl3)"/>
<ellipse cx="546.9" cy="1960.9" rx="14" ry="8.8" fill="#b95cbe" opacity="0.5" filter="url(#bl3)"/>
<ellipse cx="514.4" cy="2002.2" rx="13.6" ry="11.5" fill="#b95cbe" opacity="0.5" filter="url(#bl3)"/>
<ellipse cx="390.9" cy="1871.2" rx="11.3" ry="10.9" fill="#b95cbe" opacity="0.5" filter="url(#bl3)"/>
<ellipse cx="430.6" cy="1983.3" rx="13.6" ry="5.4" fill="#b95cbe" opacity="0.5" filter="url(#bl3)"/>
<ellipse cx="482.9" cy="1885.3" rx="6.6" ry="6.2" fill="#b95cbe" opacity="0.5" filter="url(#bl3)"/>
<ellipse cx="451" cy="1875.8" rx="8.3" ry="5.3" fill="#b95cbe" opacity="0.5" filter="url(#bl3)"/>
<ellipse cx="481.6" cy="1918.1" rx="13.3" ry="10.3" fill="#b95cbe" opacity="0.5" filter="url(#bl3)"/>
<ellipse cx="434.5" cy="2029.6" rx="6" ry="8.6" fill="#b95cbe" opacity="0.5" filter="url(#bl3)"/>
<path d="M433.2,1879.1 L447.3,1883.1 L465.3,1907.1 L483.3,1937.1 L497.3,1967.2 L493.3,1983.2 L481.3,1977.2 L469.3,1955.2 L455.3,1933.1 L441.3,1907.1 Z" fill="#e292dc" opacity="0.8" filter="url(#bl2)"/>
<path d="M387.2,1897.1 L395.2,1892.1 L399.2,1907.1 L395.2,1927.1 L387.2,1932.1 Z" fill="#e59ade" opacity="0.8" filter="url(#bl2)"/>
<path d="M407.2,1932.1 L419.2,1929.1 L425.2,1947.2 L415.2,1959.2 L407.2,1952.2 Z" fill="#e08fd9" opacity="0.7" filter="url(#bl2)"/>
<path d="M403.2,1977.2 L427.2,1975.2 L435.2,1987.2 L425.2,1999.2 L405.2,1997.2 Z" fill="#e39bdc" opacity="0.8" filter="url(#bl2)"/>
<path d="M385.2,1837.1 L445.3,1837.1 L440.3,1847.1 L415.2,1857.1 L395.2,1872.1 L385.2,1877.1 Z" fill="#d98ad6" opacity="0.6" filter="url(#bl2)"/>
<path d="M515.3,1997.2 L575.4,1995.2 L585.4,2007.2 L535.3,2009.2 Z" fill="#df90d8" opacity="0.7" filter="url(#bl2)"/>
<path d="M505.3,1932.1 L525.3,1929.1 L535.3,1947.2 L515.3,1955.2 Z" fill="#dc8ed6" opacity="0.6" filter="url(#bl2)"/>
<path d="M550.4,1927.1 L565.4,1922.1 L575.4,1937.1 L560.4,1945.2 Z" fill="#e39bdc" opacity="0.7" filter="url(#bl2)"/>
<path d="M440.3,2022.2 L455.3,2017.2 L460.3,2050.2 L443.3,2050.2 Z" fill="#e2a0dc" opacity="0.8" filter="url(#bl2)"/>
<ellipse cx="473.3" cy="1993.2" rx="13" ry="11" fill="#f2dcf0" opacity="0.95" filter="url(#bl2)"/>
<ellipse cx="411.2" cy="1871.1" rx="4" ry="4" fill="#fbf0fa" filter="url(#bl2)"/>
<ellipse cx="418.2" cy="1987.2" rx="12" ry="8" fill="#eab2e4" opacity="0.8" filter="url(#bl2)"/>
<rect x="385.2" y="1837.1" width="207.2" height="213.1" filter="url(#heD)" opacity="0.55"/>
<rect x="385.2" y="1837.1" width="207.2" height="213.1" filter="url(#heL)" opacity="0.5"/>
<path d="M400.3,1839 L394.7,1850.4 L391.5,1865.5 L390.9,1878.1 L397.2,1880.6 L404.8,1880 L411.1,1876.9" fill="none" stroke="#4c1f58" stroke-width="0.9" stroke-linejoin="round" opacity="0.85"/>
<path d="M409.8,1837.7 L413.6,1847.8 L414.6,1856.7 L413,1868" fill="none" stroke="#4c1f58" stroke-width="0.9" stroke-linejoin="round" opacity="0.85"/>
<path d="M411.1,1876.9 L416.1,1883.2 L417.4,1889.5 L419.9,1893.3 L421.2,1905.9 L422.4,1918.5 L423.1,1931.1 L430,1943.9 L435.1,1956.5 L435.7,1960.3" fill="none" stroke="#4c1f58" stroke-width="0.9" stroke-linejoin="round" opacity="0.85"/>
<path d="M431.3,1883.2 L438.9,1895.8 L447.8,1910.9 L450.3,1921 L445.3,1931.1 L440.2,1941.2 L437.7,1951.4 L435.1,1960.3" fill="none" stroke="#4c1f58" stroke-width="0.9" stroke-linejoin="round" opacity="0.85"/>
<path d="M451.6,1837.7 L455.3,1846.6 L462.9,1855.4 L475.5,1858.6 L483.1,1858.6 L484.4,1850.4 L484.4,1837.7" fill="none" stroke="#4c1f58" stroke-width="0.9" stroke-linejoin="round" opacity="0.85"/>
<path d="M459.1,1859.2 L462.9,1868 L468,1875.6 L471.8,1883.2 L479.3,1890.7 L488.2,1894.5 L493.2,1897.1" fill="none" stroke="#4c1f58" stroke-width="0.9" stroke-linejoin="round" opacity="0.85"/>
<path d="M483.1,1858.6 L489.4,1868 L494.5,1871.8 L500.8,1880.6 L507.1,1885.7 L508.4,1895.8 L505.8,1903.4" fill="none" stroke="#4c1f58" stroke-width="0.9" stroke-linejoin="round" opacity="0.85"/>
<path d="M503.3,1837.7 L512.1,1844 L521,1847.8 L531.1,1850.4 L538.6,1856.7 L543.8,1863 L545.1,1870.5" fill="none" stroke="#4c1f58" stroke-width="0.9" stroke-linejoin="round" opacity="0.85"/>
</g>
<clipPath id="hebot"><rect x="386.7" y="2102.6" width="206.4" height="214.3"/></clipPath>
<g clip-path="url(#hebot)">
<rect x="386.7" y="2102.6" width="206.4" height="214.3" fill="#c56bc8"/>
<ellipse cx="482.3" cy="2182.6" rx="7.7" ry="12.8" fill="#b75abd" opacity="0.45" filter="url(#bl3)"/>
<ellipse cx="388" cy="2210.3" rx="16.8" ry="5.7" fill="#b75abd" opacity="0.45" filter="url(#bl3)"/>
<ellipse cx="501.1" cy="2234.7" rx="6.5" ry="8.4" fill="#b75abd" opacity="0.45" filter="url(#bl3)"/>
<ellipse cx="531.9" cy="2199.5" rx="14.7" ry="6.4" fill="#b75abd" opacity="0.45" filter="url(#bl3)"/>
<ellipse cx="435.8" cy="2126.4" rx="12.1" ry="13.3" fill="#b75abd" opacity="0.45" filter="url(#bl3)"/>
<ellipse cx="508.6" cy="2268.5" rx="10.6" ry="11.7" fill="#b75abd" opacity="0.45" filter="url(#bl3)"/>
<ellipse cx="407.7" cy="2165" rx="14.1" ry="11.5" fill="#b75abd" opacity="0.45" filter="url(#bl3)"/>
<ellipse cx="473.8" cy="2121.4" rx="9.2" ry="6.9" fill="#b75abd" opacity="0.45" filter="url(#bl3)"/>
<ellipse cx="444.7" cy="2276.1" rx="8.4" ry="13" fill="#b75abd" opacity="0.45" filter="url(#bl3)"/>
<ellipse cx="568.2" cy="2114.3" rx="10.5" ry="9.4" fill="#b75abd" opacity="0.45" filter="url(#bl3)"/>
<ellipse cx="391.5" cy="2193.6" rx="16.9" ry="6" fill="#b75abd" opacity="0.45" filter="url(#bl3)"/>
<ellipse cx="509.9" cy="2128.6" rx="12.9" ry="13.1" fill="#b75abd" opacity="0.45" filter="url(#bl3)"/>
<ellipse cx="428.6" cy="2104.4" rx="7" ry="9.9" fill="#b75abd" opacity="0.45" filter="url(#bl3)"/>
<ellipse cx="390.3" cy="2120.8" rx="12" ry="13.3" fill="#b75abd" opacity="0.45" filter="url(#bl3)"/>
<ellipse cx="473.4" cy="2187.9" rx="13.7" ry="5.8" fill="#b75abd" opacity="0.45" filter="url(#bl3)"/>
<ellipse cx="506.4" cy="2139.6" rx="13.3" ry="13.6" fill="#b75abd" opacity="0.45" filter="url(#bl3)"/>
<ellipse cx="397.9" cy="2221.5" rx="13.3" ry="6.3" fill="#b75abd" opacity="0.45" filter="url(#bl3)"/>
<ellipse cx="442.1" cy="2315.8" rx="18" ry="6.1" fill="#b75abd" opacity="0.45" filter="url(#bl3)"/>
<ellipse cx="532.3" cy="2306.4" rx="8.8" ry="10.5" fill="#b75abd" opacity="0.45" filter="url(#bl3)"/>
<ellipse cx="395.6" cy="2181" rx="14.1" ry="10.3" fill="#b75abd" opacity="0.45" filter="url(#bl3)"/>
<ellipse cx="546.6" cy="2121.2" rx="10.2" ry="12.8" fill="#b75abd" opacity="0.45" filter="url(#bl3)"/>
<ellipse cx="507.3" cy="2199.3" rx="10.8" ry="13.9" fill="#b75abd" opacity="0.45" filter="url(#bl3)"/>
<ellipse cx="505.3" cy="2106.5" rx="15.6" ry="8" fill="#b75abd" opacity="0.45" filter="url(#bl3)"/>
<ellipse cx="476.2" cy="2148.3" rx="11.3" ry="7.9" fill="#b75abd" opacity="0.45" filter="url(#bl3)"/>
<ellipse cx="405" cy="2237.5" rx="7.2" ry="12.1" fill="#b75abd" opacity="0.45" filter="url(#bl3)"/>
<ellipse cx="391.9" cy="2269.9" rx="15.7" ry="9.5" fill="#b75abd" opacity="0.45" filter="url(#bl3)"/>
<ellipse cx="533.1" cy="2155.8" rx="14.9" ry="8.8" fill="#b75abd" opacity="0.45" filter="url(#bl3)"/>
<ellipse cx="434.4" cy="2309.2" rx="10.8" ry="8.4" fill="#b75abd" opacity="0.45" filter="url(#bl3)"/>
<ellipse cx="564.2" cy="2181.8" rx="14" ry="6.5" fill="#b75abd" opacity="0.45" filter="url(#bl3)"/>
<ellipse cx="560.8" cy="2158.1" rx="6.6" ry="13.8" fill="#b75abd" opacity="0.45" filter="url(#bl3)"/>
<ellipse cx="422.4" cy="2305.4" rx="17.8" ry="10.5" fill="#b75abd" opacity="0.45" filter="url(#bl3)"/>
<ellipse cx="389.2" cy="2115.7" rx="8.5" ry="8.5" fill="#b75abd" opacity="0.45" filter="url(#bl3)"/>
<ellipse cx="512.9" cy="2309.7" rx="10.3" ry="6.3" fill="#b75abd" opacity="0.45" filter="url(#bl3)"/>
<ellipse cx="502.7" cy="2132" rx="7" ry="10" fill="#b75abd" opacity="0.45" filter="url(#bl3)"/>
<ellipse cx="530.4" cy="2116.7" rx="11.4" ry="11.3" fill="#b75abd" opacity="0.45" filter="url(#bl3)"/>
<ellipse cx="544.4" cy="2184.7" rx="16.6" ry="6.5" fill="#b75abd" opacity="0.45" filter="url(#bl3)"/>
<ellipse cx="534.4" cy="2268" rx="16.6" ry="9.4" fill="#b75abd" opacity="0.45" filter="url(#bl3)"/>
<ellipse cx="407.2" cy="2113" rx="12.3" ry="6.6" fill="#b75abd" opacity="0.45" filter="url(#bl3)"/>
<ellipse cx="516.7" cy="2120.7" rx="15.4" ry="7" fill="#b75abd" opacity="0.45" filter="url(#bl3)"/>
<ellipse cx="389.4" cy="2140.3" rx="11.5" ry="10" fill="#b75abd" opacity="0.45" filter="url(#bl3)"/>
<ellipse cx="466.8" cy="2139.7" rx="11.8" ry="13.5" fill="#b75abd" opacity="0.45" filter="url(#bl3)"/>
<ellipse cx="497.2" cy="2304.3" rx="6.3" ry="13.9" fill="#b75abd" opacity="0.45" filter="url(#bl3)"/>
<ellipse cx="570.2" cy="2219.3" rx="12.3" ry="9.8" fill="#b75abd" opacity="0.45" filter="url(#bl3)"/>
<ellipse cx="574.4" cy="2116.7" rx="13.7" ry="9.9" fill="#b75abd" opacity="0.45" filter="url(#bl3)"/>
<ellipse cx="448.7" cy="2258" rx="14.6" ry="5.9" fill="#b75abd" opacity="0.45" filter="url(#bl3)"/>
<ellipse cx="531.1" cy="2199.8" rx="11.9" ry="10.7" fill="#b75abd" opacity="0.45" filter="url(#bl3)"/>
<ellipse cx="397.6" cy="2231.8" rx="10.5" ry="12.9" fill="#b75abd" opacity="0.45" filter="url(#bl3)"/>
<ellipse cx="434.4" cy="2279" rx="14.8" ry="10.6" fill="#b75abd" opacity="0.45" filter="url(#bl3)"/>
<ellipse cx="567.5" cy="2110.3" rx="13.2" ry="10.5" fill="#b75abd" opacity="0.45" filter="url(#bl3)"/>
<ellipse cx="526.7" cy="2189.8" rx="6.8" ry="6.7" fill="#b75abd" opacity="0.45" filter="url(#bl3)"/>
<path d="M386.7,2184.5 L416.6,2178.5 L444.5,2182.5 L441.5,2202.5 L438.5,2220.5 L416.6,2222.5 L396.7,2216.5 L386.7,2214.5 Z" fill="#db90d6" opacity="0.85" filter="url(#bl2)"/>
<path d="M396.8,2151.8 L405.5,2145.5 L413.1,2136.7 L421.9,2127.8 L437.1,2122.2 L455.9,2117.7 L481.1,2111.4 L506.3,2107.7 L544,2103.9 L593.1,2102.6 L593.1,2108.9 L556.6,2114 L547.8,2120.3 L518.8,2124.1 L505,2126.6 L501.3,2135.4 L503.8,2145.5 L489.9,2149.3 L484.9,2158 L483.6,2170.7 L468.6,2170.7 L455.9,2168.1 L445.8,2175.7 L433.3,2170.7 L418.1,2170.7 L405.5,2165.6 L399.3,2158 Z" fill="#f592d6" filter="url(#bl2)"/>
<path d="M440.8,2183.3 L450.9,2175.7 L450.9,2190.9 L458.4,2208.5 L471.1,2221.2 L478.5,2231.3 L493.7,2221.2 L506.3,2208.5 L513.8,2195.9 L525.1,2198.4 L544,2202.2 L556.6,2206 L544,2208.5 L528.9,2214.8 L521.4,2227.5 L521.4,2240.1 L544,2243.9 L573,2246.4 L575.5,2252.7 L556.6,2259 L531.4,2251.4 L518.8,2243.9 L501.3,2240.1 L493.7,2252.7 L491.2,2271.5 L489.9,2296.8 L484.9,2316.9 L468.6,2316.9 L462.2,2303 L455.9,2284.1 L445.8,2271.5 L435.8,2265.2 L430.8,2259 L425.7,2261.5 L433.3,2274 L440.8,2290.4 L443.3,2316.9 L435.8,2316.9 L433.3,2303 L428.2,2284.1 L421.9,2269 L423.2,2259 L437.1,2252.7 L447.1,2246.4 L450.9,2237.6 L443.3,2221.5 L440.8,2208.5 Z" fill="#f592d6" filter="url(#bl2)"/>
<ellipse cx="562.2" cy="2225.5" rx="10.7" ry="5.7" fill="#f592d6" filter="url(#bl2)"/>
<path d="M456.5,2104.6 L536.3,2102.6 L546.2,2107.6 L496.4,2116.6 L456.5,2114.6 Z" fill="#f0c8ec" opacity="0.7" filter="url(#bl2)"/>
<rect x="386.7" y="2102.6" width="206.4" height="214.3" filter="url(#heD)" opacity="0.45"/>
<rect x="386.7" y="2102.6" width="206.4" height="214.3" filter="url(#heL)" opacity="0.25"/>
<line x1="387.3" y1="2102.6" x2="387.3" y2="2316.9" stroke="#333" stroke-width="1.2"/>
</g>
<rect x="395.5" y="1848.6" width="48.8" height="5.2" fill="#000"/>
<rect x="398.6" y="2112.9" width="48.8" height="5.2" fill="#000"/>
<text x="491.2" y="2088.5" text-anchor="middle">DMSO</text>
<text x="485.4" y="2347.3" text-anchor="middle">5 mg/kg</text>
<text x="485.4" y="2381.8" text-anchor="middle">Elesclomol</text>
<text x="636" y="1850.2" style="font-size:41px" font-weight="bold">k</text>
<text x="1046.6" y="1860.2">Advanced mineralized 3D bone model</text>
<line x1="935.3" y1="1869" x2="1626.5" y2="1869" stroke="#000" stroke-width="2"/>
<line x1="751.8" y1="1928.5" x2="751.8" y2="2264.3" stroke="#1c1c1c" stroke-width="2"/>
<line x1="742.8" y1="1928.5" x2="751.8" y2="1928.5" stroke="#1c1c1c" stroke-width="2"/>
<text x="731.3" y="1938.8" text-anchor="end">140</text>
<line x1="742.8" y1="1976.7" x2="751.8" y2="1976.7" stroke="#1c1c1c" stroke-width="2"/>
<text x="731.3" y="1987" text-anchor="end">120</text>
<line x1="742.8" y1="2024.9" x2="751.8" y2="2024.9" stroke="#1c1c1c" stroke-width="2"/>
<text x="731.3" y="2035.2" text-anchor="end">100</text>
<line x1="742.8" y1="2072.3" x2="751.8" y2="2072.3" stroke="#1c1c1c" stroke-width="2"/>
<text x="731.3" y="2082.6" text-anchor="end">80</text>
<line x1="742.8" y1="2120.5" x2="751.8" y2="2120.5" stroke="#1c1c1c" stroke-width="2"/>
<text x="731.3" y="2130.8" text-anchor="end">60</text>
<line x1="742.8" y1="2168.7" x2="751.8" y2="2168.7" stroke="#1c1c1c" stroke-width="2"/>
<text x="731.3" y="2179" text-anchor="end">40</text>
<line x1="742.8" y1="2216.5" x2="751.8" y2="2216.5" stroke="#1c1c1c" stroke-width="2"/>
<text x="731.3" y="2226.8" text-anchor="end">20</text>
<line x1="742.8" y1="2264.3" x2="751.8" y2="2264.3" stroke="#1c1c1c" stroke-width="2"/>
<text x="731.3" y="2274.6" text-anchor="end">0</text>
<line x1="742.8" y1="2264.3" x2="960.2" y2="2264.3" stroke="#1c1c1c" stroke-width="2"/>
<text x="661" y="2096" text-anchor="middle" transform="rotate(-90 661 2096)">Rel. cell number (%)</text>
<line x1="810.8" y1="1988" x2="810.8" y2="2061" stroke="#888" stroke-width="1.3"/>
<line x1="796.4" y1="1988" x2="825.3" y2="1988" stroke="#888" stroke-width="1.3"/>
<line x1="796.4" y1="2061" x2="825.3" y2="2061" stroke="#888" stroke-width="1.3"/>
<circle cx="810.8" cy="1952.6" r="6.2" fill="#5e5e5e" stroke="#444" stroke-width="1"/>
<circle cx="810.8" cy="2049" r="6.2" fill="#5e5e5e" stroke="#444" stroke-width="1"/>
<circle cx="810.8" cy="2072.3" r="6.2" fill="#5e5e5e" stroke="#444" stroke-width="1"/>
<line x1="781.5" y1="2024.9" x2="840.2" y2="2024.9" stroke="#000" stroke-width="2.6"/>
<circle cx="875.9" cy="2238.6" r="6.2" fill="#d1006a" stroke="#b0005d" stroke-width="1"/>
<circle cx="900" cy="2232.9" r="6.2" fill="#d1006a" stroke="#b0005d" stroke-width="1"/>
<circle cx="924.1" cy="2233.7" r="6.2" fill="#d1006a" stroke="#b0005d" stroke-width="1"/>
<line x1="871.1" y1="2234.9" x2="929.3" y2="2234.9" stroke="#000" stroke-width="2.6"/>
<text x="896.4" y="2210.4" style="font-size:26px" text-anchor="middle">****</text>
<text x="827.7" y="2286.6" text-anchor="end" transform="rotate(-45 827.7 2286.6)">DMSO</text>
<text x="916" y="2287.5" text-anchor="end" transform="rotate(-45 916 2287.5)">Elesclomol</text>
<clipPath id="fr1"><rect x="1008.4" y="1930.5" width="166.7" height="150.6"/></clipPath>
<g clip-path="url(#fr1)">
<rect x="1008.4" y="1930.5" width="166.7" height="150.6" fill="#000"/>
<path d="M1087.7,1935.8 L1112.8,1933.1 L1123.4,1942.8 L1134.1,1955.1 L1150,1965.7 L1175.1,1974.4 L1180.6,1980.3 L1180.6,2008.2 L1175.1,2002.5 L1158.8,1990.2 L1141.1,1977.9 L1123.4,1970.8 L1105.8,1965.7 L1091.7,1960.3 L1086.4,1948 Z" fill="#33208c" opacity="0.8" filter="url(#bl3)"/>
<ellipse cx="1108.5" cy="1948.4" rx="14" ry="9" fill="#4a2aa8" opacity="0.6" filter="url(#bl3)"/>
<path d="M1047.5,1995.4 L1058.2,1990.2 L1074.1,1984.9 L1082.9,1986.7 L1093.4,1992 L1098.7,2007.7 L1109.3,2021.7 L1116.4,2028.8 L1112.8,2035.8 L1105.8,2042.9 L1093.4,2044.6 L1074.1,2042.9 L1070.5,2032.3 L1060,2018.3 L1052.9,2004.2 Z" fill="#b0186a" filter="url(#bl2)"/>
<path d="M1063.5,2008.2 L1083.5,2010.2 L1103.5,2028.1 L1098.5,2040.1 L1078.5,2038.1 L1068.5,2025.1 Z" fill="#6a2a9a" opacity="0.45" filter="url(#bl3)"/>
<ellipse cx="1077.5" cy="1998.2" rx="9" ry="10" fill="#ff2d5c" opacity="0.85" filter="url(#bl3)"/>
<path d="M1042.2,2053.4 L1052.9,2048.1 L1070.5,2046.3 L1084.6,2048.1 L1098.7,2046.3 L1119.8,2049.8 L1134.1,2060.4 L1142.9,2074.4 L1142.9,2084.9 L1075.8,2084.9 L1067,2069.1 L1052.9,2058.6 Z" fill="#b8186a" filter="url(#bl2)"/>
<path d="M1078.5,2052 L1103.5,2052 L1118.5,2065 L1108.5,2074.9 L1088.5,2069.9 Z" fill="#6a2a9a" opacity="0.5" filter="url(#bl3)"/>
<ellipse cx="1123.5" cy="2069.9" rx="8" ry="5" fill="#ff2050" opacity="0.5" filter="url(#bl3)"/>
<ellipse cx="1052.5" cy="1932.5" rx="6" ry="3" fill="#802050" opacity="0.7" filter="url(#bl2)"/>
</g>
<clipPath id="fr2"><rect x="1007.9" y="2128.3" width="167.1" height="151.2"/></clipPath>
<g clip-path="url(#fr2)">
<rect x="1007.9" y="2128.3" width="167.1" height="151.2" fill="#000"/>
<circle cx="1105.7" cy="2147.4" r="11" fill="#b2208a" filter="url(#bl2)"/>
<circle cx="1107" cy="2150" r="6" fill="#ff2a80" opacity="0.6" filter="url(#bl2)"/>
<circle cx="1128.7" cy="2168.5" r="7" fill="#b01a7a" filter="url(#bl2)"/>
<circle cx="1023" cy="2264" r="4" fill="#601040" filter="url(#bl3)"/>
<circle cx="1051" cy="2271" r="4" fill="#601040" filter="url(#bl3)"/>
</g>
<rect x="1016.2" y="1943.4" width="55.2" height="3.6" fill="#fff"/>
<text x="1087.1" y="1919.7" text-anchor="middle">DMSO</text>
<text x="1090" y="2118.5" text-anchor="middle">Elesclomol</text>
<text x="1210.5" y="2105.2" text-anchor="middle" transform="rotate(-90 1210.5 2105.2)">TC-32/TR/shSOX6</text>
<text x="1090" y="2318" text-anchor="middle" fill="#1f3fe6">Osteoblasts</text>
<text x="1090" y="2358.2" text-anchor="middle" fill="#ea1a8a">EwS cells</text>
<line x1="1411.2" y1="1927.9" x2="1411.2" y2="2262.9" stroke="#1c1c1c" stroke-width="2"/>
<line x1="1402.2" y1="1927.9" x2="1411.2" y2="1927.9" stroke="#1c1c1c" stroke-width="2"/>
<text x="1390.7" y="1938.2" text-anchor="end">700</text>
<line x1="1402.2" y1="1975.3" x2="1411.2" y2="1975.3" stroke="#1c1c1c" stroke-width="2"/>
<text x="1390.7" y="1985.6" text-anchor="end">600</text>
<line x1="1402.2" y1="2023.6" x2="1411.2" y2="2023.6" stroke="#1c1c1c" stroke-width="2"/>
<text x="1390.7" y="2033.9" text-anchor="end">500</text>
<line x1="1402.2" y1="2071.5" x2="1411.2" y2="2071.5" stroke="#1c1c1c" stroke-width="2"/>
<text x="1390.7" y="2081.8" text-anchor="end">400</text>
<line x1="1402.2" y1="2118.9" x2="1411.2" y2="2118.9" stroke="#1c1c1c" stroke-width="2"/>
<text x="1390.7" y="2129.2" text-anchor="end">300</text>
<line x1="1402.2" y1="2167.2" x2="1411.2" y2="2167.2" stroke="#1c1c1c" stroke-width="2"/>
<text x="1390.7" y="2177.5" text-anchor="end">200</text>
<line x1="1402.2" y1="2214.6" x2="1411.2" y2="2214.6" stroke="#1c1c1c" stroke-width="2"/>
<text x="1390.7" y="2224.9" text-anchor="end">100</text>
<line x1="1402.2" y1="2262.9" x2="1411.2" y2="2262.9" stroke="#1c1c1c" stroke-width="2"/>
<text x="1390.7" y="2273.2" text-anchor="end">0</text>
<line x1="1402.2" y1="2262.9" x2="1618.3" y2="2262.9" stroke="#1c1c1c" stroke-width="2"/>
<text x="1318" y="2095" text-anchor="middle" transform="rotate(-90 1318 2095)">Rel. CC3/DAPI positivity (%)</text>
<line x1="1462.8" y1="2198.1" x2="1462.8" y2="2232.3" stroke="#888" stroke-width="1.3"/>
<line x1="1445.4" y1="2198.1" x2="1480.1" y2="2198.1" stroke="#888" stroke-width="1.3"/>
<line x1="1445.4" y1="2232.3" x2="1480.1" y2="2232.3" stroke="#888" stroke-width="1.3"/>
<circle cx="1451.2" cy="2191.9" r="6.2" fill="#5e5e5e" stroke="#444" stroke-width="1"/>
<circle cx="1474.7" cy="2203.1" r="6.2" fill="#5e5e5e" stroke="#444" stroke-width="1"/>
<circle cx="1462.8" cy="2249.7" r="6.2" fill="#5e5e5e" stroke="#444" stroke-width="1"/>
<line x1="1428.5" y1="2214.6" x2="1497.4" y2="2214.6" stroke="#000" stroke-width="2.6"/>
<line x1="1565.9" y1="2009.6" x2="1565.9" y2="2072.3" stroke="#d0508a" stroke-width="1.3"/>
<line x1="1548.6" y1="2009.6" x2="1583.2" y2="2009.6" stroke="#d0508a" stroke-width="1.3"/>
<line x1="1548.6" y1="2072.3" x2="1583.2" y2="2072.3" stroke="#d0508a" stroke-width="1.3"/>
<circle cx="1565.9" cy="1980.3" r="6.2" fill="#d1006a" stroke="#b0005d" stroke-width="1"/>
<circle cx="1565.9" cy="2055.8" r="6.2" fill="#d1006a" stroke="#b0005d" stroke-width="1"/>
<circle cx="1565.9" cy="2087.5" r="6.2" fill="#d1006a" stroke="#b0005d" stroke-width="1"/>
<line x1="1531.7" y1="2041.3" x2="1600.5" y2="2041.3" stroke="#000" stroke-width="2.6"/>
<text x="1563.8" y="1944.9" style="font-size:26px" text-anchor="middle">**</text>
<text x="1481.5" y="2287.5" text-anchor="end" transform="rotate(-45 1481.5 2287.5)">DMSO</text>
<text x="1583" y="2291" text-anchor="end" transform="rotate(-45 1583 2291)">Elesclomol</text>
<clipPath id="fg1"><rect x="1665.7" y="1930" width="165" height="150.5"/></clipPath>
<g clip-path="url(#fg1)">
<rect x="1665.7" y="1930" width="165" height="150.5" fill="#01051a"/>
<ellipse cx="1775.7" cy="2005" rx="70" ry="60" fill="url(#hzB)" opacity="0.8"/>
<ellipse cx="1820.7" cy="2020" rx="55" ry="95" fill="url(#hzG)"/>
<ellipse cx="1705.7" cy="2075" rx="35" ry="16" fill="url(#hzB)"/>
<ellipse cx="1725.7" cy="1965" rx="16" ry="12" fill="url(#hzB)"/>
<ellipse cx="1670.7" cy="2000" rx="10" ry="25" fill="url(#hzB)"/>
<ellipse cx="1794.2" cy="1951.7" rx="16.5" ry="18" fill="#22b040" filter="url(#bl2)"/>
<ellipse cx="1794.2" cy="1951.7" rx="13.8" ry="15.5" fill="#1a5ae8" filter="url(#bl2)"/>
<ellipse cx="1759.9" cy="2001" rx="23.5" ry="19" fill="#1e6a60" opacity="0.7" filter="url(#bl2)"/>
<ellipse cx="1759.9" cy="2001" rx="22" ry="17.5" fill="#1c52dc" filter="url(#bl2)"/>
<ellipse cx="1757" cy="2060" rx="22" ry="13" fill="#1a48c8" filter="url(#bl3)"/>
<ellipse cx="1786" cy="2057" rx="9" ry="7" fill="#1e5a90" opacity="0.8" filter="url(#bl3)"/>
</g>
<clipPath id="fg2"><rect x="1665.9" y="2127" width="165.3" height="151.3"/></clipPath>
<g clip-path="url(#fg2)">
<rect x="1665.9" y="2127" width="165.3" height="151.3" fill="#000"/>
<circle cx="1711.4" cy="2130.6" r="3" fill="#2ad02a" filter="url(#bl2)"/>
<circle cx="1715.8" cy="2138.5" r="3.2" fill="#2ad02a" filter="url(#bl2)"/>
<circle cx="1747.5" cy="2165.9" r="4" fill="#2ad02a" filter="url(#bl2)"/>
<circle cx="1695.5" cy="2185.2" r="4" fill="#2ad02a" filter="url(#bl2)"/>
<circle cx="1793" cy="2166" r="4.5" fill="#2ad02a" filter="url(#bl2)"/>
<circle cx="1789" cy="2174" r="4" fill="#2040e0" filter="url(#bl2)"/>
<path d="M1817,2127 L1818,2150 L1830,2160" stroke="#1a8a3a" stroke-width="1.5" fill="none"/>
</g>
<rect x="1679.7" y="1942" width="54.3" height="3.6" fill="#fff"/>
<text x="1753.2" y="1920.9" text-anchor="middle">DMSO</text>
<text x="1753.2" y="2118.9" text-anchor="middle">Elesclomol</text>
<text x="1867.5" y="2110" text-anchor="middle" transform="rotate(-90 1867.5 2110)">TC-32/TR/shSOX6</text>
<text x="1753" y="2311.6" text-anchor="middle" fill="#1f3fe6">EwS cells</text>
<text x="1753" y="2358.2" text-anchor="middle" fill="#3cb01e">CC3 positive</text>
<text x="1753" y="2391.2" text-anchor="middle" fill="#3cb01e">cells</text>
</svg>
</body></html>
